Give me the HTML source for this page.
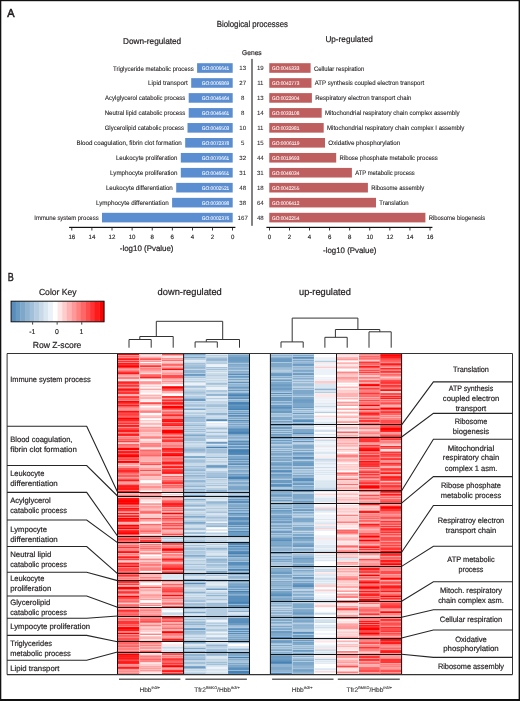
<!DOCTYPE html>
<html><head><meta charset="utf-8"><title>Figure</title>
<style>html,body{margin:0;padding:0;background:#fff;width:520px;height:701px;overflow:hidden}svg{display:block;text-rendering:geometricPrecision}#w{width:520px;height:701px;will-change:transform}</style>
</head><body>
<div id="w"><svg width="520" height="701" viewBox="0 0 520 701" font-family='"Liberation Sans", sans-serif'><rect x="0" y="0" width="520" height="701" fill="#fff"/>
<text x="7.2" y="16.8" font-size="11.6" fill="#231f20" stroke="#231f20" stroke-width="0.6" textLength="7.3" lengthAdjust="spacingAndGlyphs">A</text>
<text x="216.7" y="27.3" font-size="8.77" fill="#231f20" stroke="#231f20" stroke-width="0.21" textLength="71.2" lengthAdjust="spacingAndGlyphs">Biological processes</text>
<text x="123" y="43.5" font-size="8.47" fill="#231f20" stroke="#231f20" stroke-width="0.21" textLength="58.2" lengthAdjust="spacingAndGlyphs">Down-regulated</text>
<text x="325.4" y="42.3" font-size="8.47" fill="#231f20" stroke="#231f20" stroke-width="0.21" textLength="47.4" lengthAdjust="spacingAndGlyphs">Up-regulated</text>
<text x="242" y="54.8" font-size="6.94" fill="#231f20" stroke="#231f20" stroke-width="0.17" textLength="19.7" lengthAdjust="spacingAndGlyphs">Genes</text>
<rect x="251.3" y="58.9" width="1.4" height="166.9" fill="#4d4d4f"/>
<rect x="197.1" y="63.2" width="35.6" height="9.6" fill="#5b8dd1"/>
<text x="193.7" y="70.5" font-size="6.52" text-anchor="end" fill="#231f20" stroke="#231f20" stroke-width="0.1" textLength="80.7" lengthAdjust="spacingAndGlyphs">Triglyceride metabolic process</text>
<text x="229.3" y="70" font-size="5.18" text-anchor="end" fill="#fff" stroke="#fff" stroke-width="0.05" textLength="27.5" lengthAdjust="spacingAndGlyphs">GO:0006641</text>
<text x="242.7" y="70.2" font-size="6.1" text-anchor="middle" fill="#231f20" stroke="#231f20" stroke-width="0.05" textLength="6.79" lengthAdjust="spacingAndGlyphs">13</text>
<rect x="191.2" y="78.16" width="41.5" height="9.6" fill="#5b8dd1"/>
<text x="187.8" y="85.46" font-size="6.52" text-anchor="end" fill="#231f20" stroke="#231f20" stroke-width="0.1" textLength="39.8" lengthAdjust="spacingAndGlyphs">Lipid transport</text>
<text x="229.3" y="84.96" font-size="5.18" text-anchor="end" fill="#fff" stroke="#fff" stroke-width="0.05" textLength="27.5" lengthAdjust="spacingAndGlyphs">GO:0006869</text>
<text x="242.7" y="85.16" font-size="6.1" text-anchor="middle" fill="#231f20" stroke="#231f20" stroke-width="0.05" textLength="6.79" lengthAdjust="spacingAndGlyphs">27</text>
<rect x="188.7" y="93.12" width="44" height="9.6" fill="#5b8dd1"/>
<text x="185.3" y="100.42" font-size="6.52" text-anchor="end" fill="#231f20" stroke="#231f20" stroke-width="0.1" textLength="80.2" lengthAdjust="spacingAndGlyphs">Acylglycerol catabolic process</text>
<text x="229.3" y="99.92" font-size="5.18" text-anchor="end" fill="#fff" stroke="#fff" stroke-width="0.05" textLength="27.5" lengthAdjust="spacingAndGlyphs">GO:0046464</text>
<text x="242.7" y="100.12" font-size="6.1" text-anchor="middle" fill="#231f20" stroke="#231f20" stroke-width="0.05" textLength="3.39" lengthAdjust="spacingAndGlyphs">8</text>
<rect x="188.7" y="108.08" width="44" height="9.6" fill="#5b8dd1"/>
<text x="185.3" y="115.38" font-size="6.52" text-anchor="end" fill="#231f20" stroke="#231f20" stroke-width="0.1" textLength="80.6" lengthAdjust="spacingAndGlyphs">Neutral lipid catabolic process</text>
<text x="229.3" y="114.88" font-size="5.18" text-anchor="end" fill="#fff" stroke="#fff" stroke-width="0.05" textLength="27.5" lengthAdjust="spacingAndGlyphs">GO:0046461</text>
<text x="242.7" y="115.08" font-size="6.1" text-anchor="middle" fill="#231f20" stroke="#231f20" stroke-width="0.05" textLength="3.39" lengthAdjust="spacingAndGlyphs">8</text>
<rect x="187.5" y="123.04" width="45.2" height="9.6" fill="#5b8dd1"/>
<text x="184.1" y="130.34" font-size="6.52" text-anchor="end" fill="#231f20" stroke="#231f20" stroke-width="0.1" textLength="79.4" lengthAdjust="spacingAndGlyphs">Glycerolipid catabolic process</text>
<text x="229.3" y="129.84" font-size="5.18" text-anchor="end" fill="#fff" stroke="#fff" stroke-width="0.05" textLength="27.5" lengthAdjust="spacingAndGlyphs">GO:0046503</text>
<text x="242.7" y="130.04" font-size="6.1" text-anchor="middle" fill="#231f20" stroke="#231f20" stroke-width="0.05" textLength="6.79" lengthAdjust="spacingAndGlyphs">10</text>
<rect x="185.2" y="138" width="47.5" height="9.6" fill="#5b8dd1"/>
<text x="181.8" y="145.3" font-size="6.52" text-anchor="end" fill="#231f20" stroke="#231f20" stroke-width="0.1" textLength="105.3" lengthAdjust="spacingAndGlyphs">Blood coagulation, fibrin clot formation</text>
<text x="229.3" y="144.8" font-size="5.18" text-anchor="end" fill="#fff" stroke="#fff" stroke-width="0.05" textLength="27.5" lengthAdjust="spacingAndGlyphs">GO:0072378</text>
<text x="242.7" y="145" font-size="6.1" text-anchor="middle" fill="#231f20" stroke="#231f20" stroke-width="0.05" textLength="3.39" lengthAdjust="spacingAndGlyphs">5</text>
<rect x="180.8" y="152.96" width="51.9" height="9.6" fill="#5b8dd1"/>
<text x="177.4" y="160.26" font-size="6.52" text-anchor="end" fill="#231f20" stroke="#231f20" stroke-width="0.1" textLength="61.5" lengthAdjust="spacingAndGlyphs">Leukocyte proliferation</text>
<text x="229.3" y="159.76" font-size="5.18" text-anchor="end" fill="#fff" stroke="#fff" stroke-width="0.05" textLength="27.5" lengthAdjust="spacingAndGlyphs">GO:0070661</text>
<text x="242.7" y="159.96" font-size="6.1" text-anchor="middle" fill="#231f20" stroke="#231f20" stroke-width="0.05" textLength="6.79" lengthAdjust="spacingAndGlyphs">32</text>
<rect x="180.8" y="167.92" width="51.9" height="9.6" fill="#5b8dd1"/>
<text x="177.4" y="175.22" font-size="6.52" text-anchor="end" fill="#231f20" stroke="#231f20" stroke-width="0.1" textLength="67.3" lengthAdjust="spacingAndGlyphs">Lymphocyte proliferation</text>
<text x="229.3" y="174.72" font-size="5.18" text-anchor="end" fill="#fff" stroke="#fff" stroke-width="0.05" textLength="27.5" lengthAdjust="spacingAndGlyphs">GO:0046651</text>
<text x="242.7" y="174.92" font-size="6.1" text-anchor="middle" fill="#231f20" stroke="#231f20" stroke-width="0.05" textLength="6.79" lengthAdjust="spacingAndGlyphs">31</text>
<rect x="176.2" y="182.88" width="56.5" height="9.6" fill="#5b8dd1"/>
<text x="172.8" y="190.18" font-size="6.52" text-anchor="end" fill="#231f20" stroke="#231f20" stroke-width="0.1" textLength="66.9" lengthAdjust="spacingAndGlyphs">Leukocyte differentiation</text>
<text x="229.3" y="189.68" font-size="5.18" text-anchor="end" fill="#fff" stroke="#fff" stroke-width="0.05" textLength="27.5" lengthAdjust="spacingAndGlyphs">GO:0002521</text>
<text x="242.7" y="189.88" font-size="6.1" text-anchor="middle" fill="#231f20" stroke="#231f20" stroke-width="0.05" textLength="6.79" lengthAdjust="spacingAndGlyphs">48</text>
<rect x="172.1" y="197.84" width="60.6" height="9.6" fill="#5b8dd1"/>
<text x="168.7" y="205.14" font-size="6.52" text-anchor="end" fill="#231f20" stroke="#231f20" stroke-width="0.1" textLength="72.8" lengthAdjust="spacingAndGlyphs">Lymphocyte differentiation</text>
<text x="229.3" y="204.64" font-size="5.18" text-anchor="end" fill="#fff" stroke="#fff" stroke-width="0.05" textLength="27.5" lengthAdjust="spacingAndGlyphs">GO:0030098</text>
<text x="242.7" y="204.84" font-size="6.1" text-anchor="middle" fill="#231f20" stroke="#231f20" stroke-width="0.05" textLength="6.79" lengthAdjust="spacingAndGlyphs">38</text>
<rect x="102" y="212.8" width="130.7" height="9.6" fill="#5b8dd1"/>
<text x="98.6" y="220.1" font-size="6.52" text-anchor="end" fill="#231f20" stroke="#231f20" stroke-width="0.1" textLength="64.3" lengthAdjust="spacingAndGlyphs">Immune system process</text>
<text x="229.3" y="219.6" font-size="5.18" text-anchor="end" fill="#fff" stroke="#fff" stroke-width="0.05" textLength="27.5" lengthAdjust="spacingAndGlyphs">GO:0002376</text>
<text x="242.7" y="219.8" font-size="6.1" text-anchor="middle" fill="#231f20" stroke="#231f20" stroke-width="0.05" textLength="10.18" lengthAdjust="spacingAndGlyphs">167</text>
<rect x="269.3" y="63.2" width="41.3" height="9.6" fill="#bf5e5e"/>
<text x="313.9" y="70.5" font-size="6.47" fill="#231f20" stroke="#231f20" stroke-width="0.1" textLength="50.4" lengthAdjust="spacingAndGlyphs">Cellular respiration</text>
<text x="271.9" y="70" font-size="5.18" fill="#fff" stroke="#fff" stroke-width="0.05" textLength="27.5" lengthAdjust="spacingAndGlyphs">GO:0045333</text>
<text x="260.3" y="70.2" font-size="6.1" text-anchor="middle" fill="#231f20" stroke="#231f20" stroke-width="0.05" textLength="6.79" lengthAdjust="spacingAndGlyphs">19</text>
<rect x="269.3" y="78.16" width="42.2" height="9.6" fill="#bf5e5e"/>
<text x="314.8" y="85.46" font-size="6.47" fill="#231f20" stroke="#231f20" stroke-width="0.1" textLength="109.3" lengthAdjust="spacingAndGlyphs">ATP synthesis coupled electron transport</text>
<text x="271.9" y="84.96" font-size="5.18" fill="#fff" stroke="#fff" stroke-width="0.05" textLength="27.5" lengthAdjust="spacingAndGlyphs">GO:0042773</text>
<text x="260.3" y="85.16" font-size="6.1" text-anchor="middle" fill="#231f20" stroke="#231f20" stroke-width="0.05" textLength="6.33" lengthAdjust="spacingAndGlyphs">11</text>
<rect x="269.3" y="93.12" width="42.6" height="9.6" fill="#bf5e5e"/>
<text x="315.2" y="100.42" font-size="6.47" fill="#231f20" stroke="#231f20" stroke-width="0.1" textLength="96.3" lengthAdjust="spacingAndGlyphs">Respiratory electron transport chain</text>
<text x="271.9" y="99.92" font-size="5.18" fill="#fff" stroke="#fff" stroke-width="0.05" textLength="27.5" lengthAdjust="spacingAndGlyphs">GO:0022904</text>
<text x="260.3" y="100.12" font-size="6.1" text-anchor="middle" fill="#231f20" stroke="#231f20" stroke-width="0.05" textLength="6.79" lengthAdjust="spacingAndGlyphs">13</text>
<rect x="269.3" y="108.08" width="52.4" height="9.6" fill="#bf5e5e"/>
<text x="325" y="115.38" font-size="6.47" fill="#231f20" stroke="#231f20" stroke-width="0.1" textLength="134.6" lengthAdjust="spacingAndGlyphs">Mitochondrial respiratory chain complex assembly</text>
<text x="271.9" y="114.88" font-size="5.18" fill="#fff" stroke="#fff" stroke-width="0.05" textLength="27.5" lengthAdjust="spacingAndGlyphs">GO:0033108</text>
<text x="260.3" y="115.08" font-size="6.1" text-anchor="middle" fill="#231f20" stroke="#231f20" stroke-width="0.05" textLength="6.79" lengthAdjust="spacingAndGlyphs">14</text>
<rect x="269.3" y="123.04" width="54.4" height="9.6" fill="#bf5e5e"/>
<text x="327" y="130.34" font-size="6.47" fill="#231f20" stroke="#231f20" stroke-width="0.1" textLength="137.2" lengthAdjust="spacingAndGlyphs">Mitochondrial respiratory chain complex I assembly</text>
<text x="271.9" y="129.84" font-size="5.18" fill="#fff" stroke="#fff" stroke-width="0.05" textLength="27.5" lengthAdjust="spacingAndGlyphs">GO:0032981</text>
<text x="260.3" y="130.04" font-size="6.1" text-anchor="middle" fill="#231f20" stroke="#231f20" stroke-width="0.05" textLength="6.33" lengthAdjust="spacingAndGlyphs">11</text>
<rect x="269.3" y="138" width="55.7" height="9.6" fill="#bf5e5e"/>
<text x="328.3" y="145.3" font-size="6.47" fill="#231f20" stroke="#231f20" stroke-width="0.1" textLength="72" lengthAdjust="spacingAndGlyphs">Oxidative phosphorylation</text>
<text x="271.9" y="144.8" font-size="5.18" fill="#fff" stroke="#fff" stroke-width="0.05" textLength="27.5" lengthAdjust="spacingAndGlyphs">GO:0006119</text>
<text x="260.3" y="145" font-size="6.1" text-anchor="middle" fill="#231f20" stroke="#231f20" stroke-width="0.05" textLength="6.79" lengthAdjust="spacingAndGlyphs">15</text>
<rect x="269.3" y="152.96" width="66.9" height="9.6" fill="#bf5e5e"/>
<text x="339.5" y="160.26" font-size="6.47" fill="#231f20" stroke="#231f20" stroke-width="0.1" textLength="98.2" lengthAdjust="spacingAndGlyphs">Ribose phosphate metabolic process</text>
<text x="271.9" y="159.76" font-size="5.18" fill="#fff" stroke="#fff" stroke-width="0.05" textLength="27.5" lengthAdjust="spacingAndGlyphs">GO:0019693</text>
<text x="260.3" y="159.96" font-size="6.1" text-anchor="middle" fill="#231f20" stroke="#231f20" stroke-width="0.05" textLength="6.79" lengthAdjust="spacingAndGlyphs">44</text>
<rect x="269.3" y="167.92" width="82.6" height="9.6" fill="#bf5e5e"/>
<text x="355.2" y="175.22" font-size="6.47" fill="#231f20" stroke="#231f20" stroke-width="0.1" textLength="59.6" lengthAdjust="spacingAndGlyphs">ATP metabolic process</text>
<text x="271.9" y="174.72" font-size="5.18" fill="#fff" stroke="#fff" stroke-width="0.05" textLength="27.5" lengthAdjust="spacingAndGlyphs">GO:0046034</text>
<text x="260.3" y="174.92" font-size="6.1" text-anchor="middle" fill="#231f20" stroke="#231f20" stroke-width="0.05" textLength="6.79" lengthAdjust="spacingAndGlyphs">31</text>
<rect x="269.3" y="182.88" width="98.6" height="9.6" fill="#bf5e5e"/>
<text x="371.2" y="190.18" font-size="6.47" fill="#231f20" stroke="#231f20" stroke-width="0.1" textLength="52.9" lengthAdjust="spacingAndGlyphs">Ribosome assembly</text>
<text x="271.9" y="189.68" font-size="5.18" fill="#fff" stroke="#fff" stroke-width="0.05" textLength="27.5" lengthAdjust="spacingAndGlyphs">GO:0042255</text>
<text x="260.3" y="189.88" font-size="6.1" text-anchor="middle" fill="#231f20" stroke="#231f20" stroke-width="0.05" textLength="6.79" lengthAdjust="spacingAndGlyphs">18</text>
<rect x="269.3" y="197.84" width="106.7" height="9.6" fill="#bf5e5e"/>
<text x="379.3" y="205.14" font-size="6.47" fill="#231f20" stroke="#231f20" stroke-width="0.1" textLength="29.3" lengthAdjust="spacingAndGlyphs">Translation</text>
<text x="271.9" y="204.64" font-size="5.18" fill="#fff" stroke="#fff" stroke-width="0.05" textLength="27.5" lengthAdjust="spacingAndGlyphs">GO:0006412</text>
<text x="260.3" y="204.84" font-size="6.1" text-anchor="middle" fill="#231f20" stroke="#231f20" stroke-width="0.05" textLength="6.79" lengthAdjust="spacingAndGlyphs">64</text>
<rect x="269.3" y="212.8" width="156.1" height="9.6" fill="#bf5e5e"/>
<text x="428.7" y="220.1" font-size="6.47" fill="#231f20" stroke="#231f20" stroke-width="0.1" textLength="56.5" lengthAdjust="spacingAndGlyphs">Ribosome biogenesis</text>
<text x="271.9" y="219.6" font-size="5.18" fill="#fff" stroke="#fff" stroke-width="0.05" textLength="27.5" lengthAdjust="spacingAndGlyphs">GO:0042254</text>
<text x="260.3" y="219.8" font-size="6.1" text-anchor="middle" fill="#231f20" stroke="#231f20" stroke-width="0.05" textLength="6.79" lengthAdjust="spacingAndGlyphs">48</text>
<rect x="69.1" y="226.8" width="166.3" height="1.2" fill="#111"/>
<rect x="266.4" y="226.8" width="166" height="1.2" fill="#111"/>
<rect x="232.2" y="228" width="0.8" height="2.5" fill="#111"/>
<text x="232.6" y="238.9" font-size="6.22" text-anchor="middle" fill="#231f20" stroke="#231f20" stroke-width="0.15" textLength="3.39" lengthAdjust="spacingAndGlyphs">0</text>
<rect x="269" y="228" width="0.8" height="2.5" fill="#111"/>
<text x="269.4" y="238.9" font-size="6.22" text-anchor="middle" fill="#231f20" stroke="#231f20" stroke-width="0.15" textLength="3.39" lengthAdjust="spacingAndGlyphs">0</text>
<rect x="212.1" y="228" width="0.8" height="2.5" fill="#111"/>
<text x="212.5" y="238.9" font-size="6.22" text-anchor="middle" fill="#231f20" stroke="#231f20" stroke-width="0.15" textLength="3.39" lengthAdjust="spacingAndGlyphs">2</text>
<rect x="289.08" y="228" width="0.8" height="2.5" fill="#111"/>
<text x="289.48" y="238.9" font-size="6.22" text-anchor="middle" fill="#231f20" stroke="#231f20" stroke-width="0.15" textLength="3.39" lengthAdjust="spacingAndGlyphs">2</text>
<rect x="192" y="228" width="0.8" height="2.5" fill="#111"/>
<text x="192.4" y="238.9" font-size="6.22" text-anchor="middle" fill="#231f20" stroke="#231f20" stroke-width="0.15" textLength="3.39" lengthAdjust="spacingAndGlyphs">4</text>
<rect x="309.16" y="228" width="0.8" height="2.5" fill="#111"/>
<text x="309.56" y="238.9" font-size="6.22" text-anchor="middle" fill="#231f20" stroke="#231f20" stroke-width="0.15" textLength="3.39" lengthAdjust="spacingAndGlyphs">4</text>
<rect x="171.9" y="228" width="0.8" height="2.5" fill="#111"/>
<text x="172.3" y="238.9" font-size="6.22" text-anchor="middle" fill="#231f20" stroke="#231f20" stroke-width="0.15" textLength="3.39" lengthAdjust="spacingAndGlyphs">6</text>
<rect x="329.24" y="228" width="0.8" height="2.5" fill="#111"/>
<text x="329.64" y="238.9" font-size="6.22" text-anchor="middle" fill="#231f20" stroke="#231f20" stroke-width="0.15" textLength="3.39" lengthAdjust="spacingAndGlyphs">6</text>
<rect x="151.8" y="228" width="0.8" height="2.5" fill="#111"/>
<text x="152.2" y="238.9" font-size="6.22" text-anchor="middle" fill="#231f20" stroke="#231f20" stroke-width="0.15" textLength="3.39" lengthAdjust="spacingAndGlyphs">8</text>
<rect x="349.32" y="228" width="0.8" height="2.5" fill="#111"/>
<text x="349.72" y="238.9" font-size="6.22" text-anchor="middle" fill="#231f20" stroke="#231f20" stroke-width="0.15" textLength="3.39" lengthAdjust="spacingAndGlyphs">8</text>
<rect x="131.7" y="228" width="0.8" height="2.5" fill="#111"/>
<text x="132.1" y="238.9" font-size="6.22" text-anchor="middle" fill="#231f20" stroke="#231f20" stroke-width="0.15" textLength="6.79" lengthAdjust="spacingAndGlyphs">10</text>
<rect x="369.4" y="228" width="0.8" height="2.5" fill="#111"/>
<text x="369.8" y="238.9" font-size="6.22" text-anchor="middle" fill="#231f20" stroke="#231f20" stroke-width="0.15" textLength="6.79" lengthAdjust="spacingAndGlyphs">10</text>
<rect x="111.6" y="228" width="0.8" height="2.5" fill="#111"/>
<text x="112" y="238.9" font-size="6.22" text-anchor="middle" fill="#231f20" stroke="#231f20" stroke-width="0.15" textLength="6.79" lengthAdjust="spacingAndGlyphs">12</text>
<rect x="389.48" y="228" width="0.8" height="2.5" fill="#111"/>
<text x="389.88" y="238.9" font-size="6.22" text-anchor="middle" fill="#231f20" stroke="#231f20" stroke-width="0.15" textLength="6.79" lengthAdjust="spacingAndGlyphs">12</text>
<rect x="91.5" y="228" width="0.8" height="2.5" fill="#111"/>
<text x="91.9" y="238.9" font-size="6.22" text-anchor="middle" fill="#231f20" stroke="#231f20" stroke-width="0.15" textLength="6.79" lengthAdjust="spacingAndGlyphs">14</text>
<rect x="409.56" y="228" width="0.8" height="2.5" fill="#111"/>
<text x="409.96" y="238.9" font-size="6.22" text-anchor="middle" fill="#231f20" stroke="#231f20" stroke-width="0.15" textLength="6.79" lengthAdjust="spacingAndGlyphs">14</text>
<rect x="71.4" y="228" width="0.8" height="2.5" fill="#111"/>
<text x="71.8" y="238.9" font-size="6.22" text-anchor="middle" fill="#231f20" stroke="#231f20" stroke-width="0.15" textLength="6.79" lengthAdjust="spacingAndGlyphs">16</text>
<rect x="429.64" y="228" width="0.8" height="2.5" fill="#111"/>
<text x="430.04" y="238.9" font-size="6.22" text-anchor="middle" fill="#231f20" stroke="#231f20" stroke-width="0.15" textLength="6.79" lengthAdjust="spacingAndGlyphs">16</text>
<text x="119.8" y="251" font-size="8.06" fill="#231f20" stroke="#231f20" stroke-width="0.2" textLength="53.7" lengthAdjust="spacingAndGlyphs">-log10 (Pvalue)</text>
<text x="323.1" y="252.9" font-size="8.06" fill="#231f20" stroke="#231f20" stroke-width="0.2" textLength="53.4" lengthAdjust="spacingAndGlyphs">-log10 (Pvalue)</text>
<text x="7.8" y="280.9" font-size="11.6" fill="#231f20" stroke="#231f20" stroke-width="0.45" textLength="6" lengthAdjust="spacingAndGlyphs">B</text>
<text x="38.9" y="294.9" font-size="8.77" fill="#231f20" stroke="#231f20" stroke-width="0.21" textLength="37.8" lengthAdjust="spacingAndGlyphs">Color Key</text>
<rect x="11.1" y="301.2" width="4.95" height="20.6" fill="#588ebc"/>
<rect x="15.75" y="301.2" width="4.95" height="20.6" fill="#6b9bc3"/>
<rect x="20.39" y="301.2" width="4.95" height="20.6" fill="#7ea8ca"/>
<rect x="25.04" y="301.2" width="4.95" height="20.6" fill="#90b4d2"/>
<rect x="29.68" y="301.2" width="4.95" height="20.6" fill="#a2c0da"/>
<rect x="34.33" y="301.2" width="4.95" height="20.6" fill="#b5cde1"/>
<rect x="38.97" y="301.2" width="4.95" height="20.6" fill="#c8dae8"/>
<rect x="43.62" y="301.2" width="4.95" height="20.6" fill="#dae6f0"/>
<rect x="48.26" y="301.2" width="4.95" height="20.6" fill="#ecf2f8"/>
<rect x="52.91" y="301.2" width="4.95" height="20.6" fill="#ffffff"/>
<rect x="57.55" y="301.2" width="4.95" height="20.6" fill="#ffe6e6"/>
<rect x="62.2" y="301.2" width="4.95" height="20.6" fill="#ffcccc"/>
<rect x="66.84" y="301.2" width="4.95" height="20.6" fill="#ffb2b2"/>
<rect x="71.48" y="301.2" width="4.95" height="20.6" fill="#ff9999"/>
<rect x="76.13" y="301.2" width="4.95" height="20.6" fill="#ff8080"/>
<rect x="80.78" y="301.2" width="4.95" height="20.6" fill="#ff6666"/>
<rect x="85.42" y="301.2" width="4.95" height="20.6" fill="#ff4c4c"/>
<rect x="90.06" y="301.2" width="4.95" height="20.6" fill="#ff3333"/>
<rect x="94.71" y="301.2" width="4.95" height="20.6" fill="#ff1a1a"/>
<rect x="99.36" y="301.2" width="4.95" height="20.6" fill="#ff0000"/>
<rect x="11.1" y="301.2" width="92.9" height="20.6" fill="none" stroke="#111" stroke-width="1"/>
<rect x="32.3" y="322.2" width="0.8" height="2.4" fill="#111"/>
<text x="32.4" y="333.9" font-size="7.04" text-anchor="middle" fill="#231f20" stroke="#231f20" stroke-width="0.17" textLength="6.14" lengthAdjust="spacingAndGlyphs">-1</text>
<rect x="56.7" y="322.2" width="0.8" height="2.4" fill="#111"/>
<text x="56.8" y="333.9" font-size="7.04" text-anchor="middle" fill="#231f20" stroke="#231f20" stroke-width="0.17" textLength="3.84" lengthAdjust="spacingAndGlyphs">0</text>
<rect x="81.4" y="322.2" width="0.8" height="2.4" fill="#111"/>
<text x="81.5" y="333.9" font-size="7.04" text-anchor="middle" fill="#231f20" stroke="#231f20" stroke-width="0.17" textLength="3.84" lengthAdjust="spacingAndGlyphs">1</text>
<text x="32.7" y="347.7" font-size="8.77" fill="#231f20" stroke="#231f20" stroke-width="0.21" textLength="48.7" lengthAdjust="spacingAndGlyphs">Row Z-score</text>
<text x="157.6" y="295" font-size="9.49" fill="#231f20" stroke="#231f20" stroke-width="0.23" textLength="64.2" lengthAdjust="spacingAndGlyphs">down-regulated</text>
<text x="299" y="295" font-size="9.49" fill="#231f20" stroke="#231f20" stroke-width="0.23" textLength="51.9" lengthAdjust="spacingAndGlyphs">up-regulated</text>
<polyline points="156.3,336.5 156.3,321.3 222.7,321.3 222.7,339.5" fill="none" stroke="#333" stroke-width="1" stroke-linejoin="miter"/>
<polyline points="139.8,339.5 139.8,336.5 173.2,336.5 173.2,347.7" fill="none" stroke="#333" stroke-width="1" stroke-linejoin="miter"/>
<polyline points="129,347.7 129,339.5 151.2,339.5 151.2,347.7" fill="none" stroke="#333" stroke-width="1" stroke-linejoin="miter"/>
<polyline points="206.3,341.9 206.3,339.5 239.5,339.5 239.5,347.7" fill="none" stroke="#333" stroke-width="1" stroke-linejoin="miter"/>
<polyline points="195.1,347.7 195.1,341.9 217.3,341.9 217.3,347.7" fill="none" stroke="#333" stroke-width="1" stroke-linejoin="miter"/>
<polyline points="292.2,341.9 292.2,318.1 357.9,318.1 357.9,329.5" fill="none" stroke="#333" stroke-width="1" stroke-linejoin="miter"/>
<polyline points="281,347.7 281,341.9 303.2,341.9 303.2,347.7" fill="none" stroke="#333" stroke-width="1" stroke-linejoin="miter"/>
<polyline points="335.4,337.3 335.4,329.5 379.8,329.5 379.8,331.8" fill="none" stroke="#333" stroke-width="1" stroke-linejoin="miter"/>
<polyline points="324.9,347.7 324.9,337.3 347.2,337.3 347.2,347.7" fill="none" stroke="#333" stroke-width="1" stroke-linejoin="miter"/>
<polyline points="369,347.7 369,331.8 391.2,331.8 391.2,347.7" fill="none" stroke="#333" stroke-width="1" stroke-linejoin="miter"/>
<g>
<g transform="translate(117.7,0)">
<rect y="353.5" width="21.5" height="138.5" fill="#ff4c4c"/>
<rect y="353.5" width="21.5" height="1.85" fill="#ff0000"/>
<rect y="355.3" width="21.5" height="2.65" fill="#ff6666"/>
<rect y="357.9" width="21.5" height="2.65" fill="#ff1a1a"/>
<rect y="360.5" width="21.5" height="2.25" fill="#ff3333"/>
<rect y="362.7" width="21.5" height="1.55" fill="#ff1a1a"/>
<rect y="364.2" width="21.5" height="1.25" fill="#ff3333"/>
<rect y="365.4" width="21.5" height="2.65" fill="#ff0000"/>
<rect y="368" width="21.5" height="1.55" fill="#ff6666"/>
<rect y="369.5" width="21.5" height="1.55" fill="#ff6666"/>
<rect y="371" width="21.5" height="1.85" fill="#ff3333"/>
<rect y="372.8" width="21.5" height="1.55" fill="#ff1a1a"/>
<rect y="374.3" width="21.5" height="1.25" fill="#ff3333"/>
<rect y="375.5" width="21.5" height="1.25" fill="#ff9999"/>
<rect y="376.7" width="21.5" height="2.65" fill="#ff8080"/>
<rect y="379.3" width="21.5" height="1.85" fill="#ffe6e6"/>
<rect y="381.1" width="21.5" height="1.55" fill="#ff1a1a"/>
<rect y="382.6" width="21.5" height="1.55" fill="#ff1a1a"/>
<rect y="384.1" width="21.5" height="1.85" fill="#ff3333"/>
<rect y="385.9" width="21.5" height="1.85" fill="#ff4c4c"/>
<rect y="387.7" width="21.5" height="1.55" fill="#ff4c4c"/>
<rect y="389.2" width="21.5" height="1.55" fill="#ff0000"/>
<rect y="390.7" width="21.5" height="1.25" fill="#ff6666"/>
<rect y="391.9" width="21.5" height="2.65" fill="#ff3333"/>
<rect y="394.5" width="21.5" height="1.85" fill="#ffb2b2"/>
<rect y="396.3" width="21.5" height="2.65" fill="#ff3333"/>
<rect y="398.9" width="21.5" height="1.85" fill="#ff4c4c"/>
<rect y="400.7" width="21.5" height="1.25" fill="#ff0000"/>
<rect y="401.9" width="21.5" height="2.25" fill="#ff1a1a"/>
<rect y="404.1" width="21.5" height="2.25" fill="#ff1a1a"/>
<rect y="406.3" width="21.5" height="1.85" fill="#ff6666"/>
<rect y="408.1" width="21.5" height="1.25" fill="#ff6666"/>
<rect y="409.3" width="21.5" height="1.55" fill="#ff4c4c"/>
<rect y="410.8" width="21.5" height="2.25" fill="#ff0000"/>
<rect y="413" width="21.5" height="1.55" fill="#ff1a1a"/>
<rect y="414.5" width="21.5" height="2.65" fill="#ff4c4c"/>
<rect y="417.1" width="21.5" height="2.25" fill="#ff0000"/>
<rect y="419.3" width="21.5" height="1.55" fill="#ff1a1a"/>
<rect y="420.8" width="21.5" height="1.25" fill="#ff3333"/>
<rect y="422" width="21.5" height="2.65" fill="#ff3333"/>
<rect y="424.6" width="21.5" height="2.65" fill="#ff1a1a"/>
<rect y="427.2" width="21.5" height="2.65" fill="#ff4c4c"/>
<rect y="429.8" width="21.5" height="2.65" fill="#ff1a1a"/>
<rect y="432.4" width="21.5" height="1.25" fill="#ffb2b2"/>
<rect y="433.6" width="21.5" height="2.65" fill="#ff1a1a"/>
<rect y="436.2" width="21.5" height="2.25" fill="#ff8080"/>
<rect y="438.4" width="21.5" height="1.55" fill="#ff1a1a"/>
<rect y="439.9" width="21.5" height="1.55" fill="#ff6666"/>
<rect y="441.4" width="21.5" height="1.25" fill="#ff3333"/>
<rect y="442.6" width="21.5" height="1.55" fill="#ffcccc"/>
<rect y="444.1" width="21.5" height="1.25" fill="#ff6666"/>
<rect y="445.3" width="21.5" height="2.65" fill="#ff8080"/>
<rect y="447.9" width="21.5" height="2.65" fill="#ff0000"/>
<rect y="450.5" width="21.5" height="1.25" fill="#ff1a1a"/>
<rect y="451.7" width="21.5" height="2.25" fill="#ff1a1a"/>
<rect y="453.9" width="21.5" height="1.25" fill="#ff0000"/>
<rect y="455.1" width="21.5" height="2.25" fill="#ff0000"/>
<rect y="457.3" width="21.5" height="1.55" fill="#ff6666"/>
<rect y="458.8" width="21.5" height="1.85" fill="#ff4c4c"/>
<rect y="460.6" width="21.5" height="2.65" fill="#ff0000"/>
<rect y="463.2" width="21.5" height="1.25" fill="#ff8080"/>
<rect y="464.4" width="21.5" height="1.85" fill="#ffcccc"/>
<rect y="466.2" width="21.5" height="1.55" fill="#ff4c4c"/>
<rect y="467.7" width="21.5" height="2.65" fill="#ff4c4c"/>
<rect y="470.3" width="21.5" height="1.55" fill="#ff1a1a"/>
<rect y="471.8" width="21.5" height="2.25" fill="#ff4c4c"/>
<rect y="474" width="21.5" height="1.85" fill="#ff6666"/>
<rect y="475.8" width="21.5" height="1.25" fill="#ff3333"/>
<rect y="477" width="21.5" height="2.65" fill="#ff8080"/>
<rect y="479.6" width="21.5" height="2.25" fill="#ff1a1a"/>
<rect y="481.8" width="21.5" height="1.85" fill="#ff9999"/>
<rect y="483.6" width="21.5" height="1.25" fill="#ff3333"/>
<rect y="484.8" width="21.5" height="2.65" fill="#ff1a1a"/>
<rect y="487.4" width="21.5" height="2.65" fill="#ff1a1a"/>
<rect y="490" width="21.5" height="1.25" fill="#ff8080"/>
<rect y="491.2" width="21.5" height="0.85" fill="#ff0000"/>
<rect y="355.03" width="21.5" height="0.55" fill="#fff" opacity="0.75"/>
<rect y="357.63" width="21.5" height="0.55" fill="#fff" opacity="0.75"/>
<rect y="360.23" width="21.5" height="0.55" fill="#fff" opacity="0.75"/>
<rect y="362.43" width="21.5" height="0.55" fill="#fff" opacity="0.75"/>
<rect y="367.73" width="21.5" height="0.55" fill="#fff" opacity="0.75"/>
<rect y="369.23" width="21.5" height="0.55" fill="#fff" opacity="0.75"/>
<rect y="370.73" width="21.5" height="0.55" fill="#fff" opacity="0.75"/>
<rect y="374.03" width="21.5" height="0.55" fill="#fff" opacity="0.75"/>
<rect y="375.23" width="21.5" height="0.55" fill="#fff" opacity="0.75"/>
<rect y="376.43" width="21.5" height="0.55" fill="#fff" opacity="0.75"/>
<rect y="379.03" width="21.5" height="0.55" fill="#fff" opacity="0.75"/>
<rect y="380.83" width="21.5" height="0.55" fill="#fff" opacity="0.75"/>
<rect y="383.83" width="21.5" height="0.55" fill="#fff" opacity="0.75"/>
<rect y="387.43" width="21.5" height="0.55" fill="#fff" opacity="0.75"/>
<rect y="394.23" width="21.5" height="0.55" fill="#fff" opacity="0.75"/>
<rect y="398.63" width="21.5" height="0.55" fill="#fff" opacity="0.75"/>
<rect y="400.43" width="21.5" height="0.55" fill="#fff" opacity="0.75"/>
<rect y="403.83" width="21.5" height="0.55" fill="#fff" opacity="0.75"/>
<rect y="407.83" width="21.5" height="0.55" fill="#fff" opacity="0.75"/>
<rect y="409.03" width="21.5" height="0.55" fill="#fff" opacity="0.75"/>
<rect y="410.53" width="21.5" height="0.55" fill="#fff" opacity="0.75"/>
<rect y="412.73" width="21.5" height="0.55" fill="#fff" opacity="0.75"/>
<rect y="416.83" width="21.5" height="0.55" fill="#fff" opacity="0.75"/>
<rect y="421.73" width="21.5" height="0.55" fill="#fff" opacity="0.75"/>
<rect y="424.33" width="21.5" height="0.55" fill="#fff" opacity="0.75"/>
<rect y="426.93" width="21.5" height="0.55" fill="#fff" opacity="0.75"/>
<rect y="435.93" width="21.5" height="0.55" fill="#fff" opacity="0.75"/>
<rect y="438.13" width="21.5" height="0.55" fill="#fff" opacity="0.75"/>
<rect y="439.63" width="21.5" height="0.55" fill="#fff" opacity="0.75"/>
<rect y="442.33" width="21.5" height="0.55" fill="#fff" opacity="0.75"/>
<rect y="450.23" width="21.5" height="0.55" fill="#fff" opacity="0.75"/>
<rect y="453.63" width="21.5" height="0.55" fill="#fff" opacity="0.75"/>
<rect y="460.33" width="21.5" height="0.55" fill="#fff" opacity="0.75"/>
<rect y="462.93" width="21.5" height="0.55" fill="#fff" opacity="0.75"/>
<rect y="465.93" width="21.5" height="0.55" fill="#fff" opacity="0.75"/>
<rect y="467.43" width="21.5" height="0.55" fill="#fff" opacity="0.75"/>
<rect y="473.73" width="21.5" height="0.55" fill="#fff" opacity="0.75"/>
<rect y="476.73" width="21.5" height="0.55" fill="#fff" opacity="0.75"/>
<rect y="481.53" width="21.5" height="0.55" fill="#fff" opacity="0.75"/>
<rect y="483.33" width="21.5" height="0.55" fill="#fff" opacity="0.75"/>
<rect y="484.53" width="21.5" height="0.55" fill="#fff" opacity="0.75"/>
<rect y="492" width="21.5" height="4" fill="#ff6666"/>
<rect y="492" width="21.5" height="1.55" fill="#ff8080"/>
<rect y="493.5" width="21.5" height="1.55" fill="#ff9999"/>
<rect y="495" width="21.5" height="1.05" fill="#ff4c4c"/>
<rect y="493.23" width="21.5" height="0.55" fill="#fff" opacity="0.75"/>
<rect y="494.73" width="21.5" height="0.55" fill="#fff" opacity="0.75"/>
<rect y="496" width="21.5" height="40" fill="#ff4c4c"/>
<rect y="496" width="21.5" height="2.25" fill="#ffb2b2"/>
<rect y="498.2" width="21.5" height="1.55" fill="#ff0000"/>
<rect y="499.7" width="21.5" height="1.25" fill="#ff0000"/>
<rect y="500.9" width="21.5" height="1.55" fill="#ff0000"/>
<rect y="502.4" width="21.5" height="2.65" fill="#ff0000"/>
<rect y="505" width="21.5" height="2.65" fill="#ff4c4c"/>
<rect y="507.6" width="21.5" height="1.25" fill="#ff0000"/>
<rect y="508.8" width="21.5" height="2.65" fill="#ff3333"/>
<rect y="511.4" width="21.5" height="1.55" fill="#ffb2b2"/>
<rect y="512.9" width="21.5" height="1.55" fill="#ff1a1a"/>
<rect y="514.4" width="21.5" height="1.55" fill="#ff4c4c"/>
<rect y="515.9" width="21.5" height="1.85" fill="#ff1a1a"/>
<rect y="517.7" width="21.5" height="1.55" fill="#ff0000"/>
<rect y="519.2" width="21.5" height="2.65" fill="#ff1a1a"/>
<rect y="521.8" width="21.5" height="2.65" fill="#ffb2b2"/>
<rect y="524.4" width="21.5" height="2.65" fill="#ff0000"/>
<rect y="527" width="21.5" height="2.65" fill="#ff0000"/>
<rect y="529.6" width="21.5" height="1.25" fill="#ff3333"/>
<rect y="530.8" width="21.5" height="1.55" fill="#ff1a1a"/>
<rect y="532.3" width="21.5" height="2.65" fill="#ff0000"/>
<rect y="534.9" width="21.5" height="1.15" fill="#ff8080"/>
<rect y="504.73" width="21.5" height="0.55" fill="#fff" opacity="0.75"/>
<rect y="507.33" width="21.5" height="0.55" fill="#fff" opacity="0.75"/>
<rect y="514.13" width="21.5" height="0.55" fill="#fff" opacity="0.75"/>
<rect y="517.43" width="21.5" height="0.55" fill="#fff" opacity="0.75"/>
<rect y="524.13" width="21.5" height="0.55" fill="#fff" opacity="0.75"/>
<rect y="526.73" width="21.5" height="0.55" fill="#fff" opacity="0.75"/>
<rect y="529.33" width="21.5" height="0.55" fill="#fff" opacity="0.75"/>
<rect y="534.63" width="21.5" height="0.55" fill="#fff" opacity="0.75"/>
<rect y="536" width="21.5" height="6.6" fill="#ff6666"/>
<rect y="536" width="21.5" height="1.25" fill="#ff6666"/>
<rect y="537.2" width="21.5" height="1.25" fill="#ff6666"/>
<rect y="538.4" width="21.5" height="2.65" fill="#ff3333"/>
<rect y="541" width="21.5" height="1.25" fill="#ff4c4c"/>
<rect y="542.2" width="21.5" height="0.45" fill="#ffcccc"/>
<rect y="540.73" width="21.5" height="0.55" fill="#fff" opacity="0.75"/>
<rect y="542.6" width="21.5" height="31" fill="#ff4c4c"/>
<rect y="542.6" width="21.5" height="1.85" fill="#ff8080"/>
<rect y="544.4" width="21.5" height="1.85" fill="#ff6666"/>
<rect y="546.2" width="21.5" height="2.65" fill="#ff3333"/>
<rect y="548.8" width="21.5" height="2.65" fill="#ff8080"/>
<rect y="551.4" width="21.5" height="1.85" fill="#ff0000"/>
<rect y="553.2" width="21.5" height="2.25" fill="#ff8080"/>
<rect y="555.4" width="21.5" height="1.25" fill="#ff6666"/>
<rect y="556.6" width="21.5" height="2.25" fill="#ff1a1a"/>
<rect y="558.8" width="21.5" height="1.85" fill="#ff3333"/>
<rect y="560.6" width="21.5" height="1.85" fill="#ffcccc"/>
<rect y="562.4" width="21.5" height="1.55" fill="#ff1a1a"/>
<rect y="563.9" width="21.5" height="2.25" fill="#ff4c4c"/>
<rect y="566.1" width="21.5" height="1.55" fill="#ff0000"/>
<rect y="567.6" width="21.5" height="2.25" fill="#ff4c4c"/>
<rect y="569.8" width="21.5" height="2.25" fill="#ff4c4c"/>
<rect y="572" width="21.5" height="1.65" fill="#ff1a1a"/>
<rect y="544.12" width="21.5" height="0.55" fill="#fff" opacity="0.75"/>
<rect y="545.92" width="21.5" height="0.55" fill="#fff" opacity="0.75"/>
<rect y="548.52" width="21.5" height="0.55" fill="#fff" opacity="0.75"/>
<rect y="552.92" width="21.5" height="0.55" fill="#fff" opacity="0.75"/>
<rect y="555.12" width="21.5" height="0.55" fill="#fff" opacity="0.75"/>
<rect y="558.53" width="21.5" height="0.55" fill="#fff" opacity="0.75"/>
<rect y="560.33" width="21.5" height="0.55" fill="#fff" opacity="0.75"/>
<rect y="562.12" width="21.5" height="0.55" fill="#fff" opacity="0.75"/>
<rect y="567.33" width="21.5" height="0.55" fill="#fff" opacity="0.75"/>
<rect y="571.73" width="21.5" height="0.55" fill="#fff" opacity="0.75"/>
<rect y="573.6" width="21.5" height="7" fill="#ff6666"/>
<rect y="573.6" width="21.5" height="1.25" fill="#ff8080"/>
<rect y="574.8" width="21.5" height="2.25" fill="#ff3333"/>
<rect y="577" width="21.5" height="2.65" fill="#ff8080"/>
<rect y="579.6" width="21.5" height="1.05" fill="#ff0000"/>
<rect y="576.73" width="21.5" height="0.55" fill="#fff" opacity="0.75"/>
<rect y="579.33" width="21.5" height="0.55" fill="#fff" opacity="0.75"/>
<rect y="580.6" width="21.5" height="26.7" fill="#ff4c4c"/>
<rect y="580.6" width="21.5" height="1.25" fill="#ff1a1a"/>
<rect y="581.8" width="21.5" height="1.55" fill="#ff3333"/>
<rect y="583.3" width="21.5" height="1.55" fill="#ff1a1a"/>
<rect y="584.8" width="21.5" height="1.85" fill="#ffb2b2"/>
<rect y="586.6" width="21.5" height="2.65" fill="#ff0000"/>
<rect y="589.2" width="21.5" height="1.25" fill="#ff6666"/>
<rect y="590.4" width="21.5" height="1.55" fill="#ff4c4c"/>
<rect y="591.9" width="21.5" height="1.25" fill="#ff3333"/>
<rect y="593.1" width="21.5" height="1.25" fill="#ff6666"/>
<rect y="594.3" width="21.5" height="1.25" fill="#ff6666"/>
<rect y="595.5" width="21.5" height="1.85" fill="#ff0000"/>
<rect y="597.3" width="21.5" height="2.65" fill="#ff4c4c"/>
<rect y="599.9" width="21.5" height="2.65" fill="#ff6666"/>
<rect y="602.5" width="21.5" height="1.85" fill="#ffcccc"/>
<rect y="604.3" width="21.5" height="1.55" fill="#ff0000"/>
<rect y="605.8" width="21.5" height="1.55" fill="#ff6666"/>
<rect y="583.03" width="21.5" height="0.55" fill="#fff" opacity="0.75"/>
<rect y="586.33" width="21.5" height="0.55" fill="#fff" opacity="0.75"/>
<rect y="590.13" width="21.5" height="0.55" fill="#fff" opacity="0.75"/>
<rect y="594.03" width="21.5" height="0.55" fill="#fff" opacity="0.75"/>
<rect y="595.23" width="21.5" height="0.55" fill="#fff" opacity="0.75"/>
<rect y="599.63" width="21.5" height="0.55" fill="#fff" opacity="0.75"/>
<rect y="604.03" width="21.5" height="0.55" fill="#fff" opacity="0.75"/>
<rect y="605.53" width="21.5" height="0.55" fill="#fff" opacity="0.75"/>
<rect y="607.3" width="21.5" height="8.7" fill="#ff6666"/>
<rect y="607.3" width="21.5" height="1.85" fill="#ff9999"/>
<rect y="609.1" width="21.5" height="1.25" fill="#ff4c4c"/>
<rect y="610.3" width="21.5" height="1.25" fill="#ff1a1a"/>
<rect y="611.5" width="21.5" height="1.55" fill="#ff4c4c"/>
<rect y="613" width="21.5" height="1.55" fill="#ff4c4c"/>
<rect y="614.5" width="21.5" height="1.55" fill="#ff6666"/>
<rect y="608.82" width="21.5" height="0.55" fill="#fff" opacity="0.75"/>
<rect y="612.73" width="21.5" height="0.55" fill="#fff" opacity="0.75"/>
<rect y="616" width="21.5" height="25.7" fill="#ff4c4c"/>
<rect y="616" width="21.5" height="2.25" fill="#ffb2b2"/>
<rect y="618.2" width="21.5" height="1.85" fill="#ff6666"/>
<rect y="620" width="21.5" height="1.55" fill="#ff8080"/>
<rect y="621.5" width="21.5" height="1.55" fill="#ff0000"/>
<rect y="623" width="21.5" height="1.85" fill="#ff0000"/>
<rect y="624.8" width="21.5" height="1.85" fill="#ff4c4c"/>
<rect y="626.6" width="21.5" height="1.25" fill="#ff0000"/>
<rect y="627.8" width="21.5" height="1.85" fill="#ff0000"/>
<rect y="629.6" width="21.5" height="1.85" fill="#ff1a1a"/>
<rect y="631.4" width="21.5" height="1.25" fill="#ff3333"/>
<rect y="632.6" width="21.5" height="1.85" fill="#ff0000"/>
<rect y="634.4" width="21.5" height="1.85" fill="#ff4c4c"/>
<rect y="636.2" width="21.5" height="1.55" fill="#ff0000"/>
<rect y="637.7" width="21.5" height="2.65" fill="#ff4c4c"/>
<rect y="640.3" width="21.5" height="1.45" fill="#ff4c4c"/>
<rect y="622.73" width="21.5" height="0.55" fill="#fff" opacity="0.75"/>
<rect y="624.52" width="21.5" height="0.55" fill="#fff" opacity="0.75"/>
<rect y="626.32" width="21.5" height="0.55" fill="#fff" opacity="0.75"/>
<rect y="631.12" width="21.5" height="0.55" fill="#fff" opacity="0.75"/>
<rect y="632.32" width="21.5" height="0.55" fill="#fff" opacity="0.75"/>
<rect y="634.12" width="21.5" height="0.55" fill="#fff" opacity="0.75"/>
<rect y="635.92" width="21.5" height="0.55" fill="#fff" opacity="0.75"/>
<rect y="637.42" width="21.5" height="0.55" fill="#fff" opacity="0.75"/>
<rect y="641.7" width="21.5" height="10.3" fill="#ff6666"/>
<rect y="641.7" width="21.5" height="1.85" fill="#ff6666"/>
<rect y="643.5" width="21.5" height="1.55" fill="#ff6666"/>
<rect y="645" width="21.5" height="1.85" fill="#ff4c4c"/>
<rect y="646.8" width="21.5" height="1.25" fill="#ff9999"/>
<rect y="648" width="21.5" height="2.65" fill="#ff8080"/>
<rect y="650.6" width="21.5" height="1.45" fill="#ff6666"/>
<rect y="644.73" width="21.5" height="0.55" fill="#fff" opacity="0.75"/>
<rect y="650.33" width="21.5" height="0.55" fill="#fff" opacity="0.75"/>
<rect y="652" width="21.5" height="22.6" fill="#ff4c4c"/>
<rect y="652" width="21.5" height="1.85" fill="#ff8080"/>
<rect y="653.8" width="21.5" height="1.55" fill="#ff0000"/>
<rect y="655.3" width="21.5" height="2.25" fill="#ff1a1a"/>
<rect y="657.5" width="21.5" height="2.65" fill="#ff1a1a"/>
<rect y="660.1" width="21.5" height="1.25" fill="#ff0000"/>
<rect y="661.3" width="21.5" height="2.65" fill="#ff1a1a"/>
<rect y="663.9" width="21.5" height="1.55" fill="#ff9999"/>
<rect y="665.4" width="21.5" height="1.25" fill="#ff1a1a"/>
<rect y="666.6" width="21.5" height="2.25" fill="#ff1a1a"/>
<rect y="668.8" width="21.5" height="1.25" fill="#ff8080"/>
<rect y="670" width="21.5" height="1.25" fill="#ff8080"/>
<rect y="671.2" width="21.5" height="1.25" fill="#ff4c4c"/>
<rect y="672.4" width="21.5" height="2.25" fill="#ff8080"/>
<rect y="659.83" width="21.5" height="0.55" fill="#fff" opacity="0.75"/>
<rect y="665.13" width="21.5" height="0.55" fill="#fff" opacity="0.75"/>
<rect y="666.33" width="21.5" height="0.55" fill="#fff" opacity="0.75"/>
<rect y="669.73" width="21.5" height="0.55" fill="#fff" opacity="0.75"/>
<rect y="670.93" width="21.5" height="0.55" fill="#fff" opacity="0.75"/>
<rect y="672.13" width="21.5" height="0.55" fill="#fff" opacity="0.75"/>
</g>
<g transform="translate(140.1,0)">
<rect y="353.5" width="21.2" height="138.5" fill="#ffb2b2"/>
<rect y="353.5" width="21.2" height="1.25" fill="#ffb2b2"/>
<rect y="354.7" width="21.2" height="1.85" fill="#ffe6e6"/>
<rect y="356.5" width="21.2" height="1.55" fill="#ff9999"/>
<rect y="358" width="21.2" height="2.25" fill="#ff4c4c"/>
<rect y="360.2" width="21.2" height="1.85" fill="#ff9999"/>
<rect y="362" width="21.2" height="1.25" fill="#ffffff"/>
<rect y="363.2" width="21.2" height="1.85" fill="#ff9999"/>
<rect y="365" width="21.2" height="2.65" fill="#ff3333"/>
<rect y="367.6" width="21.2" height="2.25" fill="#ff8080"/>
<rect y="369.8" width="21.2" height="1.55" fill="#ff9999"/>
<rect y="371.3" width="21.2" height="1.85" fill="#ffb2b2"/>
<rect y="373.1" width="21.2" height="1.25" fill="#ffcccc"/>
<rect y="374.3" width="21.2" height="2.65" fill="#ff6666"/>
<rect y="376.9" width="21.2" height="1.25" fill="#ff0000"/>
<rect y="378.1" width="21.2" height="1.25" fill="#ff6666"/>
<rect y="379.3" width="21.2" height="1.85" fill="#ffffff"/>
<rect y="381.1" width="21.2" height="1.55" fill="#ff8080"/>
<rect y="382.6" width="21.2" height="1.85" fill="#ff9999"/>
<rect y="384.4" width="21.2" height="1.55" fill="#ffe6e6"/>
<rect y="385.9" width="21.2" height="1.25" fill="#ffcccc"/>
<rect y="387.1" width="21.2" height="1.55" fill="#ffffff"/>
<rect y="388.6" width="21.2" height="1.55" fill="#ff9999"/>
<rect y="390.1" width="21.2" height="2.25" fill="#ffe6e6"/>
<rect y="392.3" width="21.2" height="2.25" fill="#ffffff"/>
<rect y="394.5" width="21.2" height="1.85" fill="#ffb2b2"/>
<rect y="396.3" width="21.2" height="1.85" fill="#ffb2b2"/>
<rect y="398.1" width="21.2" height="1.25" fill="#ffb2b2"/>
<rect y="399.3" width="21.2" height="1.85" fill="#ffe6e6"/>
<rect y="401.1" width="21.2" height="1.25" fill="#ffffff"/>
<rect y="402.3" width="21.2" height="1.85" fill="#ff4c4c"/>
<rect y="404.1" width="21.2" height="1.85" fill="#ffb2b2"/>
<rect y="405.9" width="21.2" height="1.85" fill="#ffffff"/>
<rect y="407.7" width="21.2" height="1.55" fill="#ffcccc"/>
<rect y="409.2" width="21.2" height="1.55" fill="#ffb2b2"/>
<rect y="410.7" width="21.2" height="2.25" fill="#ff8080"/>
<rect y="412.9" width="21.2" height="2.65" fill="#ffffff"/>
<rect y="415.5" width="21.2" height="1.25" fill="#ff8080"/>
<rect y="416.7" width="21.2" height="1.55" fill="#ffb2b2"/>
<rect y="418.2" width="21.2" height="1.85" fill="#ffffff"/>
<rect y="420" width="21.2" height="1.55" fill="#ffcccc"/>
<rect y="421.5" width="21.2" height="1.85" fill="#ffe6e6"/>
<rect y="423.3" width="21.2" height="1.85" fill="#ffb2b2"/>
<rect y="425.1" width="21.2" height="1.55" fill="#ffe6e6"/>
<rect y="426.6" width="21.2" height="1.55" fill="#ff9999"/>
<rect y="428.1" width="21.2" height="1.25" fill="#ffb2b2"/>
<rect y="429.3" width="21.2" height="1.55" fill="#ff4c4c"/>
<rect y="430.8" width="21.2" height="1.85" fill="#ff9999"/>
<rect y="432.6" width="21.2" height="1.55" fill="#ffb2b2"/>
<rect y="434.1" width="21.2" height="1.55" fill="#ffb2b2"/>
<rect y="435.6" width="21.2" height="1.85" fill="#ff9999"/>
<rect y="437.4" width="21.2" height="1.55" fill="#ff6666"/>
<rect y="438.9" width="21.2" height="2.25" fill="#ffe6e6"/>
<rect y="441.1" width="21.2" height="1.55" fill="#ffcccc"/>
<rect y="442.6" width="21.2" height="1.85" fill="#ff8080"/>
<rect y="444.4" width="21.2" height="1.85" fill="#ff8080"/>
<rect y="446.2" width="21.2" height="1.55" fill="#ff8080"/>
<rect y="447.7" width="21.2" height="1.55" fill="#ffe6e6"/>
<rect y="449.2" width="21.2" height="1.85" fill="#ff6666"/>
<rect y="451" width="21.2" height="1.25" fill="#ff8080"/>
<rect y="452.2" width="21.2" height="2.25" fill="#ff8080"/>
<rect y="454.4" width="21.2" height="2.25" fill="#ff6666"/>
<rect y="456.6" width="21.2" height="2.65" fill="#ffb2b2"/>
<rect y="459.2" width="21.2" height="2.25" fill="#ffb2b2"/>
<rect y="461.4" width="21.2" height="2.65" fill="#ff8080"/>
<rect y="464" width="21.2" height="1.25" fill="#ff4c4c"/>
<rect y="465.2" width="21.2" height="2.25" fill="#ffcccc"/>
<rect y="467.4" width="21.2" height="1.25" fill="#ff8080"/>
<rect y="468.6" width="21.2" height="1.25" fill="#ffb2b2"/>
<rect y="469.8" width="21.2" height="1.85" fill="#ff4c4c"/>
<rect y="471.6" width="21.2" height="2.25" fill="#ffb2b2"/>
<rect y="473.8" width="21.2" height="1.25" fill="#ff8080"/>
<rect y="475" width="21.2" height="1.55" fill="#ff8080"/>
<rect y="476.5" width="21.2" height="1.55" fill="#ffb2b2"/>
<rect y="478" width="21.2" height="2.25" fill="#ffb2b2"/>
<rect y="480.2" width="21.2" height="1.85" fill="#ffffff"/>
<rect y="482" width="21.2" height="1.55" fill="#ffffff"/>
<rect y="483.5" width="21.2" height="1.25" fill="#ff4c4c"/>
<rect y="484.7" width="21.2" height="1.25" fill="#ffb2b2"/>
<rect y="485.9" width="21.2" height="2.25" fill="#ff8080"/>
<rect y="488.1" width="21.2" height="1.85" fill="#ff9999"/>
<rect y="489.9" width="21.2" height="1.25" fill="#ffcccc"/>
<rect y="491.1" width="21.2" height="0.95" fill="#ffffff"/>
<rect y="356.23" width="21.2" height="0.55" fill="#fff" opacity="0.75"/>
<rect y="357.73" width="21.2" height="0.55" fill="#fff" opacity="0.75"/>
<rect y="359.93" width="21.2" height="0.55" fill="#fff" opacity="0.75"/>
<rect y="364.73" width="21.2" height="0.55" fill="#fff" opacity="0.75"/>
<rect y="367.33" width="21.2" height="0.55" fill="#fff" opacity="0.75"/>
<rect y="372.83" width="21.2" height="0.55" fill="#fff" opacity="0.75"/>
<rect y="377.83" width="21.2" height="0.55" fill="#fff" opacity="0.75"/>
<rect y="379.03" width="21.2" height="0.55" fill="#fff" opacity="0.75"/>
<rect y="380.83" width="21.2" height="0.55" fill="#fff" opacity="0.75"/>
<rect y="385.63" width="21.2" height="0.55" fill="#fff" opacity="0.75"/>
<rect y="388.33" width="21.2" height="0.55" fill="#fff" opacity="0.75"/>
<rect y="389.83" width="21.2" height="0.55" fill="#fff" opacity="0.75"/>
<rect y="394.23" width="21.2" height="0.55" fill="#fff" opacity="0.75"/>
<rect y="396.03" width="21.2" height="0.55" fill="#fff" opacity="0.75"/>
<rect y="399.03" width="21.2" height="0.55" fill="#fff" opacity="0.75"/>
<rect y="400.83" width="21.2" height="0.55" fill="#fff" opacity="0.75"/>
<rect y="405.63" width="21.2" height="0.55" fill="#fff" opacity="0.75"/>
<rect y="408.93" width="21.2" height="0.55" fill="#fff" opacity="0.75"/>
<rect y="415.23" width="21.2" height="0.55" fill="#fff" opacity="0.75"/>
<rect y="416.43" width="21.2" height="0.55" fill="#fff" opacity="0.75"/>
<rect y="421.23" width="21.2" height="0.55" fill="#fff" opacity="0.75"/>
<rect y="424.83" width="21.2" height="0.55" fill="#fff" opacity="0.75"/>
<rect y="426.33" width="21.2" height="0.55" fill="#fff" opacity="0.75"/>
<rect y="429.03" width="21.2" height="0.55" fill="#fff" opacity="0.75"/>
<rect y="430.53" width="21.2" height="0.55" fill="#fff" opacity="0.75"/>
<rect y="432.33" width="21.2" height="0.55" fill="#fff" opacity="0.75"/>
<rect y="433.83" width="21.2" height="0.55" fill="#fff" opacity="0.75"/>
<rect y="435.33" width="21.2" height="0.55" fill="#fff" opacity="0.75"/>
<rect y="438.63" width="21.2" height="0.55" fill="#fff" opacity="0.75"/>
<rect y="442.33" width="21.2" height="0.55" fill="#fff" opacity="0.75"/>
<rect y="447.43" width="21.2" height="0.55" fill="#fff" opacity="0.75"/>
<rect y="448.93" width="21.2" height="0.55" fill="#fff" opacity="0.75"/>
<rect y="461.13" width="21.2" height="0.55" fill="#fff" opacity="0.75"/>
<rect y="467.13" width="21.2" height="0.55" fill="#fff" opacity="0.75"/>
<rect y="471.33" width="21.2" height="0.55" fill="#fff" opacity="0.75"/>
<rect y="476.23" width="21.2" height="0.55" fill="#fff" opacity="0.75"/>
<rect y="477.73" width="21.2" height="0.55" fill="#fff" opacity="0.75"/>
<rect y="479.93" width="21.2" height="0.55" fill="#fff" opacity="0.75"/>
<rect y="481.73" width="21.2" height="0.55" fill="#fff" opacity="0.75"/>
<rect y="483.23" width="21.2" height="0.55" fill="#fff" opacity="0.75"/>
<rect y="484.43" width="21.2" height="0.55" fill="#fff" opacity="0.75"/>
<rect y="485.63" width="21.2" height="0.55" fill="#fff" opacity="0.75"/>
<rect y="487.83" width="21.2" height="0.55" fill="#fff" opacity="0.75"/>
<rect y="489.63" width="21.2" height="0.55" fill="#fff" opacity="0.75"/>
<rect y="490.83" width="21.2" height="0.55" fill="#fff" opacity="0.75"/>
<rect y="492" width="21.2" height="4" fill="#ff8080"/>
<rect y="492" width="21.2" height="1.55" fill="#ff4c4c"/>
<rect y="493.5" width="21.2" height="1.25" fill="#ff8080"/>
<rect y="494.7" width="21.2" height="1.35" fill="#ff9999"/>
<rect y="494.43" width="21.2" height="0.55" fill="#fff" opacity="0.75"/>
<rect y="496" width="21.2" height="40" fill="#ffb2b2"/>
<rect y="496" width="21.2" height="1.55" fill="#ff4c4c"/>
<rect y="497.5" width="21.2" height="1.85" fill="#ffb2b2"/>
<rect y="499.3" width="21.2" height="2.25" fill="#ffe6e6"/>
<rect y="501.5" width="21.2" height="1.55" fill="#ffffff"/>
<rect y="503" width="21.2" height="2.65" fill="#ff9999"/>
<rect y="505.6" width="21.2" height="2.25" fill="#ff9999"/>
<rect y="507.8" width="21.2" height="2.25" fill="#ffb2b2"/>
<rect y="510" width="21.2" height="1.25" fill="#ff9999"/>
<rect y="511.2" width="21.2" height="1.85" fill="#ff6666"/>
<rect y="513" width="21.2" height="1.25" fill="#ff8080"/>
<rect y="514.2" width="21.2" height="2.65" fill="#ffcccc"/>
<rect y="516.8" width="21.2" height="1.25" fill="#ffcccc"/>
<rect y="518" width="21.2" height="1.85" fill="#ff4c4c"/>
<rect y="519.8" width="21.2" height="1.25" fill="#ff8080"/>
<rect y="521" width="21.2" height="1.25" fill="#ffb2b2"/>
<rect y="522.2" width="21.2" height="1.55" fill="#ffffff"/>
<rect y="523.7" width="21.2" height="2.25" fill="#ff6666"/>
<rect y="525.9" width="21.2" height="2.25" fill="#ff9999"/>
<rect y="528.1" width="21.2" height="1.85" fill="#ff6666"/>
<rect y="529.9" width="21.2" height="2.25" fill="#ff6666"/>
<rect y="532.1" width="21.2" height="2.25" fill="#ff9999"/>
<rect y="534.3" width="21.2" height="1.25" fill="#ffffff"/>
<rect y="535.5" width="21.2" height="0.55" fill="#ff9999"/>
<rect y="497.23" width="21.2" height="0.55" fill="#fff" opacity="0.75"/>
<rect y="502.73" width="21.2" height="0.55" fill="#fff" opacity="0.75"/>
<rect y="505.33" width="21.2" height="0.55" fill="#fff" opacity="0.75"/>
<rect y="509.73" width="21.2" height="0.55" fill="#fff" opacity="0.75"/>
<rect y="513.93" width="21.2" height="0.55" fill="#fff" opacity="0.75"/>
<rect y="519.53" width="21.2" height="0.55" fill="#fff" opacity="0.75"/>
<rect y="520.73" width="21.2" height="0.55" fill="#fff" opacity="0.75"/>
<rect y="523.43" width="21.2" height="0.55" fill="#fff" opacity="0.75"/>
<rect y="525.63" width="21.2" height="0.55" fill="#fff" opacity="0.75"/>
<rect y="527.83" width="21.2" height="0.55" fill="#fff" opacity="0.75"/>
<rect y="529.63" width="21.2" height="0.55" fill="#fff" opacity="0.75"/>
<rect y="534.03" width="21.2" height="0.55" fill="#fff" opacity="0.75"/>
<rect y="536" width="21.2" height="6.6" fill="#ff8080"/>
<rect y="536" width="21.2" height="1.85" fill="#ff8080"/>
<rect y="537.8" width="21.2" height="1.85" fill="#ff6666"/>
<rect y="539.6" width="21.2" height="2.65" fill="#ff3333"/>
<rect y="542.2" width="21.2" height="0.45" fill="#ff6666"/>
<rect y="539.32" width="21.2" height="0.55" fill="#fff" opacity="0.75"/>
<rect y="542.6" width="21.2" height="31" fill="#ffb2b2"/>
<rect y="542.6" width="21.2" height="1.85" fill="#ffcccc"/>
<rect y="544.4" width="21.2" height="1.25" fill="#ff4c4c"/>
<rect y="545.6" width="21.2" height="1.55" fill="#ff6666"/>
<rect y="547.1" width="21.2" height="2.25" fill="#ff6666"/>
<rect y="549.3" width="21.2" height="2.25" fill="#ff9999"/>
<rect y="551.5" width="21.2" height="1.25" fill="#ffcccc"/>
<rect y="552.7" width="21.2" height="1.85" fill="#ff8080"/>
<rect y="554.5" width="21.2" height="1.85" fill="#ffffff"/>
<rect y="556.3" width="21.2" height="2.25" fill="#ffe6e6"/>
<rect y="558.5" width="21.2" height="1.55" fill="#ff6666"/>
<rect y="560" width="21.2" height="1.55" fill="#ffb2b2"/>
<rect y="561.5" width="21.2" height="2.65" fill="#ff9999"/>
<rect y="564.1" width="21.2" height="1.55" fill="#ff3333"/>
<rect y="565.6" width="21.2" height="1.85" fill="#ffb2b2"/>
<rect y="567.4" width="21.2" height="1.55" fill="#ff8080"/>
<rect y="568.9" width="21.2" height="2.25" fill="#ff8080"/>
<rect y="571.1" width="21.2" height="1.55" fill="#ffffff"/>
<rect y="572.6" width="21.2" height="1.05" fill="#ff8080"/>
<rect y="545.33" width="21.2" height="0.55" fill="#fff" opacity="0.75"/>
<rect y="546.83" width="21.2" height="0.55" fill="#fff" opacity="0.75"/>
<rect y="551.23" width="21.2" height="0.55" fill="#fff" opacity="0.75"/>
<rect y="558.23" width="21.2" height="0.55" fill="#fff" opacity="0.75"/>
<rect y="559.73" width="21.2" height="0.55" fill="#fff" opacity="0.75"/>
<rect y="561.23" width="21.2" height="0.55" fill="#fff" opacity="0.75"/>
<rect y="563.83" width="21.2" height="0.55" fill="#fff" opacity="0.75"/>
<rect y="570.83" width="21.2" height="0.55" fill="#fff" opacity="0.75"/>
<rect y="573.6" width="21.2" height="7" fill="#ff8080"/>
<rect y="573.6" width="21.2" height="1.25" fill="#ff8080"/>
<rect y="574.8" width="21.2" height="1.85" fill="#ffb2b2"/>
<rect y="576.6" width="21.2" height="1.85" fill="#ff8080"/>
<rect y="578.4" width="21.2" height="1.55" fill="#ff6666"/>
<rect y="579.9" width="21.2" height="0.75" fill="#ff8080"/>
<rect y="574.53" width="21.2" height="0.55" fill="#fff" opacity="0.75"/>
<rect y="576.33" width="21.2" height="0.55" fill="#fff" opacity="0.75"/>
<rect y="578.12" width="21.2" height="0.55" fill="#fff" opacity="0.75"/>
<rect y="579.62" width="21.2" height="0.55" fill="#fff" opacity="0.75"/>
<rect y="580.6" width="21.2" height="26.7" fill="#ffb2b2"/>
<rect y="580.6" width="21.2" height="1.85" fill="#ff9999"/>
<rect y="582.4" width="21.2" height="2.65" fill="#ffffff"/>
<rect y="585" width="21.2" height="2.25" fill="#ffb2b2"/>
<rect y="587.2" width="21.2" height="1.25" fill="#ff3333"/>
<rect y="588.4" width="21.2" height="2.25" fill="#ffb2b2"/>
<rect y="590.6" width="21.2" height="1.25" fill="#ff9999"/>
<rect y="591.8" width="21.2" height="2.65" fill="#ffcccc"/>
<rect y="594.4" width="21.2" height="2.65" fill="#ff9999"/>
<rect y="597" width="21.2" height="1.55" fill="#ff9999"/>
<rect y="598.5" width="21.2" height="1.85" fill="#ff9999"/>
<rect y="600.3" width="21.2" height="2.65" fill="#ffffff"/>
<rect y="602.9" width="21.2" height="1.85" fill="#ff9999"/>
<rect y="604.7" width="21.2" height="1.55" fill="#ff8080"/>
<rect y="606.2" width="21.2" height="1.15" fill="#ffffff"/>
<rect y="584.73" width="21.2" height="0.55" fill="#fff" opacity="0.75"/>
<rect y="588.13" width="21.2" height="0.55" fill="#fff" opacity="0.75"/>
<rect y="591.53" width="21.2" height="0.55" fill="#fff" opacity="0.75"/>
<rect y="596.73" width="21.2" height="0.55" fill="#fff" opacity="0.75"/>
<rect y="598.23" width="21.2" height="0.55" fill="#fff" opacity="0.75"/>
<rect y="600.03" width="21.2" height="0.55" fill="#fff" opacity="0.75"/>
<rect y="604.43" width="21.2" height="0.55" fill="#fff" opacity="0.75"/>
<rect y="607.3" width="21.2" height="8.7" fill="#ff8080"/>
<rect y="607.3" width="21.2" height="1.55" fill="#ffb2b2"/>
<rect y="608.8" width="21.2" height="1.85" fill="#ff9999"/>
<rect y="610.6" width="21.2" height="1.25" fill="#ff6666"/>
<rect y="611.8" width="21.2" height="2.25" fill="#ff9999"/>
<rect y="614" width="21.2" height="2.05" fill="#ff8080"/>
<rect y="611.52" width="21.2" height="0.55" fill="#fff" opacity="0.75"/>
<rect y="613.73" width="21.2" height="0.55" fill="#fff" opacity="0.75"/>
<rect y="616" width="21.2" height="25.7" fill="#ffb2b2"/>
<rect y="616" width="21.2" height="2.65" fill="#ff8080"/>
<rect y="618.6" width="21.2" height="2.25" fill="#ff6666"/>
<rect y="620.8" width="21.2" height="2.25" fill="#ff4c4c"/>
<rect y="623" width="21.2" height="1.25" fill="#ffb2b2"/>
<rect y="624.2" width="21.2" height="2.65" fill="#ff8080"/>
<rect y="626.8" width="21.2" height="1.85" fill="#ffcccc"/>
<rect y="628.6" width="21.2" height="2.25" fill="#ffb2b2"/>
<rect y="630.8" width="21.2" height="1.55" fill="#ffcccc"/>
<rect y="632.3" width="21.2" height="1.25" fill="#ffffff"/>
<rect y="633.5" width="21.2" height="1.55" fill="#ff6666"/>
<rect y="635" width="21.2" height="1.25" fill="#ffffff"/>
<rect y="636.2" width="21.2" height="1.25" fill="#ffcccc"/>
<rect y="637.4" width="21.2" height="1.85" fill="#ffb2b2"/>
<rect y="639.2" width="21.2" height="1.55" fill="#ffcccc"/>
<rect y="640.7" width="21.2" height="1.05" fill="#ff8080"/>
<rect y="622.73" width="21.2" height="0.55" fill="#fff" opacity="0.75"/>
<rect y="623.93" width="21.2" height="0.55" fill="#fff" opacity="0.75"/>
<rect y="626.53" width="21.2" height="0.55" fill="#fff" opacity="0.75"/>
<rect y="630.53" width="21.2" height="0.55" fill="#fff" opacity="0.75"/>
<rect y="632.03" width="21.2" height="0.55" fill="#fff" opacity="0.75"/>
<rect y="633.23" width="21.2" height="0.55" fill="#fff" opacity="0.75"/>
<rect y="634.73" width="21.2" height="0.55" fill="#fff" opacity="0.75"/>
<rect y="638.93" width="21.2" height="0.55" fill="#fff" opacity="0.75"/>
<rect y="640.43" width="21.2" height="0.55" fill="#fff" opacity="0.75"/>
<rect y="641.7" width="21.2" height="10.3" fill="#ff8080"/>
<rect y="641.7" width="21.2" height="1.55" fill="#ff6666"/>
<rect y="643.2" width="21.2" height="1.25" fill="#ff4c4c"/>
<rect y="644.4" width="21.2" height="2.25" fill="#ff8080"/>
<rect y="646.6" width="21.2" height="2.65" fill="#ff9999"/>
<rect y="649.2" width="21.2" height="1.55" fill="#ffe6e6"/>
<rect y="650.7" width="21.2" height="1.35" fill="#ff4c4c"/>
<rect y="642.93" width="21.2" height="0.55" fill="#fff" opacity="0.75"/>
<rect y="644.13" width="21.2" height="0.55" fill="#fff" opacity="0.75"/>
<rect y="646.33" width="21.2" height="0.55" fill="#fff" opacity="0.75"/>
<rect y="652" width="21.2" height="22.6" fill="#ffb2b2"/>
<rect y="652" width="21.2" height="1.55" fill="#ffffff"/>
<rect y="653.5" width="21.2" height="1.25" fill="#ffe6e6"/>
<rect y="654.7" width="21.2" height="1.25" fill="#ff8080"/>
<rect y="655.9" width="21.2" height="1.55" fill="#ff6666"/>
<rect y="657.4" width="21.2" height="1.25" fill="#ff9999"/>
<rect y="658.6" width="21.2" height="1.85" fill="#ff6666"/>
<rect y="660.4" width="21.2" height="1.85" fill="#ff8080"/>
<rect y="662.2" width="21.2" height="1.85" fill="#ffe6e6"/>
<rect y="664" width="21.2" height="2.25" fill="#ffcccc"/>
<rect y="666.2" width="21.2" height="1.55" fill="#ff6666"/>
<rect y="667.7" width="21.2" height="1.55" fill="#ff9999"/>
<rect y="669.2" width="21.2" height="2.65" fill="#ff9999"/>
<rect y="671.8" width="21.2" height="2.25" fill="#ffe6e6"/>
<rect y="674" width="21.2" height="0.65" fill="#ff9999"/>
<rect y="654.43" width="21.2" height="0.55" fill="#fff" opacity="0.75"/>
<rect y="655.63" width="21.2" height="0.55" fill="#fff" opacity="0.75"/>
<rect y="665.93" width="21.2" height="0.55" fill="#fff" opacity="0.75"/>
<rect y="667.43" width="21.2" height="0.55" fill="#fff" opacity="0.75"/>
<rect y="668.93" width="21.2" height="0.55" fill="#fff" opacity="0.75"/>
<rect y="671.53" width="21.2" height="0.55" fill="#fff" opacity="0.75"/>
</g>
<g transform="translate(162.1,0)">
<rect y="353.5" width="21.2" height="138.5" fill="#ff4c4c"/>
<rect y="353.5" width="21.2" height="2.25" fill="#ff4c4c"/>
<rect y="355.7" width="21.2" height="2.25" fill="#ffe6e6"/>
<rect y="357.9" width="21.2" height="1.55" fill="#ff8080"/>
<rect y="359.4" width="21.2" height="1.85" fill="#ff6666"/>
<rect y="361.2" width="21.2" height="2.65" fill="#ffcccc"/>
<rect y="363.8" width="21.2" height="1.55" fill="#ff6666"/>
<rect y="365.3" width="21.2" height="1.25" fill="#ff8080"/>
<rect y="366.5" width="21.2" height="2.25" fill="#ff9999"/>
<rect y="368.7" width="21.2" height="1.55" fill="#ff0000"/>
<rect y="370.2" width="21.2" height="1.85" fill="#ffb2b2"/>
<rect y="372" width="21.2" height="2.65" fill="#ff9999"/>
<rect y="374.6" width="21.2" height="2.25" fill="#ff4c4c"/>
<rect y="376.8" width="21.2" height="1.55" fill="#ff4c4c"/>
<rect y="378.3" width="21.2" height="2.65" fill="#ffb2b2"/>
<rect y="380.9" width="21.2" height="1.55" fill="#ff8080"/>
<rect y="382.4" width="21.2" height="1.85" fill="#ffb2b2"/>
<rect y="384.2" width="21.2" height="1.85" fill="#ffffff"/>
<rect y="386" width="21.2" height="2.65" fill="#ff0000"/>
<rect y="388.6" width="21.2" height="2.25" fill="#ff4c4c"/>
<rect y="390.8" width="21.2" height="2.65" fill="#ffb2b2"/>
<rect y="393.4" width="21.2" height="2.65" fill="#ffffff"/>
<rect y="396" width="21.2" height="2.25" fill="#ff3333"/>
<rect y="398.2" width="21.2" height="1.85" fill="#ff6666"/>
<rect y="400" width="21.2" height="1.85" fill="#ff3333"/>
<rect y="401.8" width="21.2" height="2.65" fill="#ff1a1a"/>
<rect y="404.4" width="21.2" height="1.25" fill="#ff4c4c"/>
<rect y="405.6" width="21.2" height="2.65" fill="#ff0000"/>
<rect y="408.2" width="21.2" height="1.85" fill="#ff3333"/>
<rect y="410" width="21.2" height="1.85" fill="#ff9999"/>
<rect y="411.8" width="21.2" height="2.25" fill="#ff6666"/>
<rect y="414" width="21.2" height="2.25" fill="#ff1a1a"/>
<rect y="416.2" width="21.2" height="1.25" fill="#ff3333"/>
<rect y="417.4" width="21.2" height="1.25" fill="#ff3333"/>
<rect y="418.6" width="21.2" height="2.65" fill="#ff1a1a"/>
<rect y="421.2" width="21.2" height="1.55" fill="#ff0000"/>
<rect y="422.7" width="21.2" height="2.25" fill="#ff3333"/>
<rect y="424.9" width="21.2" height="1.55" fill="#ff1a1a"/>
<rect y="426.4" width="21.2" height="1.25" fill="#ff8080"/>
<rect y="427.6" width="21.2" height="2.25" fill="#ff9999"/>
<rect y="429.8" width="21.2" height="1.25" fill="#ff0000"/>
<rect y="431" width="21.2" height="2.65" fill="#ff0000"/>
<rect y="433.6" width="21.2" height="2.25" fill="#ff6666"/>
<rect y="435.8" width="21.2" height="1.55" fill="#ff6666"/>
<rect y="437.3" width="21.2" height="1.25" fill="#ff1a1a"/>
<rect y="438.5" width="21.2" height="1.55" fill="#ff3333"/>
<rect y="440" width="21.2" height="1.25" fill="#ff0000"/>
<rect y="441.2" width="21.2" height="1.55" fill="#ff3333"/>
<rect y="442.7" width="21.2" height="2.65" fill="#ff9999"/>
<rect y="445.3" width="21.2" height="2.65" fill="#ff8080"/>
<rect y="447.9" width="21.2" height="1.85" fill="#ff0000"/>
<rect y="449.7" width="21.2" height="2.25" fill="#ff3333"/>
<rect y="451.9" width="21.2" height="1.25" fill="#ff8080"/>
<rect y="453.1" width="21.2" height="1.25" fill="#ff1a1a"/>
<rect y="454.3" width="21.2" height="2.25" fill="#ff0000"/>
<rect y="456.5" width="21.2" height="1.25" fill="#ff0000"/>
<rect y="457.7" width="21.2" height="1.85" fill="#ff6666"/>
<rect y="459.5" width="21.2" height="2.25" fill="#ff8080"/>
<rect y="461.7" width="21.2" height="2.65" fill="#ff1a1a"/>
<rect y="464.3" width="21.2" height="1.55" fill="#ff6666"/>
<rect y="465.8" width="21.2" height="2.65" fill="#ff1a1a"/>
<rect y="468.4" width="21.2" height="1.55" fill="#ff4c4c"/>
<rect y="469.9" width="21.2" height="1.85" fill="#ff3333"/>
<rect y="471.7" width="21.2" height="2.25" fill="#ff1a1a"/>
<rect y="473.9" width="21.2" height="2.65" fill="#ffcccc"/>
<rect y="476.5" width="21.2" height="1.25" fill="#ff3333"/>
<rect y="477.7" width="21.2" height="1.55" fill="#ff8080"/>
<rect y="479.2" width="21.2" height="2.65" fill="#ff6666"/>
<rect y="481.8" width="21.2" height="2.65" fill="#ff3333"/>
<rect y="484.4" width="21.2" height="1.25" fill="#ff6666"/>
<rect y="485.6" width="21.2" height="1.55" fill="#ff6666"/>
<rect y="487.1" width="21.2" height="1.25" fill="#ff3333"/>
<rect y="488.3" width="21.2" height="1.25" fill="#ff8080"/>
<rect y="489.5" width="21.2" height="2.55" fill="#ffb2b2"/>
<rect y="355.43" width="21.2" height="0.55" fill="#fff" opacity="0.75"/>
<rect y="357.62" width="21.2" height="0.55" fill="#fff" opacity="0.75"/>
<rect y="359.12" width="21.2" height="0.55" fill="#fff" opacity="0.75"/>
<rect y="360.93" width="21.2" height="0.55" fill="#fff" opacity="0.75"/>
<rect y="366.23" width="21.2" height="0.55" fill="#fff" opacity="0.75"/>
<rect y="369.93" width="21.2" height="0.55" fill="#fff" opacity="0.75"/>
<rect y="371.73" width="21.2" height="0.55" fill="#fff" opacity="0.75"/>
<rect y="374.33" width="21.2" height="0.55" fill="#fff" opacity="0.75"/>
<rect y="380.63" width="21.2" height="0.55" fill="#fff" opacity="0.75"/>
<rect y="382.13" width="21.2" height="0.55" fill="#fff" opacity="0.75"/>
<rect y="383.93" width="21.2" height="0.55" fill="#fff" opacity="0.75"/>
<rect y="385.73" width="21.2" height="0.55" fill="#fff" opacity="0.75"/>
<rect y="393.13" width="21.2" height="0.55" fill="#fff" opacity="0.75"/>
<rect y="397.93" width="21.2" height="0.55" fill="#fff" opacity="0.75"/>
<rect y="401.53" width="21.2" height="0.55" fill="#fff" opacity="0.75"/>
<rect y="405.33" width="21.2" height="0.55" fill="#fff" opacity="0.75"/>
<rect y="409.73" width="21.2" height="0.55" fill="#fff" opacity="0.75"/>
<rect y="413.73" width="21.2" height="0.55" fill="#fff" opacity="0.75"/>
<rect y="415.93" width="21.2" height="0.55" fill="#fff" opacity="0.75"/>
<rect y="417.13" width="21.2" height="0.55" fill="#fff" opacity="0.75"/>
<rect y="418.33" width="21.2" height="0.55" fill="#fff" opacity="0.75"/>
<rect y="422.43" width="21.2" height="0.55" fill="#fff" opacity="0.75"/>
<rect y="426.13" width="21.2" height="0.55" fill="#fff" opacity="0.75"/>
<rect y="435.53" width="21.2" height="0.55" fill="#fff" opacity="0.75"/>
<rect y="438.23" width="21.2" height="0.55" fill="#fff" opacity="0.75"/>
<rect y="439.73" width="21.2" height="0.55" fill="#fff" opacity="0.75"/>
<rect y="442.43" width="21.2" height="0.55" fill="#fff" opacity="0.75"/>
<rect y="447.63" width="21.2" height="0.55" fill="#fff" opacity="0.75"/>
<rect y="456.23" width="21.2" height="0.55" fill="#fff" opacity="0.75"/>
<rect y="457.43" width="21.2" height="0.55" fill="#fff" opacity="0.75"/>
<rect y="465.53" width="21.2" height="0.55" fill="#fff" opacity="0.75"/>
<rect y="468.13" width="21.2" height="0.55" fill="#fff" opacity="0.75"/>
<rect y="477.43" width="21.2" height="0.55" fill="#fff" opacity="0.75"/>
<rect y="478.93" width="21.2" height="0.55" fill="#fff" opacity="0.75"/>
<rect y="484.13" width="21.2" height="0.55" fill="#fff" opacity="0.75"/>
<rect y="486.83" width="21.2" height="0.55" fill="#fff" opacity="0.75"/>
<rect y="488.03" width="21.2" height="0.55" fill="#fff" opacity="0.75"/>
<rect y="489.23" width="21.2" height="0.55" fill="#fff" opacity="0.75"/>
<rect y="492" width="21.2" height="4" fill="#dae6f0"/>
<rect y="492" width="21.2" height="1.85" fill="#ffffff"/>
<rect y="493.8" width="21.2" height="1.25" fill="#ffcccc"/>
<rect y="495" width="21.2" height="1.05" fill="#ecf2f8"/>
<rect y="493.53" width="21.2" height="0.55" fill="#fff" opacity="0.75"/>
<rect y="496" width="21.2" height="40" fill="#ff4c4c"/>
<rect y="496" width="21.2" height="1.25" fill="#ff3333"/>
<rect y="497.2" width="21.2" height="1.25" fill="#ff3333"/>
<rect y="498.4" width="21.2" height="1.25" fill="#ffb2b2"/>
<rect y="499.6" width="21.2" height="1.55" fill="#ff6666"/>
<rect y="501.1" width="21.2" height="1.85" fill="#ff1a1a"/>
<rect y="502.9" width="21.2" height="1.85" fill="#ff0000"/>
<rect y="504.7" width="21.2" height="2.65" fill="#ff3333"/>
<rect y="507.3" width="21.2" height="1.85" fill="#ff6666"/>
<rect y="509.1" width="21.2" height="2.25" fill="#ff6666"/>
<rect y="511.3" width="21.2" height="1.25" fill="#ff9999"/>
<rect y="512.5" width="21.2" height="1.55" fill="#ff0000"/>
<rect y="514" width="21.2" height="1.25" fill="#ff8080"/>
<rect y="515.2" width="21.2" height="2.65" fill="#ff6666"/>
<rect y="517.8" width="21.2" height="1.25" fill="#ff0000"/>
<rect y="519" width="21.2" height="1.55" fill="#ff4c4c"/>
<rect y="520.5" width="21.2" height="2.65" fill="#ff9999"/>
<rect y="523.1" width="21.2" height="1.55" fill="#ff0000"/>
<rect y="524.6" width="21.2" height="1.55" fill="#ff3333"/>
<rect y="526.1" width="21.2" height="1.25" fill="#ff6666"/>
<rect y="527.3" width="21.2" height="2.65" fill="#ff4c4c"/>
<rect y="529.9" width="21.2" height="2.25" fill="#ffb2b2"/>
<rect y="532.1" width="21.2" height="1.25" fill="#ffb2b2"/>
<rect y="533.3" width="21.2" height="1.85" fill="#ff3333"/>
<rect y="535.1" width="21.2" height="0.95" fill="#ff9999"/>
<rect y="496.93" width="21.2" height="0.55" fill="#fff" opacity="0.75"/>
<rect y="498.12" width="21.2" height="0.55" fill="#fff" opacity="0.75"/>
<rect y="499.32" width="21.2" height="0.55" fill="#fff" opacity="0.75"/>
<rect y="500.82" width="21.2" height="0.55" fill="#fff" opacity="0.75"/>
<rect y="502.62" width="21.2" height="0.55" fill="#fff" opacity="0.75"/>
<rect y="507.03" width="21.2" height="0.55" fill="#fff" opacity="0.75"/>
<rect y="508.83" width="21.2" height="0.55" fill="#fff" opacity="0.75"/>
<rect y="511.03" width="21.2" height="0.55" fill="#fff" opacity="0.75"/>
<rect y="512.23" width="21.2" height="0.55" fill="#fff" opacity="0.75"/>
<rect y="514.93" width="21.2" height="0.55" fill="#fff" opacity="0.75"/>
<rect y="517.53" width="21.2" height="0.55" fill="#fff" opacity="0.75"/>
<rect y="518.73" width="21.2" height="0.55" fill="#fff" opacity="0.75"/>
<rect y="522.83" width="21.2" height="0.55" fill="#fff" opacity="0.75"/>
<rect y="524.33" width="21.2" height="0.55" fill="#fff" opacity="0.75"/>
<rect y="525.83" width="21.2" height="0.55" fill="#fff" opacity="0.75"/>
<rect y="527.03" width="21.2" height="0.55" fill="#fff" opacity="0.75"/>
<rect y="529.63" width="21.2" height="0.55" fill="#fff" opacity="0.75"/>
<rect y="533.03" width="21.2" height="0.55" fill="#fff" opacity="0.75"/>
<rect y="534.83" width="21.2" height="0.55" fill="#fff" opacity="0.75"/>
<rect y="536" width="21.2" height="6.6" fill="#dae6f0"/>
<rect y="536" width="21.2" height="1.55" fill="#dae6f0"/>
<rect y="537.5" width="21.2" height="1.55" fill="#b5cde1"/>
<rect y="539" width="21.2" height="1.25" fill="#dae6f0"/>
<rect y="540.2" width="21.2" height="1.85" fill="#a2c0da"/>
<rect y="542" width="21.2" height="0.65" fill="#dae6f0"/>
<rect y="539.93" width="21.2" height="0.55" fill="#fff" opacity="0.75"/>
<rect y="542.6" width="21.2" height="31" fill="#ff4c4c"/>
<rect y="542.6" width="21.2" height="2.65" fill="#ff4c4c"/>
<rect y="545.2" width="21.2" height="1.85" fill="#ff8080"/>
<rect y="547" width="21.2" height="1.55" fill="#ff8080"/>
<rect y="548.5" width="21.2" height="2.65" fill="#ff0000"/>
<rect y="551.1" width="21.2" height="1.85" fill="#ff4c4c"/>
<rect y="552.9" width="21.2" height="1.55" fill="#ffcccc"/>
<rect y="554.4" width="21.2" height="1.85" fill="#ff8080"/>
<rect y="556.2" width="21.2" height="1.55" fill="#ff8080"/>
<rect y="557.7" width="21.2" height="1.25" fill="#ff1a1a"/>
<rect y="558.9" width="21.2" height="1.55" fill="#ff0000"/>
<rect y="560.4" width="21.2" height="1.85" fill="#ff6666"/>
<rect y="562.2" width="21.2" height="1.25" fill="#ff9999"/>
<rect y="563.4" width="21.2" height="2.25" fill="#ff6666"/>
<rect y="565.6" width="21.2" height="2.25" fill="#ff4c4c"/>
<rect y="567.8" width="21.2" height="2.65" fill="#ff1a1a"/>
<rect y="570.4" width="21.2" height="1.85" fill="#ff6666"/>
<rect y="572.2" width="21.2" height="1.45" fill="#ff1a1a"/>
<rect y="544.93" width="21.2" height="0.55" fill="#fff" opacity="0.75"/>
<rect y="550.83" width="21.2" height="0.55" fill="#fff" opacity="0.75"/>
<rect y="555.92" width="21.2" height="0.55" fill="#fff" opacity="0.75"/>
<rect y="557.42" width="21.2" height="0.55" fill="#fff" opacity="0.75"/>
<rect y="558.62" width="21.2" height="0.55" fill="#fff" opacity="0.75"/>
<rect y="561.92" width="21.2" height="0.55" fill="#fff" opacity="0.75"/>
<rect y="563.12" width="21.2" height="0.55" fill="#fff" opacity="0.75"/>
<rect y="570.13" width="21.2" height="0.55" fill="#fff" opacity="0.75"/>
<rect y="573.6" width="21.2" height="7" fill="#dae6f0"/>
<rect y="573.6" width="21.2" height="2.25" fill="#dae6f0"/>
<rect y="575.8" width="21.2" height="2.65" fill="#dae6f0"/>
<rect y="578.4" width="21.2" height="2.25" fill="#c8dae8"/>
<rect y="578.13" width="21.2" height="0.55" fill="#fff" opacity="0.75"/>
<rect y="580.6" width="21.2" height="26.7" fill="#ff4c4c"/>
<rect y="580.6" width="21.2" height="1.55" fill="#ff8080"/>
<rect y="582.1" width="21.2" height="1.85" fill="#ffb2b2"/>
<rect y="583.9" width="21.2" height="1.25" fill="#ff3333"/>
<rect y="585.1" width="21.2" height="1.55" fill="#ff8080"/>
<rect y="586.6" width="21.2" height="2.25" fill="#ff6666"/>
<rect y="588.8" width="21.2" height="2.65" fill="#ff4c4c"/>
<rect y="591.4" width="21.2" height="1.55" fill="#ff3333"/>
<rect y="592.9" width="21.2" height="2.25" fill="#ff8080"/>
<rect y="595.1" width="21.2" height="1.25" fill="#ff0000"/>
<rect y="596.3" width="21.2" height="1.55" fill="#ff4c4c"/>
<rect y="597.8" width="21.2" height="1.25" fill="#ff3333"/>
<rect y="599" width="21.2" height="2.25" fill="#ff9999"/>
<rect y="601.2" width="21.2" height="1.85" fill="#ff9999"/>
<rect y="603" width="21.2" height="1.55" fill="#ff6666"/>
<rect y="604.5" width="21.2" height="1.55" fill="#ffb2b2"/>
<rect y="606" width="21.2" height="1.35" fill="#ff1a1a"/>
<rect y="581.83" width="21.2" height="0.55" fill="#fff" opacity="0.75"/>
<rect y="583.62" width="21.2" height="0.55" fill="#fff" opacity="0.75"/>
<rect y="584.83" width="21.2" height="0.55" fill="#fff" opacity="0.75"/>
<rect y="586.33" width="21.2" height="0.55" fill="#fff" opacity="0.75"/>
<rect y="592.63" width="21.2" height="0.55" fill="#fff" opacity="0.75"/>
<rect y="596.03" width="21.2" height="0.55" fill="#fff" opacity="0.75"/>
<rect y="597.53" width="21.2" height="0.55" fill="#fff" opacity="0.75"/>
<rect y="598.73" width="21.2" height="0.55" fill="#fff" opacity="0.75"/>
<rect y="600.93" width="21.2" height="0.55" fill="#fff" opacity="0.75"/>
<rect y="605.73" width="21.2" height="0.55" fill="#fff" opacity="0.75"/>
<rect y="607.3" width="21.2" height="8.7" fill="#dae6f0"/>
<rect y="607.3" width="21.2" height="1.85" fill="#dae6f0"/>
<rect y="609.1" width="21.2" height="1.25" fill="#dae6f0"/>
<rect y="610.3" width="21.2" height="2.25" fill="#ffffff"/>
<rect y="612.5" width="21.2" height="2.65" fill="#c8dae8"/>
<rect y="615.1" width="21.2" height="0.95" fill="#dae6f0"/>
<rect y="608.82" width="21.2" height="0.55" fill="#fff" opacity="0.75"/>
<rect y="610.02" width="21.2" height="0.55" fill="#fff" opacity="0.75"/>
<rect y="614.83" width="21.2" height="0.55" fill="#fff" opacity="0.75"/>
<rect y="616" width="21.2" height="25.7" fill="#ff4c4c"/>
<rect y="616" width="21.2" height="2.65" fill="#ff1a1a"/>
<rect y="618.6" width="21.2" height="2.25" fill="#ff8080"/>
<rect y="620.8" width="21.2" height="1.25" fill="#ff4c4c"/>
<rect y="622" width="21.2" height="1.55" fill="#ffb2b2"/>
<rect y="623.5" width="21.2" height="1.55" fill="#ff4c4c"/>
<rect y="625" width="21.2" height="2.25" fill="#ff9999"/>
<rect y="627.2" width="21.2" height="1.55" fill="#ff4c4c"/>
<rect y="628.7" width="21.2" height="2.25" fill="#ffb2b2"/>
<rect y="630.9" width="21.2" height="2.25" fill="#ff0000"/>
<rect y="633.1" width="21.2" height="2.25" fill="#ff8080"/>
<rect y="635.3" width="21.2" height="1.85" fill="#ff9999"/>
<rect y="637.1" width="21.2" height="1.85" fill="#ff8080"/>
<rect y="638.9" width="21.2" height="1.25" fill="#ff1a1a"/>
<rect y="640.1" width="21.2" height="1.65" fill="#ff3333"/>
<rect y="623.23" width="21.2" height="0.55" fill="#fff" opacity="0.75"/>
<rect y="624.73" width="21.2" height="0.55" fill="#fff" opacity="0.75"/>
<rect y="626.93" width="21.2" height="0.55" fill="#fff" opacity="0.75"/>
<rect y="630.63" width="21.2" height="0.55" fill="#fff" opacity="0.75"/>
<rect y="636.83" width="21.2" height="0.55" fill="#fff" opacity="0.75"/>
<rect y="641.7" width="21.2" height="10.3" fill="#dae6f0"/>
<rect y="641.7" width="21.2" height="2.25" fill="#ffffff"/>
<rect y="643.9" width="21.2" height="2.65" fill="#ffe6e6"/>
<rect y="646.5" width="21.2" height="1.85" fill="#c8dae8"/>
<rect y="648.3" width="21.2" height="1.25" fill="#dae6f0"/>
<rect y="649.5" width="21.2" height="1.85" fill="#dae6f0"/>
<rect y="651.3" width="21.2" height="0.75" fill="#b5cde1"/>
<rect y="643.63" width="21.2" height="0.55" fill="#fff" opacity="0.75"/>
<rect y="646.23" width="21.2" height="0.55" fill="#fff" opacity="0.75"/>
<rect y="649.23" width="21.2" height="0.55" fill="#fff" opacity="0.75"/>
<rect y="651.03" width="21.2" height="0.55" fill="#fff" opacity="0.75"/>
<rect y="652" width="21.2" height="22.6" fill="#ff4c4c"/>
<rect y="652" width="21.2" height="1.55" fill="#ff9999"/>
<rect y="653.5" width="21.2" height="1.85" fill="#ff4c4c"/>
<rect y="655.3" width="21.2" height="2.65" fill="#ff8080"/>
<rect y="657.9" width="21.2" height="2.65" fill="#ff3333"/>
<rect y="660.5" width="21.2" height="2.65" fill="#ff6666"/>
<rect y="663.1" width="21.2" height="1.85" fill="#ff3333"/>
<rect y="664.9" width="21.2" height="2.25" fill="#ff0000"/>
<rect y="667.1" width="21.2" height="1.25" fill="#ff8080"/>
<rect y="668.3" width="21.2" height="1.55" fill="#ff6666"/>
<rect y="669.8" width="21.2" height="2.65" fill="#ff1a1a"/>
<rect y="672.4" width="21.2" height="2.25" fill="#ff3333"/>
<rect y="655.02" width="21.2" height="0.55" fill="#fff" opacity="0.75"/>
<rect y="657.62" width="21.2" height="0.55" fill="#fff" opacity="0.75"/>
<rect y="664.62" width="21.2" height="0.55" fill="#fff" opacity="0.75"/>
<rect y="668.03" width="21.2" height="0.55" fill="#fff" opacity="0.75"/>
<rect y="669.53" width="21.2" height="0.55" fill="#fff" opacity="0.75"/>
<rect y="672.13" width="21.2" height="0.55" fill="#fff" opacity="0.75"/>
</g>
<g transform="translate(184,0)">
<rect y="353.5" width="21.5" height="138.5" fill="#a2c0da"/>
<rect y="353.5" width="21.5" height="1.55" fill="#7ea8ca"/>
<rect y="355" width="21.5" height="1.25" fill="#a2c0da"/>
<rect y="356.2" width="21.5" height="1.85" fill="#7ea8ca"/>
<rect y="358" width="21.5" height="2.25" fill="#b5cde1"/>
<rect y="360.2" width="21.5" height="2.25" fill="#dae6f0"/>
<rect y="362.4" width="21.5" height="1.85" fill="#a2c0da"/>
<rect y="364.2" width="21.5" height="1.25" fill="#b5cde1"/>
<rect y="365.4" width="21.5" height="1.85" fill="#a2c0da"/>
<rect y="367.2" width="21.5" height="1.25" fill="#90b4d2"/>
<rect y="368.4" width="21.5" height="1.25" fill="#a2c0da"/>
<rect y="369.6" width="21.5" height="2.25" fill="#90b4d2"/>
<rect y="371.8" width="21.5" height="1.85" fill="#90b4d2"/>
<rect y="373.6" width="21.5" height="2.65" fill="#6b9bc3"/>
<rect y="376.2" width="21.5" height="1.85" fill="#90b4d2"/>
<rect y="378" width="21.5" height="2.65" fill="#c8dae8"/>
<rect y="380.6" width="21.5" height="2.25" fill="#b5cde1"/>
<rect y="382.8" width="21.5" height="2.65" fill="#ecf2f8"/>
<rect y="385.4" width="21.5" height="1.55" fill="#a2c0da"/>
<rect y="386.9" width="21.5" height="1.25" fill="#a2c0da"/>
<rect y="388.1" width="21.5" height="2.65" fill="#c8dae8"/>
<rect y="390.7" width="21.5" height="1.25" fill="#b5cde1"/>
<rect y="391.9" width="21.5" height="2.25" fill="#a2c0da"/>
<rect y="394.1" width="21.5" height="1.25" fill="#a2c0da"/>
<rect y="395.3" width="21.5" height="2.25" fill="#b5cde1"/>
<rect y="397.5" width="21.5" height="1.25" fill="#b5cde1"/>
<rect y="398.7" width="21.5" height="2.65" fill="#6b9bc3"/>
<rect y="401.3" width="21.5" height="2.65" fill="#b5cde1"/>
<rect y="403.9" width="21.5" height="2.25" fill="#a2c0da"/>
<rect y="406.1" width="21.5" height="1.55" fill="#b5cde1"/>
<rect y="407.6" width="21.5" height="1.25" fill="#b5cde1"/>
<rect y="408.8" width="21.5" height="1.25" fill="#7ea8ca"/>
<rect y="410" width="21.5" height="2.65" fill="#dae6f0"/>
<rect y="412.6" width="21.5" height="1.85" fill="#b5cde1"/>
<rect y="414.4" width="21.5" height="2.65" fill="#b5cde1"/>
<rect y="417" width="21.5" height="1.25" fill="#90b4d2"/>
<rect y="418.2" width="21.5" height="2.25" fill="#a2c0da"/>
<rect y="420.4" width="21.5" height="2.25" fill="#a2c0da"/>
<rect y="422.6" width="21.5" height="2.65" fill="#b5cde1"/>
<rect y="425.2" width="21.5" height="1.55" fill="#90b4d2"/>
<rect y="426.7" width="21.5" height="2.25" fill="#b5cde1"/>
<rect y="428.9" width="21.5" height="1.55" fill="#90b4d2"/>
<rect y="430.4" width="21.5" height="1.25" fill="#90b4d2"/>
<rect y="431.6" width="21.5" height="1.25" fill="#b5cde1"/>
<rect y="432.8" width="21.5" height="1.85" fill="#b5cde1"/>
<rect y="434.6" width="21.5" height="1.55" fill="#7ea8ca"/>
<rect y="436.1" width="21.5" height="1.85" fill="#b5cde1"/>
<rect y="437.9" width="21.5" height="1.55" fill="#a2c0da"/>
<rect y="439.4" width="21.5" height="2.25" fill="#a2c0da"/>
<rect y="441.6" width="21.5" height="1.85" fill="#b5cde1"/>
<rect y="443.4" width="21.5" height="1.25" fill="#a2c0da"/>
<rect y="444.6" width="21.5" height="2.65" fill="#c8dae8"/>
<rect y="447.2" width="21.5" height="1.55" fill="#b5cde1"/>
<rect y="448.7" width="21.5" height="2.25" fill="#90b4d2"/>
<rect y="450.9" width="21.5" height="2.25" fill="#a2c0da"/>
<rect y="453.1" width="21.5" height="1.55" fill="#c8dae8"/>
<rect y="454.6" width="21.5" height="1.55" fill="#dae6f0"/>
<rect y="456.1" width="21.5" height="2.25" fill="#7ea8ca"/>
<rect y="458.3" width="21.5" height="1.85" fill="#b5cde1"/>
<rect y="460.1" width="21.5" height="2.65" fill="#a2c0da"/>
<rect y="462.7" width="21.5" height="2.65" fill="#c8dae8"/>
<rect y="465.3" width="21.5" height="2.65" fill="#a2c0da"/>
<rect y="467.9" width="21.5" height="1.85" fill="#a2c0da"/>
<rect y="469.7" width="21.5" height="1.55" fill="#90b4d2"/>
<rect y="471.2" width="21.5" height="1.55" fill="#c8dae8"/>
<rect y="472.7" width="21.5" height="1.85" fill="#a2c0da"/>
<rect y="474.5" width="21.5" height="1.55" fill="#90b4d2"/>
<rect y="476" width="21.5" height="1.25" fill="#a2c0da"/>
<rect y="477.2" width="21.5" height="2.65" fill="#b5cde1"/>
<rect y="479.8" width="21.5" height="2.65" fill="#90b4d2"/>
<rect y="482.4" width="21.5" height="1.25" fill="#6b9bc3"/>
<rect y="483.6" width="21.5" height="2.25" fill="#b5cde1"/>
<rect y="485.8" width="21.5" height="1.55" fill="#90b4d2"/>
<rect y="487.3" width="21.5" height="1.25" fill="#a2c0da"/>
<rect y="488.5" width="21.5" height="1.85" fill="#90b4d2"/>
<rect y="490.3" width="21.5" height="1.25" fill="#b5cde1"/>
<rect y="491.5" width="21.5" height="0.55" fill="#90b4d2"/>
<rect y="355.93" width="21.5" height="0.55" fill="#fff" opacity="0.75"/>
<rect y="359.93" width="21.5" height="0.55" fill="#fff" opacity="0.75"/>
<rect y="362.12" width="21.5" height="0.55" fill="#fff" opacity="0.75"/>
<rect y="369.32" width="21.5" height="0.55" fill="#fff" opacity="0.75"/>
<rect y="373.32" width="21.5" height="0.55" fill="#fff" opacity="0.75"/>
<rect y="375.93" width="21.5" height="0.55" fill="#fff" opacity="0.75"/>
<rect y="377.73" width="21.5" height="0.55" fill="#fff" opacity="0.75"/>
<rect y="380.33" width="21.5" height="0.55" fill="#fff" opacity="0.75"/>
<rect y="382.53" width="21.5" height="0.55" fill="#fff" opacity="0.75"/>
<rect y="385.13" width="21.5" height="0.55" fill="#fff" opacity="0.75"/>
<rect y="387.83" width="21.5" height="0.55" fill="#fff" opacity="0.75"/>
<rect y="393.83" width="21.5" height="0.55" fill="#fff" opacity="0.75"/>
<rect y="395.03" width="21.5" height="0.55" fill="#fff" opacity="0.75"/>
<rect y="401.03" width="21.5" height="0.55" fill="#fff" opacity="0.75"/>
<rect y="403.63" width="21.5" height="0.55" fill="#fff" opacity="0.75"/>
<rect y="407.33" width="21.5" height="0.55" fill="#fff" opacity="0.75"/>
<rect y="414.13" width="21.5" height="0.55" fill="#fff" opacity="0.75"/>
<rect y="422.33" width="21.5" height="0.55" fill="#fff" opacity="0.75"/>
<rect y="426.43" width="21.5" height="0.55" fill="#fff" opacity="0.75"/>
<rect y="428.63" width="21.5" height="0.55" fill="#fff" opacity="0.75"/>
<rect y="430.13" width="21.5" height="0.55" fill="#fff" opacity="0.75"/>
<rect y="432.53" width="21.5" height="0.55" fill="#fff" opacity="0.75"/>
<rect y="441.33" width="21.5" height="0.55" fill="#fff" opacity="0.75"/>
<rect y="443.13" width="21.5" height="0.55" fill="#fff" opacity="0.75"/>
<rect y="444.33" width="21.5" height="0.55" fill="#fff" opacity="0.75"/>
<rect y="452.83" width="21.5" height="0.55" fill="#fff" opacity="0.75"/>
<rect y="454.33" width="21.5" height="0.55" fill="#fff" opacity="0.75"/>
<rect y="458.03" width="21.5" height="0.55" fill="#fff" opacity="0.75"/>
<rect y="465.03" width="21.5" height="0.55" fill="#fff" opacity="0.75"/>
<rect y="467.63" width="21.5" height="0.55" fill="#fff" opacity="0.75"/>
<rect y="474.23" width="21.5" height="0.55" fill="#fff" opacity="0.75"/>
<rect y="479.53" width="21.5" height="0.55" fill="#fff" opacity="0.75"/>
<rect y="482.13" width="21.5" height="0.55" fill="#fff" opacity="0.75"/>
<rect y="483.33" width="21.5" height="0.55" fill="#fff" opacity="0.75"/>
<rect y="487.03" width="21.5" height="0.55" fill="#fff" opacity="0.75"/>
<rect y="488.23" width="21.5" height="0.55" fill="#fff" opacity="0.75"/>
<rect y="492" width="21.5" height="4" fill="#a2c0da"/>
<rect y="492" width="21.5" height="2.65" fill="#b5cde1"/>
<rect y="494.6" width="21.5" height="1.45" fill="#6b9bc3"/>
<rect y="494.33" width="21.5" height="0.55" fill="#fff" opacity="0.75"/>
<rect y="496" width="21.5" height="40" fill="#a2c0da"/>
<rect y="496" width="21.5" height="2.65" fill="#dae6f0"/>
<rect y="498.6" width="21.5" height="2.25" fill="#7ea8ca"/>
<rect y="500.8" width="21.5" height="1.55" fill="#b5cde1"/>
<rect y="502.3" width="21.5" height="1.85" fill="#b5cde1"/>
<rect y="504.1" width="21.5" height="2.65" fill="#90b4d2"/>
<rect y="506.7" width="21.5" height="1.55" fill="#dae6f0"/>
<rect y="508.2" width="21.5" height="2.25" fill="#a2c0da"/>
<rect y="510.4" width="21.5" height="1.25" fill="#b5cde1"/>
<rect y="511.6" width="21.5" height="2.65" fill="#c8dae8"/>
<rect y="514.2" width="21.5" height="1.25" fill="#b5cde1"/>
<rect y="515.4" width="21.5" height="2.65" fill="#7ea8ca"/>
<rect y="518" width="21.5" height="1.85" fill="#b5cde1"/>
<rect y="519.8" width="21.5" height="2.25" fill="#b5cde1"/>
<rect y="522" width="21.5" height="1.85" fill="#7ea8ca"/>
<rect y="523.8" width="21.5" height="1.85" fill="#b5cde1"/>
<rect y="525.6" width="21.5" height="1.25" fill="#b5cde1"/>
<rect y="526.8" width="21.5" height="1.85" fill="#c8dae8"/>
<rect y="528.6" width="21.5" height="1.25" fill="#90b4d2"/>
<rect y="529.8" width="21.5" height="2.25" fill="#dae6f0"/>
<rect y="532" width="21.5" height="1.85" fill="#90b4d2"/>
<rect y="533.8" width="21.5" height="1.25" fill="#dae6f0"/>
<rect y="535" width="21.5" height="1.05" fill="#a2c0da"/>
<rect y="498.33" width="21.5" height="0.55" fill="#fff" opacity="0.75"/>
<rect y="500.53" width="21.5" height="0.55" fill="#fff" opacity="0.75"/>
<rect y="502.03" width="21.5" height="0.55" fill="#fff" opacity="0.75"/>
<rect y="503.83" width="21.5" height="0.55" fill="#fff" opacity="0.75"/>
<rect y="507.93" width="21.5" height="0.55" fill="#fff" opacity="0.75"/>
<rect y="511.33" width="21.5" height="0.55" fill="#fff" opacity="0.75"/>
<rect y="515.13" width="21.5" height="0.55" fill="#fff" opacity="0.75"/>
<rect y="517.73" width="21.5" height="0.55" fill="#fff" opacity="0.75"/>
<rect y="519.53" width="21.5" height="0.55" fill="#fff" opacity="0.75"/>
<rect y="525.33" width="21.5" height="0.55" fill="#fff" opacity="0.75"/>
<rect y="526.53" width="21.5" height="0.55" fill="#fff" opacity="0.75"/>
<rect y="531.73" width="21.5" height="0.55" fill="#fff" opacity="0.75"/>
<rect y="534.73" width="21.5" height="0.55" fill="#fff" opacity="0.75"/>
<rect y="536" width="21.5" height="6.6" fill="#a2c0da"/>
<rect y="536" width="21.5" height="1.55" fill="#90b4d2"/>
<rect y="537.5" width="21.5" height="1.55" fill="#b5cde1"/>
<rect y="539" width="21.5" height="1.85" fill="#b5cde1"/>
<rect y="540.8" width="21.5" height="1.25" fill="#a2c0da"/>
<rect y="542" width="21.5" height="0.65" fill="#a2c0da"/>
<rect y="538.73" width="21.5" height="0.55" fill="#fff" opacity="0.75"/>
<rect y="542.6" width="21.5" height="31" fill="#a2c0da"/>
<rect y="542.6" width="21.5" height="2.25" fill="#c8dae8"/>
<rect y="544.8" width="21.5" height="1.55" fill="#a2c0da"/>
<rect y="546.3" width="21.5" height="1.85" fill="#b5cde1"/>
<rect y="548.1" width="21.5" height="2.25" fill="#a2c0da"/>
<rect y="550.3" width="21.5" height="1.85" fill="#a2c0da"/>
<rect y="552.1" width="21.5" height="1.85" fill="#90b4d2"/>
<rect y="553.9" width="21.5" height="1.55" fill="#b5cde1"/>
<rect y="555.4" width="21.5" height="1.25" fill="#6b9bc3"/>
<rect y="556.6" width="21.5" height="1.55" fill="#b5cde1"/>
<rect y="558.1" width="21.5" height="1.55" fill="#c8dae8"/>
<rect y="559.6" width="21.5" height="1.55" fill="#b5cde1"/>
<rect y="561.1" width="21.5" height="1.25" fill="#c8dae8"/>
<rect y="562.3" width="21.5" height="1.25" fill="#a2c0da"/>
<rect y="563.5" width="21.5" height="1.85" fill="#a2c0da"/>
<rect y="565.3" width="21.5" height="1.85" fill="#b5cde1"/>
<rect y="567.1" width="21.5" height="1.55" fill="#a2c0da"/>
<rect y="568.6" width="21.5" height="1.55" fill="#90b4d2"/>
<rect y="570.1" width="21.5" height="1.55" fill="#a2c0da"/>
<rect y="571.6" width="21.5" height="1.85" fill="#c8dae8"/>
<rect y="573.4" width="21.5" height="0.25" fill="#b5cde1"/>
<rect y="544.53" width="21.5" height="0.55" fill="#fff" opacity="0.75"/>
<rect y="546.03" width="21.5" height="0.55" fill="#fff" opacity="0.75"/>
<rect y="550.03" width="21.5" height="0.55" fill="#fff" opacity="0.75"/>
<rect y="551.83" width="21.5" height="0.55" fill="#fff" opacity="0.75"/>
<rect y="553.62" width="21.5" height="0.55" fill="#fff" opacity="0.75"/>
<rect y="559.33" width="21.5" height="0.55" fill="#fff" opacity="0.75"/>
<rect y="562.03" width="21.5" height="0.55" fill="#fff" opacity="0.75"/>
<rect y="563.23" width="21.5" height="0.55" fill="#fff" opacity="0.75"/>
<rect y="565.03" width="21.5" height="0.55" fill="#fff" opacity="0.75"/>
<rect y="566.83" width="21.5" height="0.55" fill="#fff" opacity="0.75"/>
<rect y="568.33" width="21.5" height="0.55" fill="#fff" opacity="0.75"/>
<rect y="569.83" width="21.5" height="0.55" fill="#fff" opacity="0.75"/>
<rect y="571.33" width="21.5" height="0.55" fill="#fff" opacity="0.75"/>
<rect y="573.6" width="21.5" height="7" fill="#a2c0da"/>
<rect y="573.6" width="21.5" height="1.55" fill="#90b4d2"/>
<rect y="575.1" width="21.5" height="1.25" fill="#90b4d2"/>
<rect y="576.3" width="21.5" height="2.65" fill="#dae6f0"/>
<rect y="578.9" width="21.5" height="1.55" fill="#6b9bc3"/>
<rect y="580.4" width="21.5" height="0.25" fill="#90b4d2"/>
<rect y="574.83" width="21.5" height="0.55" fill="#fff" opacity="0.75"/>
<rect y="576.03" width="21.5" height="0.55" fill="#fff" opacity="0.75"/>
<rect y="578.63" width="21.5" height="0.55" fill="#fff" opacity="0.75"/>
<rect y="580.6" width="21.5" height="26.7" fill="#a2c0da"/>
<rect y="580.6" width="21.5" height="1.85" fill="#b5cde1"/>
<rect y="582.4" width="21.5" height="1.85" fill="#588ebc"/>
<rect y="584.2" width="21.5" height="1.55" fill="#b5cde1"/>
<rect y="585.7" width="21.5" height="1.25" fill="#b5cde1"/>
<rect y="586.9" width="21.5" height="1.85" fill="#c8dae8"/>
<rect y="588.7" width="21.5" height="2.65" fill="#c8dae8"/>
<rect y="591.3" width="21.5" height="1.55" fill="#7ea8ca"/>
<rect y="592.8" width="21.5" height="1.85" fill="#b5cde1"/>
<rect y="594.6" width="21.5" height="2.25" fill="#c8dae8"/>
<rect y="596.8" width="21.5" height="1.55" fill="#b5cde1"/>
<rect y="598.3" width="21.5" height="1.55" fill="#90b4d2"/>
<rect y="599.8" width="21.5" height="2.65" fill="#a2c0da"/>
<rect y="602.4" width="21.5" height="1.25" fill="#c8dae8"/>
<rect y="603.6" width="21.5" height="1.55" fill="#90b4d2"/>
<rect y="605.1" width="21.5" height="2.25" fill="#90b4d2"/>
<rect y="582.12" width="21.5" height="0.55" fill="#fff" opacity="0.75"/>
<rect y="588.42" width="21.5" height="0.55" fill="#fff" opacity="0.75"/>
<rect y="591.02" width="21.5" height="0.55" fill="#fff" opacity="0.75"/>
<rect y="594.32" width="21.5" height="0.55" fill="#fff" opacity="0.75"/>
<rect y="596.52" width="21.5" height="0.55" fill="#fff" opacity="0.75"/>
<rect y="598.02" width="21.5" height="0.55" fill="#fff" opacity="0.75"/>
<rect y="599.52" width="21.5" height="0.55" fill="#fff" opacity="0.75"/>
<rect y="602.12" width="21.5" height="0.55" fill="#fff" opacity="0.75"/>
<rect y="604.83" width="21.5" height="0.55" fill="#fff" opacity="0.75"/>
<rect y="607.3" width="21.5" height="8.7" fill="#a2c0da"/>
<rect y="607.3" width="21.5" height="1.55" fill="#7ea8ca"/>
<rect y="608.8" width="21.5" height="1.55" fill="#c8dae8"/>
<rect y="610.3" width="21.5" height="1.25" fill="#a2c0da"/>
<rect y="611.5" width="21.5" height="1.85" fill="#7ea8ca"/>
<rect y="613.3" width="21.5" height="2.25" fill="#dae6f0"/>
<rect y="615.5" width="21.5" height="0.55" fill="#dae6f0"/>
<rect y="610.02" width="21.5" height="0.55" fill="#fff" opacity="0.75"/>
<rect y="611.23" width="21.5" height="0.55" fill="#fff" opacity="0.75"/>
<rect y="616" width="21.5" height="25.7" fill="#a2c0da"/>
<rect y="616" width="21.5" height="2.25" fill="#b5cde1"/>
<rect y="618.2" width="21.5" height="1.85" fill="#a2c0da"/>
<rect y="620" width="21.5" height="1.25" fill="#c8dae8"/>
<rect y="621.2" width="21.5" height="1.85" fill="#7ea8ca"/>
<rect y="623" width="21.5" height="2.25" fill="#90b4d2"/>
<rect y="625.2" width="21.5" height="1.25" fill="#c8dae8"/>
<rect y="626.4" width="21.5" height="1.85" fill="#c8dae8"/>
<rect y="628.2" width="21.5" height="2.25" fill="#6b9bc3"/>
<rect y="630.4" width="21.5" height="1.25" fill="#90b4d2"/>
<rect y="631.6" width="21.5" height="2.25" fill="#a2c0da"/>
<rect y="633.8" width="21.5" height="1.55" fill="#b5cde1"/>
<rect y="635.3" width="21.5" height="1.25" fill="#b5cde1"/>
<rect y="636.5" width="21.5" height="1.85" fill="#b5cde1"/>
<rect y="638.3" width="21.5" height="1.25" fill="#ecf2f8"/>
<rect y="639.5" width="21.5" height="1.85" fill="#b5cde1"/>
<rect y="641.3" width="21.5" height="0.45" fill="#c8dae8"/>
<rect y="617.93" width="21.5" height="0.55" fill="#fff" opacity="0.75"/>
<rect y="620.93" width="21.5" height="0.55" fill="#fff" opacity="0.75"/>
<rect y="622.73" width="21.5" height="0.55" fill="#fff" opacity="0.75"/>
<rect y="630.13" width="21.5" height="0.55" fill="#fff" opacity="0.75"/>
<rect y="635.03" width="21.5" height="0.55" fill="#fff" opacity="0.75"/>
<rect y="636.23" width="21.5" height="0.55" fill="#fff" opacity="0.75"/>
<rect y="641.7" width="21.5" height="10.3" fill="#a2c0da"/>
<rect y="641.7" width="21.5" height="2.25" fill="#7ea8ca"/>
<rect y="643.9" width="21.5" height="2.25" fill="#dae6f0"/>
<rect y="646.1" width="21.5" height="1.25" fill="#c8dae8"/>
<rect y="647.3" width="21.5" height="2.25" fill="#7ea8ca"/>
<rect y="649.5" width="21.5" height="1.25" fill="#a2c0da"/>
<rect y="650.7" width="21.5" height="1.35" fill="#90b4d2"/>
<rect y="643.63" width="21.5" height="0.55" fill="#fff" opacity="0.75"/>
<rect y="647.03" width="21.5" height="0.55" fill="#fff" opacity="0.75"/>
<rect y="649.23" width="21.5" height="0.55" fill="#fff" opacity="0.75"/>
<rect y="650.43" width="21.5" height="0.55" fill="#fff" opacity="0.75"/>
<rect y="652" width="21.5" height="22.6" fill="#a2c0da"/>
<rect y="652" width="21.5" height="1.55" fill="#a2c0da"/>
<rect y="653.5" width="21.5" height="2.65" fill="#90b4d2"/>
<rect y="656.1" width="21.5" height="1.25" fill="#b5cde1"/>
<rect y="657.3" width="21.5" height="2.25" fill="#a2c0da"/>
<rect y="659.5" width="21.5" height="1.25" fill="#7ea8ca"/>
<rect y="660.7" width="21.5" height="1.25" fill="#b5cde1"/>
<rect y="661.9" width="21.5" height="1.85" fill="#90b4d2"/>
<rect y="663.7" width="21.5" height="2.65" fill="#c8dae8"/>
<rect y="666.3" width="21.5" height="2.65" fill="#6b9bc3"/>
<rect y="668.9" width="21.5" height="2.65" fill="#c8dae8"/>
<rect y="671.5" width="21.5" height="2.25" fill="#c8dae8"/>
<rect y="673.7" width="21.5" height="0.95" fill="#90b4d2"/>
<rect y="653.23" width="21.5" height="0.55" fill="#fff" opacity="0.75"/>
<rect y="660.43" width="21.5" height="0.55" fill="#fff" opacity="0.75"/>
<rect y="661.63" width="21.5" height="0.55" fill="#fff" opacity="0.75"/>
<rect y="668.63" width="21.5" height="0.55" fill="#fff" opacity="0.75"/>
<rect y="671.23" width="21.5" height="0.55" fill="#fff" opacity="0.75"/>
</g>
<g transform="translate(206.3,0)">
<rect y="353.5" width="21.1" height="138.5" fill="#b5cde1"/>
<rect y="353.5" width="21.1" height="1.25" fill="#dae6f0"/>
<rect y="354.7" width="21.1" height="1.55" fill="#b5cde1"/>
<rect y="356.2" width="21.1" height="2.25" fill="#b5cde1"/>
<rect y="358.4" width="21.1" height="2.25" fill="#90b4d2"/>
<rect y="360.6" width="21.1" height="1.25" fill="#90b4d2"/>
<rect y="361.8" width="21.1" height="2.65" fill="#b5cde1"/>
<rect y="364.4" width="21.1" height="2.65" fill="#ecf2f8"/>
<rect y="367" width="21.1" height="1.25" fill="#a2c0da"/>
<rect y="368.2" width="21.1" height="2.25" fill="#a2c0da"/>
<rect y="370.4" width="21.1" height="1.25" fill="#b5cde1"/>
<rect y="371.6" width="21.1" height="1.25" fill="#dae6f0"/>
<rect y="372.8" width="21.1" height="2.65" fill="#c8dae8"/>
<rect y="375.4" width="21.1" height="1.55" fill="#b5cde1"/>
<rect y="376.9" width="21.1" height="2.65" fill="#c8dae8"/>
<rect y="379.5" width="21.1" height="1.85" fill="#c8dae8"/>
<rect y="381.3" width="21.1" height="1.25" fill="#b5cde1"/>
<rect y="382.5" width="21.1" height="2.65" fill="#a2c0da"/>
<rect y="385.1" width="21.1" height="2.25" fill="#c8dae8"/>
<rect y="387.3" width="21.1" height="2.65" fill="#ecf2f8"/>
<rect y="389.9" width="21.1" height="2.25" fill="#a2c0da"/>
<rect y="392.1" width="21.1" height="1.55" fill="#b5cde1"/>
<rect y="393.6" width="21.1" height="2.65" fill="#90b4d2"/>
<rect y="396.2" width="21.1" height="1.85" fill="#dae6f0"/>
<rect y="398" width="21.1" height="1.55" fill="#a2c0da"/>
<rect y="399.5" width="21.1" height="1.55" fill="#dae6f0"/>
<rect y="401" width="21.1" height="1.25" fill="#b5cde1"/>
<rect y="402.2" width="21.1" height="2.25" fill="#c8dae8"/>
<rect y="404.4" width="21.1" height="2.65" fill="#a2c0da"/>
<rect y="407" width="21.1" height="1.25" fill="#c8dae8"/>
<rect y="408.2" width="21.1" height="1.55" fill="#90b4d2"/>
<rect y="409.7" width="21.1" height="1.55" fill="#c8dae8"/>
<rect y="411.2" width="21.1" height="1.85" fill="#c8dae8"/>
<rect y="413" width="21.1" height="2.25" fill="#90b4d2"/>
<rect y="415.2" width="21.1" height="1.55" fill="#a2c0da"/>
<rect y="416.7" width="21.1" height="2.65" fill="#c8dae8"/>
<rect y="419.3" width="21.1" height="2.25" fill="#588ebc"/>
<rect y="421.5" width="21.1" height="1.85" fill="#ffffff"/>
<rect y="423.3" width="21.1" height="2.65" fill="#ecf2f8"/>
<rect y="425.9" width="21.1" height="1.85" fill="#dae6f0"/>
<rect y="427.7" width="21.1" height="1.85" fill="#a2c0da"/>
<rect y="429.5" width="21.1" height="1.85" fill="#dae6f0"/>
<rect y="431.3" width="21.1" height="2.25" fill="#a2c0da"/>
<rect y="433.5" width="21.1" height="1.55" fill="#c8dae8"/>
<rect y="435" width="21.1" height="2.25" fill="#a2c0da"/>
<rect y="437.2" width="21.1" height="1.85" fill="#b5cde1"/>
<rect y="439" width="21.1" height="2.65" fill="#ecf2f8"/>
<rect y="441.6" width="21.1" height="2.25" fill="#6b9bc3"/>
<rect y="443.8" width="21.1" height="1.25" fill="#dae6f0"/>
<rect y="445" width="21.1" height="1.85" fill="#b5cde1"/>
<rect y="446.8" width="21.1" height="1.85" fill="#4682b4"/>
<rect y="448.6" width="21.1" height="2.65" fill="#a2c0da"/>
<rect y="451.2" width="21.1" height="2.25" fill="#a2c0da"/>
<rect y="453.4" width="21.1" height="1.85" fill="#c8dae8"/>
<rect y="455.2" width="21.1" height="1.25" fill="#a2c0da"/>
<rect y="456.4" width="21.1" height="1.85" fill="#90b4d2"/>
<rect y="458.2" width="21.1" height="2.65" fill="#c8dae8"/>
<rect y="460.8" width="21.1" height="2.25" fill="#b5cde1"/>
<rect y="463" width="21.1" height="2.25" fill="#c8dae8"/>
<rect y="465.2" width="21.1" height="2.65" fill="#6b9bc3"/>
<rect y="467.8" width="21.1" height="1.25" fill="#c8dae8"/>
<rect y="469" width="21.1" height="1.85" fill="#dae6f0"/>
<rect y="470.8" width="21.1" height="1.25" fill="#a2c0da"/>
<rect y="472" width="21.1" height="2.65" fill="#a2c0da"/>
<rect y="474.6" width="21.1" height="2.25" fill="#a2c0da"/>
<rect y="476.8" width="21.1" height="1.55" fill="#90b4d2"/>
<rect y="478.3" width="21.1" height="1.55" fill="#b5cde1"/>
<rect y="479.8" width="21.1" height="1.25" fill="#b5cde1"/>
<rect y="481" width="21.1" height="1.25" fill="#b5cde1"/>
<rect y="482.2" width="21.1" height="2.65" fill="#b5cde1"/>
<rect y="484.8" width="21.1" height="1.85" fill="#a2c0da"/>
<rect y="486.6" width="21.1" height="1.25" fill="#c8dae8"/>
<rect y="487.8" width="21.1" height="2.25" fill="#b5cde1"/>
<rect y="490" width="21.1" height="2.05" fill="#90b4d2"/>
<rect y="354.43" width="21.1" height="0.55" fill="#fff" opacity="0.75"/>
<rect y="355.93" width="21.1" height="0.55" fill="#fff" opacity="0.75"/>
<rect y="361.52" width="21.1" height="0.55" fill="#fff" opacity="0.75"/>
<rect y="364.12" width="21.1" height="0.55" fill="#fff" opacity="0.75"/>
<rect y="367.93" width="21.1" height="0.55" fill="#fff" opacity="0.75"/>
<rect y="370.12" width="21.1" height="0.55" fill="#fff" opacity="0.75"/>
<rect y="372.52" width="21.1" height="0.55" fill="#fff" opacity="0.75"/>
<rect y="376.62" width="21.1" height="0.55" fill="#fff" opacity="0.75"/>
<rect y="379.23" width="21.1" height="0.55" fill="#fff" opacity="0.75"/>
<rect y="381.03" width="21.1" height="0.55" fill="#fff" opacity="0.75"/>
<rect y="382.23" width="21.1" height="0.55" fill="#fff" opacity="0.75"/>
<rect y="384.83" width="21.1" height="0.55" fill="#fff" opacity="0.75"/>
<rect y="387.03" width="21.1" height="0.55" fill="#fff" opacity="0.75"/>
<rect y="389.63" width="21.1" height="0.55" fill="#fff" opacity="0.75"/>
<rect y="391.83" width="21.1" height="0.55" fill="#fff" opacity="0.75"/>
<rect y="393.33" width="21.1" height="0.55" fill="#fff" opacity="0.75"/>
<rect y="395.93" width="21.1" height="0.55" fill="#fff" opacity="0.75"/>
<rect y="397.73" width="21.1" height="0.55" fill="#fff" opacity="0.75"/>
<rect y="399.23" width="21.1" height="0.55" fill="#fff" opacity="0.75"/>
<rect y="400.73" width="21.1" height="0.55" fill="#fff" opacity="0.75"/>
<rect y="407.93" width="21.1" height="0.55" fill="#fff" opacity="0.75"/>
<rect y="409.43" width="21.1" height="0.55" fill="#fff" opacity="0.75"/>
<rect y="414.93" width="21.1" height="0.55" fill="#fff" opacity="0.75"/>
<rect y="416.43" width="21.1" height="0.55" fill="#fff" opacity="0.75"/>
<rect y="421.23" width="21.1" height="0.55" fill="#fff" opacity="0.75"/>
<rect y="431.03" width="21.1" height="0.55" fill="#fff" opacity="0.75"/>
<rect y="433.23" width="21.1" height="0.55" fill="#fff" opacity="0.75"/>
<rect y="434.73" width="21.1" height="0.55" fill="#fff" opacity="0.75"/>
<rect y="441.33" width="21.1" height="0.55" fill="#fff" opacity="0.75"/>
<rect y="448.33" width="21.1" height="0.55" fill="#fff" opacity="0.75"/>
<rect y="454.93" width="21.1" height="0.55" fill="#fff" opacity="0.75"/>
<rect y="456.13" width="21.1" height="0.55" fill="#fff" opacity="0.75"/>
<rect y="457.93" width="21.1" height="0.55" fill="#fff" opacity="0.75"/>
<rect y="460.53" width="21.1" height="0.55" fill="#fff" opacity="0.75"/>
<rect y="462.73" width="21.1" height="0.55" fill="#fff" opacity="0.75"/>
<rect y="470.53" width="21.1" height="0.55" fill="#fff" opacity="0.75"/>
<rect y="471.73" width="21.1" height="0.55" fill="#fff" opacity="0.75"/>
<rect y="478.03" width="21.1" height="0.55" fill="#fff" opacity="0.75"/>
<rect y="480.73" width="21.1" height="0.55" fill="#fff" opacity="0.75"/>
<rect y="481.93" width="21.1" height="0.55" fill="#fff" opacity="0.75"/>
<rect y="484.53" width="21.1" height="0.55" fill="#fff" opacity="0.75"/>
<rect y="486.33" width="21.1" height="0.55" fill="#fff" opacity="0.75"/>
<rect y="487.53" width="21.1" height="0.55" fill="#fff" opacity="0.75"/>
<rect y="492" width="21.1" height="4" fill="#b5cde1"/>
<rect y="492" width="21.1" height="2.65" fill="#dae6f0"/>
<rect y="494.6" width="21.1" height="1.25" fill="#b5cde1"/>
<rect y="495.8" width="21.1" height="0.25" fill="#dae6f0"/>
<rect y="494.33" width="21.1" height="0.55" fill="#fff" opacity="0.75"/>
<rect y="496" width="21.1" height="40" fill="#b5cde1"/>
<rect y="496" width="21.1" height="1.25" fill="#ecf2f8"/>
<rect y="497.2" width="21.1" height="1.25" fill="#c8dae8"/>
<rect y="498.4" width="21.1" height="2.65" fill="#dae6f0"/>
<rect y="501" width="21.1" height="1.25" fill="#90b4d2"/>
<rect y="502.2" width="21.1" height="1.55" fill="#90b4d2"/>
<rect y="503.7" width="21.1" height="1.85" fill="#b5cde1"/>
<rect y="505.5" width="21.1" height="2.65" fill="#c8dae8"/>
<rect y="508.1" width="21.1" height="1.55" fill="#90b4d2"/>
<rect y="509.6" width="21.1" height="2.25" fill="#c8dae8"/>
<rect y="511.8" width="21.1" height="1.25" fill="#90b4d2"/>
<rect y="513" width="21.1" height="1.25" fill="#c8dae8"/>
<rect y="514.2" width="21.1" height="2.65" fill="#c8dae8"/>
<rect y="516.8" width="21.1" height="2.25" fill="#a2c0da"/>
<rect y="519" width="21.1" height="2.65" fill="#b5cde1"/>
<rect y="521.6" width="21.1" height="1.25" fill="#ffffff"/>
<rect y="522.8" width="21.1" height="2.25" fill="#a2c0da"/>
<rect y="525" width="21.1" height="2.25" fill="#90b4d2"/>
<rect y="527.2" width="21.1" height="2.25" fill="#ffffff"/>
<rect y="529.4" width="21.1" height="1.55" fill="#c8dae8"/>
<rect y="530.9" width="21.1" height="1.55" fill="#ffffff"/>
<rect y="532.4" width="21.1" height="1.85" fill="#b5cde1"/>
<rect y="534.2" width="21.1" height="1.85" fill="#c8dae8"/>
<rect y="496.93" width="21.1" height="0.55" fill="#fff" opacity="0.75"/>
<rect y="500.73" width="21.1" height="0.55" fill="#fff" opacity="0.75"/>
<rect y="507.83" width="21.1" height="0.55" fill="#fff" opacity="0.75"/>
<rect y="509.33" width="21.1" height="0.55" fill="#fff" opacity="0.75"/>
<rect y="512.73" width="21.1" height="0.55" fill="#fff" opacity="0.75"/>
<rect y="513.93" width="21.1" height="0.55" fill="#fff" opacity="0.75"/>
<rect y="518.73" width="21.1" height="0.55" fill="#fff" opacity="0.75"/>
<rect y="522.53" width="21.1" height="0.55" fill="#fff" opacity="0.75"/>
<rect y="524.73" width="21.1" height="0.55" fill="#fff" opacity="0.75"/>
<rect y="529.13" width="21.1" height="0.55" fill="#fff" opacity="0.75"/>
<rect y="530.63" width="21.1" height="0.55" fill="#fff" opacity="0.75"/>
<rect y="532.13" width="21.1" height="0.55" fill="#fff" opacity="0.75"/>
<rect y="533.93" width="21.1" height="0.55" fill="#fff" opacity="0.75"/>
<rect y="536" width="21.1" height="6.6" fill="#b5cde1"/>
<rect y="536" width="21.1" height="1.25" fill="#a2c0da"/>
<rect y="537.2" width="21.1" height="2.25" fill="#c8dae8"/>
<rect y="539.4" width="21.1" height="1.55" fill="#a2c0da"/>
<rect y="540.9" width="21.1" height="1.75" fill="#b5cde1"/>
<rect y="539.13" width="21.1" height="0.55" fill="#fff" opacity="0.75"/>
<rect y="540.63" width="21.1" height="0.55" fill="#fff" opacity="0.75"/>
<rect y="542.6" width="21.1" height="31" fill="#b5cde1"/>
<rect y="542.6" width="21.1" height="1.25" fill="#c8dae8"/>
<rect y="543.8" width="21.1" height="1.55" fill="#b5cde1"/>
<rect y="545.3" width="21.1" height="2.65" fill="#c8dae8"/>
<rect y="547.9" width="21.1" height="1.55" fill="#90b4d2"/>
<rect y="549.4" width="21.1" height="1.55" fill="#a2c0da"/>
<rect y="550.9" width="21.1" height="1.85" fill="#c8dae8"/>
<rect y="552.7" width="21.1" height="2.65" fill="#dae6f0"/>
<rect y="555.3" width="21.1" height="2.25" fill="#a2c0da"/>
<rect y="557.5" width="21.1" height="1.55" fill="#b5cde1"/>
<rect y="559" width="21.1" height="1.85" fill="#90b4d2"/>
<rect y="560.8" width="21.1" height="2.65" fill="#a2c0da"/>
<rect y="563.4" width="21.1" height="2.65" fill="#a2c0da"/>
<rect y="566" width="21.1" height="2.65" fill="#b5cde1"/>
<rect y="568.6" width="21.1" height="1.85" fill="#b5cde1"/>
<rect y="570.4" width="21.1" height="2.65" fill="#7ea8ca"/>
<rect y="573" width="21.1" height="0.65" fill="#a2c0da"/>
<rect y="543.53" width="21.1" height="0.55" fill="#fff" opacity="0.75"/>
<rect y="545.03" width="21.1" height="0.55" fill="#fff" opacity="0.75"/>
<rect y="550.63" width="21.1" height="0.55" fill="#fff" opacity="0.75"/>
<rect y="555.03" width="21.1" height="0.55" fill="#fff" opacity="0.75"/>
<rect y="557.23" width="21.1" height="0.55" fill="#fff" opacity="0.75"/>
<rect y="563.13" width="21.1" height="0.55" fill="#fff" opacity="0.75"/>
<rect y="568.33" width="21.1" height="0.55" fill="#fff" opacity="0.75"/>
<rect y="570.13" width="21.1" height="0.55" fill="#fff" opacity="0.75"/>
<rect y="573.6" width="21.1" height="7" fill="#b5cde1"/>
<rect y="573.6" width="21.1" height="1.25" fill="#dae6f0"/>
<rect y="574.8" width="21.1" height="1.55" fill="#a2c0da"/>
<rect y="576.3" width="21.1" height="2.65" fill="#dae6f0"/>
<rect y="578.9" width="21.1" height="1.75" fill="#b5cde1"/>
<rect y="576.03" width="21.1" height="0.55" fill="#fff" opacity="0.75"/>
<rect y="580.6" width="21.1" height="26.7" fill="#b5cde1"/>
<rect y="580.6" width="21.1" height="1.85" fill="#a2c0da"/>
<rect y="582.4" width="21.1" height="1.85" fill="#dae6f0"/>
<rect y="584.2" width="21.1" height="2.25" fill="#dae6f0"/>
<rect y="586.4" width="21.1" height="2.25" fill="#c8dae8"/>
<rect y="588.6" width="21.1" height="1.55" fill="#6b9bc3"/>
<rect y="590.1" width="21.1" height="1.55" fill="#ecf2f8"/>
<rect y="591.6" width="21.1" height="1.85" fill="#c8dae8"/>
<rect y="593.4" width="21.1" height="1.25" fill="#a2c0da"/>
<rect y="594.6" width="21.1" height="2.25" fill="#90b4d2"/>
<rect y="596.8" width="21.1" height="1.25" fill="#c8dae8"/>
<rect y="598" width="21.1" height="1.55" fill="#c8dae8"/>
<rect y="599.5" width="21.1" height="1.25" fill="#90b4d2"/>
<rect y="600.7" width="21.1" height="1.85" fill="#dae6f0"/>
<rect y="602.5" width="21.1" height="1.25" fill="#90b4d2"/>
<rect y="603.7" width="21.1" height="2.65" fill="#a2c0da"/>
<rect y="606.3" width="21.1" height="1.05" fill="#90b4d2"/>
<rect y="582.12" width="21.1" height="0.55" fill="#fff" opacity="0.75"/>
<rect y="583.92" width="21.1" height="0.55" fill="#fff" opacity="0.75"/>
<rect y="594.33" width="21.1" height="0.55" fill="#fff" opacity="0.75"/>
<rect y="596.53" width="21.1" height="0.55" fill="#fff" opacity="0.75"/>
<rect y="600.43" width="21.1" height="0.55" fill="#fff" opacity="0.75"/>
<rect y="602.23" width="21.1" height="0.55" fill="#fff" opacity="0.75"/>
<rect y="607.3" width="21.1" height="8.7" fill="#b5cde1"/>
<rect y="607.3" width="21.1" height="2.25" fill="#b5cde1"/>
<rect y="609.5" width="21.1" height="2.65" fill="#b5cde1"/>
<rect y="612.1" width="21.1" height="1.85" fill="#b5cde1"/>
<rect y="613.9" width="21.1" height="2.15" fill="#b5cde1"/>
<rect y="616" width="21.1" height="25.7" fill="#b5cde1"/>
<rect y="616" width="21.1" height="1.55" fill="#b5cde1"/>
<rect y="617.5" width="21.1" height="1.25" fill="#b5cde1"/>
<rect y="618.7" width="21.1" height="1.25" fill="#a2c0da"/>
<rect y="619.9" width="21.1" height="2.25" fill="#ecf2f8"/>
<rect y="622.1" width="21.1" height="2.65" fill="#b5cde1"/>
<rect y="624.7" width="21.1" height="2.25" fill="#a2c0da"/>
<rect y="626.9" width="21.1" height="2.25" fill="#c8dae8"/>
<rect y="629.1" width="21.1" height="1.55" fill="#90b4d2"/>
<rect y="630.6" width="21.1" height="1.55" fill="#c8dae8"/>
<rect y="632.1" width="21.1" height="1.55" fill="#ecf2f8"/>
<rect y="633.6" width="21.1" height="1.85" fill="#c8dae8"/>
<rect y="635.4" width="21.1" height="1.55" fill="#ecf2f8"/>
<rect y="636.9" width="21.1" height="1.55" fill="#b5cde1"/>
<rect y="638.4" width="21.1" height="1.55" fill="#a2c0da"/>
<rect y="639.9" width="21.1" height="1.85" fill="#dae6f0"/>
<rect y="619.63" width="21.1" height="0.55" fill="#fff" opacity="0.75"/>
<rect y="621.83" width="21.1" height="0.55" fill="#fff" opacity="0.75"/>
<rect y="624.43" width="21.1" height="0.55" fill="#fff" opacity="0.75"/>
<rect y="626.63" width="21.1" height="0.55" fill="#fff" opacity="0.75"/>
<rect y="628.83" width="21.1" height="0.55" fill="#fff" opacity="0.75"/>
<rect y="631.83" width="21.1" height="0.55" fill="#fff" opacity="0.75"/>
<rect y="635.13" width="21.1" height="0.55" fill="#fff" opacity="0.75"/>
<rect y="636.63" width="21.1" height="0.55" fill="#fff" opacity="0.75"/>
<rect y="639.63" width="21.1" height="0.55" fill="#fff" opacity="0.75"/>
<rect y="641.7" width="21.1" height="10.3" fill="#b5cde1"/>
<rect y="641.7" width="21.1" height="1.55" fill="#dae6f0"/>
<rect y="643.2" width="21.1" height="1.55" fill="#dae6f0"/>
<rect y="644.7" width="21.1" height="1.25" fill="#90b4d2"/>
<rect y="645.9" width="21.1" height="1.85" fill="#b5cde1"/>
<rect y="647.7" width="21.1" height="1.55" fill="#c8dae8"/>
<rect y="649.2" width="21.1" height="1.85" fill="#a2c0da"/>
<rect y="651" width="21.1" height="1.05" fill="#90b4d2"/>
<rect y="652" width="21.1" height="22.6" fill="#b5cde1"/>
<rect y="652" width="21.1" height="1.55" fill="#a2c0da"/>
<rect y="653.5" width="21.1" height="1.55" fill="#90b4d2"/>
<rect y="655" width="21.1" height="1.55" fill="#a2c0da"/>
<rect y="656.5" width="21.1" height="1.85" fill="#dae6f0"/>
<rect y="658.3" width="21.1" height="1.85" fill="#b5cde1"/>
<rect y="660.1" width="21.1" height="1.25" fill="#b5cde1"/>
<rect y="661.3" width="21.1" height="1.85" fill="#90b4d2"/>
<rect y="663.1" width="21.1" height="2.65" fill="#a2c0da"/>
<rect y="665.7" width="21.1" height="1.25" fill="#c8dae8"/>
<rect y="666.9" width="21.1" height="2.25" fill="#ecf2f8"/>
<rect y="669.1" width="21.1" height="2.65" fill="#dae6f0"/>
<rect y="671.7" width="21.1" height="2.25" fill="#dae6f0"/>
<rect y="673.9" width="21.1" height="0.75" fill="#b5cde1"/>
<rect y="656.23" width="21.1" height="0.55" fill="#fff" opacity="0.75"/>
<rect y="658.02" width="21.1" height="0.55" fill="#fff" opacity="0.75"/>
<rect y="659.82" width="21.1" height="0.55" fill="#fff" opacity="0.75"/>
<rect y="661.02" width="21.1" height="0.55" fill="#fff" opacity="0.75"/>
<rect y="662.82" width="21.1" height="0.55" fill="#fff" opacity="0.75"/>
<rect y="665.42" width="21.1" height="0.55" fill="#fff" opacity="0.75"/>
<rect y="666.62" width="21.1" height="0.55" fill="#fff" opacity="0.75"/>
<rect y="671.43" width="21.1" height="0.55" fill="#fff" opacity="0.75"/>
</g>
<g transform="translate(228.2,0)">
<rect y="353.5" width="21" height="138.5" fill="#6b9bc3"/>
<rect y="353.5" width="21" height="1.25" fill="#588ebc"/>
<rect y="354.7" width="21" height="2.65" fill="#7ea8ca"/>
<rect y="357.3" width="21" height="1.85" fill="#6b9bc3"/>
<rect y="359.1" width="21" height="1.25" fill="#6b9bc3"/>
<rect y="360.3" width="21" height="1.55" fill="#6b9bc3"/>
<rect y="361.8" width="21" height="1.55" fill="#7ea8ca"/>
<rect y="363.3" width="21" height="1.85" fill="#6b9bc3"/>
<rect y="365.1" width="21" height="1.85" fill="#588ebc"/>
<rect y="366.9" width="21" height="1.85" fill="#90b4d2"/>
<rect y="368.7" width="21" height="1.85" fill="#90b4d2"/>
<rect y="370.5" width="21" height="1.25" fill="#90b4d2"/>
<rect y="371.7" width="21" height="2.25" fill="#90b4d2"/>
<rect y="373.9" width="21" height="1.55" fill="#588ebc"/>
<rect y="375.4" width="21" height="1.85" fill="#6b9bc3"/>
<rect y="377.2" width="21" height="1.25" fill="#7ea8ca"/>
<rect y="378.4" width="21" height="2.25" fill="#7ea8ca"/>
<rect y="380.6" width="21" height="1.25" fill="#7ea8ca"/>
<rect y="381.8" width="21" height="1.85" fill="#588ebc"/>
<rect y="383.6" width="21" height="2.65" fill="#90b4d2"/>
<rect y="386.2" width="21" height="1.85" fill="#4682b4"/>
<rect y="388" width="21" height="1.25" fill="#588ebc"/>
<rect y="389.2" width="21" height="2.25" fill="#6b9bc3"/>
<rect y="391.4" width="21" height="1.55" fill="#7ea8ca"/>
<rect y="392.9" width="21" height="2.25" fill="#588ebc"/>
<rect y="395.1" width="21" height="1.85" fill="#4682b4"/>
<rect y="396.9" width="21" height="2.65" fill="#588ebc"/>
<rect y="399.5" width="21" height="2.65" fill="#90b4d2"/>
<rect y="402.1" width="21" height="2.65" fill="#4682b4"/>
<rect y="404.7" width="21" height="1.25" fill="#6b9bc3"/>
<rect y="405.9" width="21" height="2.65" fill="#588ebc"/>
<rect y="408.5" width="21" height="1.85" fill="#4682b4"/>
<rect y="410.3" width="21" height="1.85" fill="#6b9bc3"/>
<rect y="412.1" width="21" height="1.25" fill="#6b9bc3"/>
<rect y="413.3" width="21" height="1.25" fill="#588ebc"/>
<rect y="414.5" width="21" height="2.65" fill="#588ebc"/>
<rect y="417.1" width="21" height="2.65" fill="#7ea8ca"/>
<rect y="419.7" width="21" height="2.25" fill="#588ebc"/>
<rect y="421.9" width="21" height="1.55" fill="#6b9bc3"/>
<rect y="423.4" width="21" height="1.25" fill="#6b9bc3"/>
<rect y="424.6" width="21" height="1.55" fill="#90b4d2"/>
<rect y="426.1" width="21" height="1.85" fill="#588ebc"/>
<rect y="427.9" width="21" height="2.65" fill="#588ebc"/>
<rect y="430.5" width="21" height="1.25" fill="#588ebc"/>
<rect y="431.7" width="21" height="2.25" fill="#4682b4"/>
<rect y="433.9" width="21" height="2.25" fill="#7ea8ca"/>
<rect y="436.1" width="21" height="1.25" fill="#7ea8ca"/>
<rect y="437.3" width="21" height="2.65" fill="#90b4d2"/>
<rect y="439.9" width="21" height="1.55" fill="#7ea8ca"/>
<rect y="441.4" width="21" height="1.55" fill="#4682b4"/>
<rect y="442.9" width="21" height="2.65" fill="#588ebc"/>
<rect y="445.5" width="21" height="1.55" fill="#6b9bc3"/>
<rect y="447" width="21" height="1.55" fill="#6b9bc3"/>
<rect y="448.5" width="21" height="1.25" fill="#588ebc"/>
<rect y="449.7" width="21" height="2.65" fill="#4682b4"/>
<rect y="452.3" width="21" height="1.55" fill="#4682b4"/>
<rect y="453.8" width="21" height="1.55" fill="#588ebc"/>
<rect y="455.3" width="21" height="1.85" fill="#6b9bc3"/>
<rect y="457.1" width="21" height="1.85" fill="#4682b4"/>
<rect y="458.9" width="21" height="1.85" fill="#4682b4"/>
<rect y="460.7" width="21" height="2.25" fill="#6b9bc3"/>
<rect y="462.9" width="21" height="2.65" fill="#588ebc"/>
<rect y="465.5" width="21" height="2.65" fill="#7ea8ca"/>
<rect y="468.1" width="21" height="1.55" fill="#6b9bc3"/>
<rect y="469.6" width="21" height="2.65" fill="#7ea8ca"/>
<rect y="472.2" width="21" height="1.25" fill="#588ebc"/>
<rect y="473.4" width="21" height="1.55" fill="#6b9bc3"/>
<rect y="474.9" width="21" height="1.85" fill="#7ea8ca"/>
<rect y="476.7" width="21" height="2.65" fill="#4682b4"/>
<rect y="479.3" width="21" height="2.65" fill="#90b4d2"/>
<rect y="481.9" width="21" height="2.25" fill="#6b9bc3"/>
<rect y="484.1" width="21" height="1.85" fill="#7ea8ca"/>
<rect y="485.9" width="21" height="1.25" fill="#6b9bc3"/>
<rect y="487.1" width="21" height="1.25" fill="#7ea8ca"/>
<rect y="488.3" width="21" height="2.65" fill="#7ea8ca"/>
<rect y="490.9" width="21" height="1.15" fill="#90b4d2"/>
<rect y="354.43" width="21" height="0.55" fill="#fff" opacity="0.75"/>
<rect y="363.03" width="21" height="0.55" fill="#fff" opacity="0.75"/>
<rect y="364.83" width="21" height="0.55" fill="#fff" opacity="0.75"/>
<rect y="366.63" width="21" height="0.55" fill="#fff" opacity="0.75"/>
<rect y="370.23" width="21" height="0.55" fill="#fff" opacity="0.75"/>
<rect y="375.13" width="21" height="0.55" fill="#fff" opacity="0.75"/>
<rect y="378.13" width="21" height="0.55" fill="#fff" opacity="0.75"/>
<rect y="380.33" width="21" height="0.55" fill="#fff" opacity="0.75"/>
<rect y="381.53" width="21" height="0.55" fill="#fff" opacity="0.75"/>
<rect y="383.33" width="21" height="0.55" fill="#fff" opacity="0.75"/>
<rect y="385.93" width="21" height="0.55" fill="#fff" opacity="0.75"/>
<rect y="387.73" width="21" height="0.55" fill="#fff" opacity="0.75"/>
<rect y="388.93" width="21" height="0.55" fill="#fff" opacity="0.75"/>
<rect y="391.13" width="21" height="0.55" fill="#fff" opacity="0.75"/>
<rect y="392.63" width="21" height="0.55" fill="#fff" opacity="0.75"/>
<rect y="396.63" width="21" height="0.55" fill="#fff" opacity="0.75"/>
<rect y="399.23" width="21" height="0.55" fill="#fff" opacity="0.75"/>
<rect y="410.03" width="21" height="0.55" fill="#fff" opacity="0.75"/>
<rect y="411.83" width="21" height="0.55" fill="#fff" opacity="0.75"/>
<rect y="414.23" width="21" height="0.55" fill="#fff" opacity="0.75"/>
<rect y="416.83" width="21" height="0.55" fill="#fff" opacity="0.75"/>
<rect y="419.43" width="21" height="0.55" fill="#fff" opacity="0.75"/>
<rect y="421.63" width="21" height="0.55" fill="#fff" opacity="0.75"/>
<rect y="423.13" width="21" height="0.55" fill="#fff" opacity="0.75"/>
<rect y="425.83" width="21" height="0.55" fill="#fff" opacity="0.75"/>
<rect y="427.63" width="21" height="0.55" fill="#fff" opacity="0.75"/>
<rect y="435.83" width="21" height="0.55" fill="#fff" opacity="0.75"/>
<rect y="439.63" width="21" height="0.55" fill="#fff" opacity="0.75"/>
<rect y="442.63" width="21" height="0.55" fill="#fff" opacity="0.75"/>
<rect y="445.23" width="21" height="0.55" fill="#fff" opacity="0.75"/>
<rect y="448.23" width="21" height="0.55" fill="#fff" opacity="0.75"/>
<rect y="455.03" width="21" height="0.55" fill="#fff" opacity="0.75"/>
<rect y="456.83" width="21" height="0.55" fill="#fff" opacity="0.75"/>
<rect y="458.63" width="21" height="0.55" fill="#fff" opacity="0.75"/>
<rect y="460.43" width="21" height="0.55" fill="#fff" opacity="0.75"/>
<rect y="462.63" width="21" height="0.55" fill="#fff" opacity="0.75"/>
<rect y="465.23" width="21" height="0.55" fill="#fff" opacity="0.75"/>
<rect y="467.83" width="21" height="0.55" fill="#fff" opacity="0.75"/>
<rect y="469.33" width="21" height="0.55" fill="#fff" opacity="0.75"/>
<rect y="471.93" width="21" height="0.55" fill="#fff" opacity="0.75"/>
<rect y="473.13" width="21" height="0.55" fill="#fff" opacity="0.75"/>
<rect y="481.63" width="21" height="0.55" fill="#fff" opacity="0.75"/>
<rect y="483.83" width="21" height="0.55" fill="#fff" opacity="0.75"/>
<rect y="485.63" width="21" height="0.55" fill="#fff" opacity="0.75"/>
<rect y="490.63" width="21" height="0.55" fill="#fff" opacity="0.75"/>
<rect y="492" width="21" height="4" fill="#b5cde1"/>
<rect y="492" width="21" height="2.25" fill="#a2c0da"/>
<rect y="494.2" width="21" height="1.85" fill="#90b4d2"/>
<rect y="493.93" width="21" height="0.55" fill="#fff" opacity="0.75"/>
<rect y="496" width="21" height="40" fill="#6b9bc3"/>
<rect y="496" width="21" height="2.65" fill="#6b9bc3"/>
<rect y="498.6" width="21" height="1.55" fill="#588ebc"/>
<rect y="500.1" width="21" height="1.85" fill="#588ebc"/>
<rect y="501.9" width="21" height="1.85" fill="#588ebc"/>
<rect y="503.7" width="21" height="1.25" fill="#588ebc"/>
<rect y="504.9" width="21" height="2.25" fill="#6b9bc3"/>
<rect y="507.1" width="21" height="2.65" fill="#6b9bc3"/>
<rect y="509.7" width="21" height="1.55" fill="#6b9bc3"/>
<rect y="511.2" width="21" height="1.25" fill="#588ebc"/>
<rect y="512.4" width="21" height="1.85" fill="#588ebc"/>
<rect y="514.2" width="21" height="1.55" fill="#7ea8ca"/>
<rect y="515.7" width="21" height="1.25" fill="#90b4d2"/>
<rect y="516.9" width="21" height="1.55" fill="#4682b4"/>
<rect y="518.4" width="21" height="2.65" fill="#588ebc"/>
<rect y="521" width="21" height="1.55" fill="#588ebc"/>
<rect y="522.5" width="21" height="1.55" fill="#588ebc"/>
<rect y="524" width="21" height="1.85" fill="#588ebc"/>
<rect y="525.8" width="21" height="1.55" fill="#588ebc"/>
<rect y="527.3" width="21" height="1.25" fill="#7ea8ca"/>
<rect y="528.5" width="21" height="1.85" fill="#7ea8ca"/>
<rect y="530.3" width="21" height="1.55" fill="#4682b4"/>
<rect y="531.8" width="21" height="1.85" fill="#6b9bc3"/>
<rect y="533.6" width="21" height="2.25" fill="#6b9bc3"/>
<rect y="535.8" width="21" height="0.25" fill="#4682b4"/>
<rect y="498.33" width="21" height="0.55" fill="#fff" opacity="0.75"/>
<rect y="499.83" width="21" height="0.55" fill="#fff" opacity="0.75"/>
<rect y="503.43" width="21" height="0.55" fill="#fff" opacity="0.75"/>
<rect y="504.63" width="21" height="0.55" fill="#fff" opacity="0.75"/>
<rect y="506.83" width="21" height="0.55" fill="#fff" opacity="0.75"/>
<rect y="509.43" width="21" height="0.55" fill="#fff" opacity="0.75"/>
<rect y="510.93" width="21" height="0.55" fill="#fff" opacity="0.75"/>
<rect y="512.13" width="21" height="0.55" fill="#fff" opacity="0.75"/>
<rect y="516.63" width="21" height="0.55" fill="#fff" opacity="0.75"/>
<rect y="520.73" width="21" height="0.55" fill="#fff" opacity="0.75"/>
<rect y="525.53" width="21" height="0.55" fill="#fff" opacity="0.75"/>
<rect y="527.03" width="21" height="0.55" fill="#fff" opacity="0.75"/>
<rect y="530.03" width="21" height="0.55" fill="#fff" opacity="0.75"/>
<rect y="536" width="21" height="6.6" fill="#b5cde1"/>
<rect y="536" width="21" height="1.85" fill="#b5cde1"/>
<rect y="537.8" width="21" height="2.65" fill="#c8dae8"/>
<rect y="540.4" width="21" height="2.25" fill="#b5cde1"/>
<rect y="540.12" width="21" height="0.55" fill="#fff" opacity="0.75"/>
<rect y="542.6" width="21" height="31" fill="#6b9bc3"/>
<rect y="542.6" width="21" height="2.65" fill="#4682b4"/>
<rect y="545.2" width="21" height="1.55" fill="#4682b4"/>
<rect y="546.7" width="21" height="1.25" fill="#588ebc"/>
<rect y="547.9" width="21" height="2.25" fill="#588ebc"/>
<rect y="550.1" width="21" height="2.25" fill="#588ebc"/>
<rect y="552.3" width="21" height="1.85" fill="#4682b4"/>
<rect y="554.1" width="21" height="1.85" fill="#7ea8ca"/>
<rect y="555.9" width="21" height="1.85" fill="#588ebc"/>
<rect y="557.7" width="21" height="1.25" fill="#6b9bc3"/>
<rect y="558.9" width="21" height="2.65" fill="#7ea8ca"/>
<rect y="561.5" width="21" height="2.65" fill="#588ebc"/>
<rect y="564.1" width="21" height="1.55" fill="#588ebc"/>
<rect y="565.6" width="21" height="1.25" fill="#90b4d2"/>
<rect y="566.8" width="21" height="1.55" fill="#7ea8ca"/>
<rect y="568.3" width="21" height="1.85" fill="#4682b4"/>
<rect y="570.1" width="21" height="1.25" fill="#588ebc"/>
<rect y="571.3" width="21" height="1.85" fill="#6b9bc3"/>
<rect y="573.1" width="21" height="0.55" fill="#588ebc"/>
<rect y="544.93" width="21" height="0.55" fill="#fff" opacity="0.75"/>
<rect y="547.63" width="21" height="0.55" fill="#fff" opacity="0.75"/>
<rect y="549.83" width="21" height="0.55" fill="#fff" opacity="0.75"/>
<rect y="557.43" width="21" height="0.55" fill="#fff" opacity="0.75"/>
<rect y="558.63" width="21" height="0.55" fill="#fff" opacity="0.75"/>
<rect y="561.23" width="21" height="0.55" fill="#fff" opacity="0.75"/>
<rect y="568.03" width="21" height="0.55" fill="#fff" opacity="0.75"/>
<rect y="571.03" width="21" height="0.55" fill="#fff" opacity="0.75"/>
<rect y="573.6" width="21" height="7" fill="#b5cde1"/>
<rect y="573.6" width="21" height="2.25" fill="#90b4d2"/>
<rect y="575.8" width="21" height="2.25" fill="#90b4d2"/>
<rect y="578" width="21" height="1.25" fill="#a2c0da"/>
<rect y="579.2" width="21" height="1.45" fill="#a2c0da"/>
<rect y="575.53" width="21" height="0.55" fill="#fff" opacity="0.75"/>
<rect y="578.93" width="21" height="0.55" fill="#fff" opacity="0.75"/>
<rect y="580.6" width="21" height="26.7" fill="#6b9bc3"/>
<rect y="580.6" width="21" height="2.25" fill="#6b9bc3"/>
<rect y="582.8" width="21" height="1.85" fill="#7ea8ca"/>
<rect y="584.6" width="21" height="1.85" fill="#7ea8ca"/>
<rect y="586.4" width="21" height="1.85" fill="#6b9bc3"/>
<rect y="588.2" width="21" height="1.25" fill="#6b9bc3"/>
<rect y="589.4" width="21" height="1.25" fill="#6b9bc3"/>
<rect y="590.6" width="21" height="1.85" fill="#4682b4"/>
<rect y="592.4" width="21" height="2.65" fill="#6b9bc3"/>
<rect y="595" width="21" height="2.65" fill="#588ebc"/>
<rect y="597.6" width="21" height="2.25" fill="#588ebc"/>
<rect y="599.8" width="21" height="1.85" fill="#588ebc"/>
<rect y="601.6" width="21" height="2.65" fill="#4682b4"/>
<rect y="604.2" width="21" height="2.65" fill="#588ebc"/>
<rect y="606.8" width="21" height="0.55" fill="#6b9bc3"/>
<rect y="582.53" width="21" height="0.55" fill="#fff" opacity="0.75"/>
<rect y="587.92" width="21" height="0.55" fill="#fff" opacity="0.75"/>
<rect y="590.33" width="21" height="0.55" fill="#fff" opacity="0.75"/>
<rect y="594.73" width="21" height="0.55" fill="#fff" opacity="0.75"/>
<rect y="603.93" width="21" height="0.55" fill="#fff" opacity="0.75"/>
<rect y="607.3" width="21" height="8.7" fill="#b5cde1"/>
<rect y="607.3" width="21" height="1.25" fill="#a2c0da"/>
<rect y="608.5" width="21" height="1.85" fill="#b5cde1"/>
<rect y="610.3" width="21" height="1.55" fill="#6b9bc3"/>
<rect y="611.8" width="21" height="2.65" fill="#dae6f0"/>
<rect y="614.4" width="21" height="1.25" fill="#a2c0da"/>
<rect y="615.6" width="21" height="0.45" fill="#b5cde1"/>
<rect y="610.02" width="21" height="0.55" fill="#fff" opacity="0.75"/>
<rect y="614.12" width="21" height="0.55" fill="#fff" opacity="0.75"/>
<rect y="616" width="21" height="25.7" fill="#6b9bc3"/>
<rect y="616" width="21" height="1.85" fill="#7ea8ca"/>
<rect y="617.8" width="21" height="1.55" fill="#588ebc"/>
<rect y="619.3" width="21" height="1.55" fill="#588ebc"/>
<rect y="620.8" width="21" height="2.25" fill="#588ebc"/>
<rect y="623" width="21" height="2.25" fill="#6b9bc3"/>
<rect y="625.2" width="21" height="2.25" fill="#a2c0da"/>
<rect y="627.4" width="21" height="1.85" fill="#6b9bc3"/>
<rect y="629.2" width="21" height="1.25" fill="#588ebc"/>
<rect y="630.4" width="21" height="2.25" fill="#588ebc"/>
<rect y="632.6" width="21" height="2.25" fill="#588ebc"/>
<rect y="634.8" width="21" height="2.25" fill="#7ea8ca"/>
<rect y="637" width="21" height="1.85" fill="#588ebc"/>
<rect y="638.8" width="21" height="2.25" fill="#6b9bc3"/>
<rect y="641" width="21" height="0.75" fill="#7ea8ca"/>
<rect y="617.52" width="21" height="0.55" fill="#fff" opacity="0.75"/>
<rect y="627.13" width="21" height="0.55" fill="#fff" opacity="0.75"/>
<rect y="630.13" width="21" height="0.55" fill="#fff" opacity="0.75"/>
<rect y="632.33" width="21" height="0.55" fill="#fff" opacity="0.75"/>
<rect y="634.53" width="21" height="0.55" fill="#fff" opacity="0.75"/>
<rect y="636.73" width="21" height="0.55" fill="#fff" opacity="0.75"/>
<rect y="638.53" width="21" height="0.55" fill="#fff" opacity="0.75"/>
<rect y="640.73" width="21" height="0.55" fill="#fff" opacity="0.75"/>
<rect y="641.7" width="21" height="10.3" fill="#b5cde1"/>
<rect y="641.7" width="21" height="1.85" fill="#90b4d2"/>
<rect y="643.5" width="21" height="2.65" fill="#ffffff"/>
<rect y="646.1" width="21" height="2.25" fill="#dae6f0"/>
<rect y="648.3" width="21" height="1.55" fill="#7ea8ca"/>
<rect y="649.8" width="21" height="1.85" fill="#b5cde1"/>
<rect y="651.6" width="21" height="0.45" fill="#b5cde1"/>
<rect y="643.23" width="21" height="0.55" fill="#fff" opacity="0.75"/>
<rect y="648.03" width="21" height="0.55" fill="#fff" opacity="0.75"/>
<rect y="652" width="21" height="22.6" fill="#6b9bc3"/>
<rect y="652" width="21" height="1.55" fill="#588ebc"/>
<rect y="653.5" width="21" height="1.55" fill="#7ea8ca"/>
<rect y="655" width="21" height="1.55" fill="#7ea8ca"/>
<rect y="656.5" width="21" height="2.25" fill="#4682b4"/>
<rect y="658.7" width="21" height="1.55" fill="#7ea8ca"/>
<rect y="660.2" width="21" height="1.25" fill="#6b9bc3"/>
<rect y="661.4" width="21" height="1.25" fill="#6b9bc3"/>
<rect y="662.6" width="21" height="1.85" fill="#7ea8ca"/>
<rect y="664.4" width="21" height="1.55" fill="#4682b4"/>
<rect y="665.9" width="21" height="2.25" fill="#6b9bc3"/>
<rect y="668.1" width="21" height="1.25" fill="#588ebc"/>
<rect y="669.3" width="21" height="1.25" fill="#588ebc"/>
<rect y="670.5" width="21" height="2.65" fill="#4682b4"/>
<rect y="673.1" width="21" height="1.25" fill="#588ebc"/>
<rect y="674.3" width="21" height="0.35" fill="#7ea8ca"/>
<rect y="656.23" width="21" height="0.55" fill="#fff" opacity="0.75"/>
<rect y="658.43" width="21" height="0.55" fill="#fff" opacity="0.75"/>
<rect y="659.93" width="21" height="0.55" fill="#fff" opacity="0.75"/>
<rect y="661.13" width="21" height="0.55" fill="#fff" opacity="0.75"/>
<rect y="662.33" width="21" height="0.55" fill="#fff" opacity="0.75"/>
<rect y="664.13" width="21" height="0.55" fill="#fff" opacity="0.75"/>
<rect y="665.63" width="21" height="0.55" fill="#fff" opacity="0.75"/>
<rect y="670.23" width="21" height="0.55" fill="#fff" opacity="0.75"/>
</g>
<g transform="translate(270.7,0)">
<rect y="353.5" width="21.1" height="71.3" fill="#7ea8ca"/>
<rect y="353.5" width="21.1" height="1.25" fill="#7ea8ca"/>
<rect y="354.7" width="21.1" height="2.25" fill="#90b4d2"/>
<rect y="356.9" width="21.1" height="1.55" fill="#7ea8ca"/>
<rect y="358.4" width="21.1" height="1.55" fill="#6b9bc3"/>
<rect y="359.9" width="21.1" height="2.65" fill="#6b9bc3"/>
<rect y="362.5" width="21.1" height="2.25" fill="#7ea8ca"/>
<rect y="364.7" width="21.1" height="1.55" fill="#7ea8ca"/>
<rect y="366.2" width="21.1" height="1.85" fill="#7ea8ca"/>
<rect y="368" width="21.1" height="1.25" fill="#7ea8ca"/>
<rect y="369.2" width="21.1" height="1.25" fill="#6b9bc3"/>
<rect y="370.4" width="21.1" height="1.25" fill="#90b4d2"/>
<rect y="371.6" width="21.1" height="1.25" fill="#6b9bc3"/>
<rect y="372.8" width="21.1" height="2.25" fill="#6b9bc3"/>
<rect y="375" width="21.1" height="1.85" fill="#6b9bc3"/>
<rect y="376.8" width="21.1" height="1.55" fill="#7ea8ca"/>
<rect y="378.3" width="21.1" height="2.25" fill="#90b4d2"/>
<rect y="380.5" width="21.1" height="1.25" fill="#588ebc"/>
<rect y="381.7" width="21.1" height="2.65" fill="#7ea8ca"/>
<rect y="384.3" width="21.1" height="2.25" fill="#6b9bc3"/>
<rect y="386.5" width="21.1" height="1.55" fill="#7ea8ca"/>
<rect y="388" width="21.1" height="1.25" fill="#6b9bc3"/>
<rect y="389.2" width="21.1" height="1.25" fill="#6b9bc3"/>
<rect y="390.4" width="21.1" height="2.25" fill="#90b4d2"/>
<rect y="392.6" width="21.1" height="1.85" fill="#588ebc"/>
<rect y="394.4" width="21.1" height="2.25" fill="#7ea8ca"/>
<rect y="396.6" width="21.1" height="2.65" fill="#6b9bc3"/>
<rect y="399.2" width="21.1" height="2.25" fill="#6b9bc3"/>
<rect y="401.4" width="21.1" height="1.25" fill="#6b9bc3"/>
<rect y="402.6" width="21.1" height="1.85" fill="#90b4d2"/>
<rect y="404.4" width="21.1" height="2.65" fill="#6b9bc3"/>
<rect y="407" width="21.1" height="1.85" fill="#588ebc"/>
<rect y="408.8" width="21.1" height="2.25" fill="#7ea8ca"/>
<rect y="411" width="21.1" height="2.65" fill="#6b9bc3"/>
<rect y="413.6" width="21.1" height="1.55" fill="#90b4d2"/>
<rect y="415.1" width="21.1" height="1.55" fill="#7ea8ca"/>
<rect y="416.6" width="21.1" height="1.85" fill="#7ea8ca"/>
<rect y="418.4" width="21.1" height="2.25" fill="#7ea8ca"/>
<rect y="420.6" width="21.1" height="1.25" fill="#6b9bc3"/>
<rect y="421.8" width="21.1" height="2.25" fill="#90b4d2"/>
<rect y="424" width="21.1" height="0.85" fill="#6b9bc3"/>
<rect y="354.43" width="21.1" height="0.55" fill="#fff" opacity="0.75"/>
<rect y="356.62" width="21.1" height="0.55" fill="#fff" opacity="0.75"/>
<rect y="362.23" width="21.1" height="0.55" fill="#fff" opacity="0.75"/>
<rect y="367.73" width="21.1" height="0.55" fill="#fff" opacity="0.75"/>
<rect y="368.93" width="21.1" height="0.55" fill="#fff" opacity="0.75"/>
<rect y="370.12" width="21.1" height="0.55" fill="#fff" opacity="0.75"/>
<rect y="371.32" width="21.1" height="0.55" fill="#fff" opacity="0.75"/>
<rect y="372.52" width="21.1" height="0.55" fill="#fff" opacity="0.75"/>
<rect y="376.52" width="21.1" height="0.55" fill="#fff" opacity="0.75"/>
<rect y="378.02" width="21.1" height="0.55" fill="#fff" opacity="0.75"/>
<rect y="381.42" width="21.1" height="0.55" fill="#fff" opacity="0.75"/>
<rect y="392.32" width="21.1" height="0.55" fill="#fff" opacity="0.75"/>
<rect y="394.12" width="21.1" height="0.55" fill="#fff" opacity="0.75"/>
<rect y="396.32" width="21.1" height="0.55" fill="#fff" opacity="0.75"/>
<rect y="401.12" width="21.1" height="0.55" fill="#fff" opacity="0.75"/>
<rect y="404.12" width="21.1" height="0.55" fill="#fff" opacity="0.75"/>
<rect y="413.32" width="21.1" height="0.55" fill="#fff" opacity="0.75"/>
<rect y="414.82" width="21.1" height="0.55" fill="#fff" opacity="0.75"/>
<rect y="416.32" width="21.1" height="0.55" fill="#fff" opacity="0.75"/>
<rect y="420.32" width="21.1" height="0.55" fill="#fff" opacity="0.75"/>
<rect y="423.72" width="21.1" height="0.55" fill="#fff" opacity="0.75"/>
<rect y="424.8" width="21.1" height="12.2" fill="#7ea8ca"/>
<rect y="424.8" width="21.1" height="1.85" fill="#6b9bc3"/>
<rect y="426.6" width="21.1" height="2.65" fill="#6b9bc3"/>
<rect y="429.2" width="21.1" height="2.25" fill="#7ea8ca"/>
<rect y="431.4" width="21.1" height="2.25" fill="#7ea8ca"/>
<rect y="433.6" width="21.1" height="1.55" fill="#6b9bc3"/>
<rect y="435.1" width="21.1" height="1.55" fill="#7ea8ca"/>
<rect y="436.6" width="21.1" height="0.45" fill="#7ea8ca"/>
<rect y="426.33" width="21.1" height="0.55" fill="#fff" opacity="0.75"/>
<rect y="428.93" width="21.1" height="0.55" fill="#fff" opacity="0.75"/>
<rect y="431.13" width="21.1" height="0.55" fill="#fff" opacity="0.75"/>
<rect y="433.33" width="21.1" height="0.55" fill="#fff" opacity="0.75"/>
<rect y="437" width="21.1" height="53.8" fill="#7ea8ca"/>
<rect y="437" width="21.1" height="2.65" fill="#6b9bc3"/>
<rect y="439.6" width="21.1" height="2.25" fill="#6b9bc3"/>
<rect y="441.8" width="21.1" height="2.65" fill="#7ea8ca"/>
<rect y="444.4" width="21.1" height="1.55" fill="#90b4d2"/>
<rect y="445.9" width="21.1" height="2.65" fill="#7ea8ca"/>
<rect y="448.5" width="21.1" height="2.25" fill="#90b4d2"/>
<rect y="450.7" width="21.1" height="2.25" fill="#7ea8ca"/>
<rect y="452.9" width="21.1" height="1.85" fill="#6b9bc3"/>
<rect y="454.7" width="21.1" height="1.85" fill="#90b4d2"/>
<rect y="456.5" width="21.1" height="1.25" fill="#6b9bc3"/>
<rect y="457.7" width="21.1" height="1.85" fill="#90b4d2"/>
<rect y="459.5" width="21.1" height="1.85" fill="#7ea8ca"/>
<rect y="461.3" width="21.1" height="2.25" fill="#7ea8ca"/>
<rect y="463.5" width="21.1" height="2.65" fill="#6b9bc3"/>
<rect y="466.1" width="21.1" height="1.55" fill="#7ea8ca"/>
<rect y="467.6" width="21.1" height="2.25" fill="#7ea8ca"/>
<rect y="469.8" width="21.1" height="2.25" fill="#588ebc"/>
<rect y="472" width="21.1" height="1.25" fill="#7ea8ca"/>
<rect y="473.2" width="21.1" height="2.65" fill="#6b9bc3"/>
<rect y="475.8" width="21.1" height="2.25" fill="#7ea8ca"/>
<rect y="478" width="21.1" height="1.55" fill="#90b4d2"/>
<rect y="479.5" width="21.1" height="2.65" fill="#6b9bc3"/>
<rect y="482.1" width="21.1" height="1.25" fill="#6b9bc3"/>
<rect y="483.3" width="21.1" height="1.25" fill="#588ebc"/>
<rect y="484.5" width="21.1" height="1.85" fill="#588ebc"/>
<rect y="486.3" width="21.1" height="1.25" fill="#6b9bc3"/>
<rect y="487.5" width="21.1" height="1.25" fill="#7ea8ca"/>
<rect y="488.7" width="21.1" height="1.55" fill="#7ea8ca"/>
<rect y="490.2" width="21.1" height="0.65" fill="#588ebc"/>
<rect y="439.33" width="21.1" height="0.55" fill="#fff" opacity="0.75"/>
<rect y="441.53" width="21.1" height="0.55" fill="#fff" opacity="0.75"/>
<rect y="444.13" width="21.1" height="0.55" fill="#fff" opacity="0.75"/>
<rect y="445.63" width="21.1" height="0.55" fill="#fff" opacity="0.75"/>
<rect y="448.23" width="21.1" height="0.55" fill="#fff" opacity="0.75"/>
<rect y="450.43" width="21.1" height="0.55" fill="#fff" opacity="0.75"/>
<rect y="452.63" width="21.1" height="0.55" fill="#fff" opacity="0.75"/>
<rect y="456.23" width="21.1" height="0.55" fill="#fff" opacity="0.75"/>
<rect y="461.03" width="21.1" height="0.55" fill="#fff" opacity="0.75"/>
<rect y="465.83" width="21.1" height="0.55" fill="#fff" opacity="0.75"/>
<rect y="469.53" width="21.1" height="0.55" fill="#fff" opacity="0.75"/>
<rect y="472.93" width="21.1" height="0.55" fill="#fff" opacity="0.75"/>
<rect y="479.23" width="21.1" height="0.55" fill="#fff" opacity="0.75"/>
<rect y="483.03" width="21.1" height="0.55" fill="#fff" opacity="0.75"/>
<rect y="487.23" width="21.1" height="0.55" fill="#fff" opacity="0.75"/>
<rect y="488.43" width="21.1" height="0.55" fill="#fff" opacity="0.75"/>
<rect y="490.8" width="21.1" height="12.4" fill="#7ea8ca"/>
<rect y="490.8" width="21.1" height="1.55" fill="#7ea8ca"/>
<rect y="492.3" width="21.1" height="2.25" fill="#90b4d2"/>
<rect y="494.5" width="21.1" height="2.65" fill="#6b9bc3"/>
<rect y="497.1" width="21.1" height="2.25" fill="#90b4d2"/>
<rect y="499.3" width="21.1" height="1.85" fill="#588ebc"/>
<rect y="501.1" width="21.1" height="1.25" fill="#7ea8ca"/>
<rect y="502.3" width="21.1" height="0.95" fill="#90b4d2"/>
<rect y="496.83" width="21.1" height="0.55" fill="#fff" opacity="0.75"/>
<rect y="499.03" width="21.1" height="0.55" fill="#fff" opacity="0.75"/>
<rect y="500.83" width="21.1" height="0.55" fill="#fff" opacity="0.75"/>
<rect y="502.03" width="21.1" height="0.55" fill="#fff" opacity="0.75"/>
<rect y="503.2" width="21.1" height="49.1" fill="#7ea8ca"/>
<rect y="503.2" width="21.1" height="1.85" fill="#6b9bc3"/>
<rect y="505" width="21.1" height="2.25" fill="#90b4d2"/>
<rect y="507.2" width="21.1" height="2.25" fill="#6b9bc3"/>
<rect y="509.4" width="21.1" height="2.25" fill="#6b9bc3"/>
<rect y="511.6" width="21.1" height="2.65" fill="#7ea8ca"/>
<rect y="514.2" width="21.1" height="2.65" fill="#7ea8ca"/>
<rect y="516.8" width="21.1" height="2.25" fill="#6b9bc3"/>
<rect y="519" width="21.1" height="1.85" fill="#588ebc"/>
<rect y="520.8" width="21.1" height="2.65" fill="#6b9bc3"/>
<rect y="523.4" width="21.1" height="1.25" fill="#588ebc"/>
<rect y="524.6" width="21.1" height="2.65" fill="#7ea8ca"/>
<rect y="527.2" width="21.1" height="2.25" fill="#7ea8ca"/>
<rect y="529.4" width="21.1" height="1.55" fill="#7ea8ca"/>
<rect y="530.9" width="21.1" height="2.25" fill="#588ebc"/>
<rect y="533.1" width="21.1" height="1.55" fill="#90b4d2"/>
<rect y="534.6" width="21.1" height="1.25" fill="#7ea8ca"/>
<rect y="535.8" width="21.1" height="1.25" fill="#7ea8ca"/>
<rect y="537" width="21.1" height="2.65" fill="#6b9bc3"/>
<rect y="539.6" width="21.1" height="1.55" fill="#588ebc"/>
<rect y="541.1" width="21.1" height="1.85" fill="#7ea8ca"/>
<rect y="542.9" width="21.1" height="2.65" fill="#7ea8ca"/>
<rect y="545.5" width="21.1" height="1.55" fill="#6b9bc3"/>
<rect y="547" width="21.1" height="2.25" fill="#90b4d2"/>
<rect y="549.2" width="21.1" height="2.25" fill="#90b4d2"/>
<rect y="551.4" width="21.1" height="0.95" fill="#6b9bc3"/>
<rect y="504.73" width="21.1" height="0.55" fill="#fff" opacity="0.75"/>
<rect y="506.93" width="21.1" height="0.55" fill="#fff" opacity="0.75"/>
<rect y="509.12" width="21.1" height="0.55" fill="#fff" opacity="0.75"/>
<rect y="513.92" width="21.1" height="0.55" fill="#fff" opacity="0.75"/>
<rect y="518.73" width="21.1" height="0.55" fill="#fff" opacity="0.75"/>
<rect y="520.52" width="21.1" height="0.55" fill="#fff" opacity="0.75"/>
<rect y="523.12" width="21.1" height="0.55" fill="#fff" opacity="0.75"/>
<rect y="524.33" width="21.1" height="0.55" fill="#fff" opacity="0.75"/>
<rect y="526.93" width="21.1" height="0.55" fill="#fff" opacity="0.75"/>
<rect y="529.13" width="21.1" height="0.55" fill="#fff" opacity="0.75"/>
<rect y="530.63" width="21.1" height="0.55" fill="#fff" opacity="0.75"/>
<rect y="532.83" width="21.1" height="0.55" fill="#fff" opacity="0.75"/>
<rect y="535.53" width="21.1" height="0.55" fill="#fff" opacity="0.75"/>
<rect y="536.73" width="21.1" height="0.55" fill="#fff" opacity="0.75"/>
<rect y="546.73" width="21.1" height="0.55" fill="#fff" opacity="0.75"/>
<rect y="551.13" width="21.1" height="0.55" fill="#fff" opacity="0.75"/>
<rect y="552.3" width="21.1" height="14.1" fill="#7ea8ca"/>
<rect y="552.3" width="21.1" height="2.25" fill="#6b9bc3"/>
<rect y="554.5" width="21.1" height="1.25" fill="#7ea8ca"/>
<rect y="555.7" width="21.1" height="2.25" fill="#7ea8ca"/>
<rect y="557.9" width="21.1" height="1.55" fill="#90b4d2"/>
<rect y="559.4" width="21.1" height="1.55" fill="#6b9bc3"/>
<rect y="560.9" width="21.1" height="1.85" fill="#6b9bc3"/>
<rect y="562.7" width="21.1" height="1.55" fill="#a2c0da"/>
<rect y="564.2" width="21.1" height="1.25" fill="#7ea8ca"/>
<rect y="565.4" width="21.1" height="1.05" fill="#7ea8ca"/>
<rect y="554.23" width="21.1" height="0.55" fill="#fff" opacity="0.75"/>
<rect y="555.43" width="21.1" height="0.55" fill="#fff" opacity="0.75"/>
<rect y="557.63" width="21.1" height="0.55" fill="#fff" opacity="0.75"/>
<rect y="560.63" width="21.1" height="0.55" fill="#fff" opacity="0.75"/>
<rect y="562.43" width="21.1" height="0.55" fill="#fff" opacity="0.75"/>
<rect y="563.93" width="21.1" height="0.55" fill="#fff" opacity="0.75"/>
<rect y="565.13" width="21.1" height="0.55" fill="#fff" opacity="0.75"/>
<rect y="566.4" width="21.1" height="34.9" fill="#7ea8ca"/>
<rect y="566.4" width="21.1" height="1.25" fill="#7ea8ca"/>
<rect y="567.6" width="21.1" height="1.85" fill="#7ea8ca"/>
<rect y="569.4" width="21.1" height="1.25" fill="#90b4d2"/>
<rect y="570.6" width="21.1" height="1.55" fill="#7ea8ca"/>
<rect y="572.1" width="21.1" height="2.65" fill="#6b9bc3"/>
<rect y="574.7" width="21.1" height="2.25" fill="#7ea8ca"/>
<rect y="576.9" width="21.1" height="1.25" fill="#7ea8ca"/>
<rect y="578.1" width="21.1" height="2.65" fill="#90b4d2"/>
<rect y="580.7" width="21.1" height="1.25" fill="#7ea8ca"/>
<rect y="581.9" width="21.1" height="1.55" fill="#90b4d2"/>
<rect y="583.4" width="21.1" height="1.85" fill="#90b4d2"/>
<rect y="585.2" width="21.1" height="1.85" fill="#7ea8ca"/>
<rect y="587" width="21.1" height="1.55" fill="#7ea8ca"/>
<rect y="588.5" width="21.1" height="2.25" fill="#6b9bc3"/>
<rect y="590.7" width="21.1" height="1.85" fill="#7ea8ca"/>
<rect y="592.5" width="21.1" height="1.85" fill="#6b9bc3"/>
<rect y="594.3" width="21.1" height="2.65" fill="#588ebc"/>
<rect y="596.9" width="21.1" height="1.55" fill="#7ea8ca"/>
<rect y="598.4" width="21.1" height="2.25" fill="#7ea8ca"/>
<rect y="600.6" width="21.1" height="0.75" fill="#7ea8ca"/>
<rect y="567.33" width="21.1" height="0.55" fill="#fff" opacity="0.75"/>
<rect y="574.43" width="21.1" height="0.55" fill="#fff" opacity="0.75"/>
<rect y="577.83" width="21.1" height="0.55" fill="#fff" opacity="0.75"/>
<rect y="580.43" width="21.1" height="0.55" fill="#fff" opacity="0.75"/>
<rect y="586.73" width="21.1" height="0.55" fill="#fff" opacity="0.75"/>
<rect y="588.23" width="21.1" height="0.55" fill="#fff" opacity="0.75"/>
<rect y="590.43" width="21.1" height="0.55" fill="#fff" opacity="0.75"/>
<rect y="596.63" width="21.1" height="0.55" fill="#fff" opacity="0.75"/>
<rect y="601.3" width="21.1" height="16" fill="#7ea8ca"/>
<rect y="601.3" width="21.1" height="1.55" fill="#588ebc"/>
<rect y="602.8" width="21.1" height="1.55" fill="#90b4d2"/>
<rect y="604.3" width="21.1" height="1.25" fill="#6b9bc3"/>
<rect y="605.5" width="21.1" height="2.25" fill="#a2c0da"/>
<rect y="607.7" width="21.1" height="1.85" fill="#a2c0da"/>
<rect y="609.5" width="21.1" height="2.25" fill="#90b4d2"/>
<rect y="611.7" width="21.1" height="2.65" fill="#90b4d2"/>
<rect y="614.3" width="21.1" height="2.65" fill="#90b4d2"/>
<rect y="616.9" width="21.1" height="0.45" fill="#6b9bc3"/>
<rect y="602.52" width="21.1" height="0.55" fill="#fff" opacity="0.75"/>
<rect y="604.02" width="21.1" height="0.55" fill="#fff" opacity="0.75"/>
<rect y="607.43" width="21.1" height="0.55" fill="#fff" opacity="0.75"/>
<rect y="609.23" width="21.1" height="0.55" fill="#fff" opacity="0.75"/>
<rect y="611.43" width="21.1" height="0.55" fill="#fff" opacity="0.75"/>
<rect y="614.03" width="21.1" height="0.55" fill="#fff" opacity="0.75"/>
<rect y="617.3" width="21.1" height="20.7" fill="#7ea8ca"/>
<rect y="617.3" width="21.1" height="1.55" fill="#7ea8ca"/>
<rect y="618.8" width="21.1" height="2.65" fill="#7ea8ca"/>
<rect y="621.4" width="21.1" height="2.65" fill="#7ea8ca"/>
<rect y="624" width="21.1" height="1.25" fill="#a2c0da"/>
<rect y="625.2" width="21.1" height="2.65" fill="#7ea8ca"/>
<rect y="627.8" width="21.1" height="1.55" fill="#7ea8ca"/>
<rect y="629.3" width="21.1" height="1.25" fill="#7ea8ca"/>
<rect y="630.5" width="21.1" height="2.65" fill="#6b9bc3"/>
<rect y="633.1" width="21.1" height="1.25" fill="#7ea8ca"/>
<rect y="634.3" width="21.1" height="1.55" fill="#7ea8ca"/>
<rect y="635.8" width="21.1" height="1.25" fill="#90b4d2"/>
<rect y="637" width="21.1" height="1.05" fill="#4682b4"/>
<rect y="618.52" width="21.1" height="0.55" fill="#fff" opacity="0.75"/>
<rect y="621.12" width="21.1" height="0.55" fill="#fff" opacity="0.75"/>
<rect y="623.73" width="21.1" height="0.55" fill="#fff" opacity="0.75"/>
<rect y="624.93" width="21.1" height="0.55" fill="#fff" opacity="0.75"/>
<rect y="627.53" width="21.1" height="0.55" fill="#fff" opacity="0.75"/>
<rect y="630.23" width="21.1" height="0.55" fill="#fff" opacity="0.75"/>
<rect y="638" width="21.1" height="16.2" fill="#7ea8ca"/>
<rect y="638" width="21.1" height="1.25" fill="#588ebc"/>
<rect y="639.2" width="21.1" height="1.55" fill="#7ea8ca"/>
<rect y="640.7" width="21.1" height="2.25" fill="#6b9bc3"/>
<rect y="642.9" width="21.1" height="1.55" fill="#a2c0da"/>
<rect y="644.4" width="21.1" height="2.25" fill="#7ea8ca"/>
<rect y="646.6" width="21.1" height="1.55" fill="#90b4d2"/>
<rect y="648.1" width="21.1" height="1.85" fill="#90b4d2"/>
<rect y="649.9" width="21.1" height="1.55" fill="#7ea8ca"/>
<rect y="651.4" width="21.1" height="1.25" fill="#90b4d2"/>
<rect y="652.6" width="21.1" height="1.65" fill="#90b4d2"/>
<rect y="638.93" width="21.1" height="0.55" fill="#fff" opacity="0.75"/>
<rect y="644.13" width="21.1" height="0.55" fill="#fff" opacity="0.75"/>
<rect y="646.33" width="21.1" height="0.55" fill="#fff" opacity="0.75"/>
<rect y="647.83" width="21.1" height="0.55" fill="#fff" opacity="0.75"/>
<rect y="651.13" width="21.1" height="0.55" fill="#fff" opacity="0.75"/>
<rect y="654.2" width="21.1" height="20.4" fill="#7ea8ca"/>
<rect y="654.2" width="21.1" height="1.85" fill="#7ea8ca"/>
<rect y="656" width="21.1" height="2.65" fill="#6b9bc3"/>
<rect y="658.6" width="21.1" height="1.85" fill="#6b9bc3"/>
<rect y="660.4" width="21.1" height="1.25" fill="#588ebc"/>
<rect y="661.6" width="21.1" height="2.25" fill="#4682b4"/>
<rect y="663.8" width="21.1" height="2.25" fill="#90b4d2"/>
<rect y="666" width="21.1" height="1.25" fill="#90b4d2"/>
<rect y="667.2" width="21.1" height="2.65" fill="#7ea8ca"/>
<rect y="669.8" width="21.1" height="2.65" fill="#90b4d2"/>
<rect y="672.4" width="21.1" height="2.25" fill="#4682b4"/>
<rect y="672.13" width="21.1" height="0.55" fill="#fff" opacity="0.75"/>
</g>
<g transform="translate(292.6,0)">
<rect y="353.5" width="21.2" height="71.3" fill="#7ea8ca"/>
<rect y="353.5" width="21.2" height="1.25" fill="#7ea8ca"/>
<rect y="354.7" width="21.2" height="1.85" fill="#7ea8ca"/>
<rect y="356.5" width="21.2" height="2.65" fill="#588ebc"/>
<rect y="359.1" width="21.2" height="1.55" fill="#90b4d2"/>
<rect y="360.6" width="21.2" height="1.25" fill="#6b9bc3"/>
<rect y="361.8" width="21.2" height="2.25" fill="#90b4d2"/>
<rect y="364" width="21.2" height="2.25" fill="#6b9bc3"/>
<rect y="366.2" width="21.2" height="1.25" fill="#7ea8ca"/>
<rect y="367.4" width="21.2" height="2.65" fill="#a2c0da"/>
<rect y="370" width="21.2" height="2.25" fill="#7ea8ca"/>
<rect y="372.2" width="21.2" height="1.25" fill="#7ea8ca"/>
<rect y="373.4" width="21.2" height="2.25" fill="#6b9bc3"/>
<rect y="375.6" width="21.2" height="1.85" fill="#90b4d2"/>
<rect y="377.4" width="21.2" height="1.25" fill="#6b9bc3"/>
<rect y="378.6" width="21.2" height="1.85" fill="#a2c0da"/>
<rect y="380.4" width="21.2" height="1.85" fill="#90b4d2"/>
<rect y="382.2" width="21.2" height="2.65" fill="#a2c0da"/>
<rect y="384.8" width="21.2" height="1.25" fill="#7ea8ca"/>
<rect y="386" width="21.2" height="1.55" fill="#a2c0da"/>
<rect y="387.5" width="21.2" height="1.85" fill="#90b4d2"/>
<rect y="389.3" width="21.2" height="2.65" fill="#7ea8ca"/>
<rect y="391.9" width="21.2" height="2.25" fill="#7ea8ca"/>
<rect y="394.1" width="21.2" height="2.65" fill="#90b4d2"/>
<rect y="396.7" width="21.2" height="1.55" fill="#7ea8ca"/>
<rect y="398.2" width="21.2" height="1.25" fill="#7ea8ca"/>
<rect y="399.4" width="21.2" height="2.25" fill="#6b9bc3"/>
<rect y="401.6" width="21.2" height="1.25" fill="#6b9bc3"/>
<rect y="402.8" width="21.2" height="2.65" fill="#7ea8ca"/>
<rect y="405.4" width="21.2" height="1.85" fill="#7ea8ca"/>
<rect y="407.2" width="21.2" height="1.25" fill="#6b9bc3"/>
<rect y="408.4" width="21.2" height="1.85" fill="#7ea8ca"/>
<rect y="410.2" width="21.2" height="2.25" fill="#a2c0da"/>
<rect y="412.4" width="21.2" height="2.25" fill="#6b9bc3"/>
<rect y="414.6" width="21.2" height="1.25" fill="#a2c0da"/>
<rect y="415.8" width="21.2" height="2.65" fill="#90b4d2"/>
<rect y="418.4" width="21.2" height="1.85" fill="#7ea8ca"/>
<rect y="420.2" width="21.2" height="2.25" fill="#588ebc"/>
<rect y="422.4" width="21.2" height="1.85" fill="#7ea8ca"/>
<rect y="424.2" width="21.2" height="0.65" fill="#7ea8ca"/>
<rect y="354.43" width="21.2" height="0.55" fill="#fff" opacity="0.75"/>
<rect y="356.23" width="21.2" height="0.55" fill="#fff" opacity="0.75"/>
<rect y="358.83" width="21.2" height="0.55" fill="#fff" opacity="0.75"/>
<rect y="361.53" width="21.2" height="0.55" fill="#fff" opacity="0.75"/>
<rect y="365.93" width="21.2" height="0.55" fill="#fff" opacity="0.75"/>
<rect y="371.93" width="21.2" height="0.55" fill="#fff" opacity="0.75"/>
<rect y="375.32" width="21.2" height="0.55" fill="#fff" opacity="0.75"/>
<rect y="377.12" width="21.2" height="0.55" fill="#fff" opacity="0.75"/>
<rect y="380.12" width="21.2" height="0.55" fill="#fff" opacity="0.75"/>
<rect y="381.93" width="21.2" height="0.55" fill="#fff" opacity="0.75"/>
<rect y="385.73" width="21.2" height="0.55" fill="#fff" opacity="0.75"/>
<rect y="387.23" width="21.2" height="0.55" fill="#fff" opacity="0.75"/>
<rect y="389.03" width="21.2" height="0.55" fill="#fff" opacity="0.75"/>
<rect y="396.43" width="21.2" height="0.55" fill="#fff" opacity="0.75"/>
<rect y="408.13" width="21.2" height="0.55" fill="#fff" opacity="0.75"/>
<rect y="409.93" width="21.2" height="0.55" fill="#fff" opacity="0.75"/>
<rect y="412.13" width="21.2" height="0.55" fill="#fff" opacity="0.75"/>
<rect y="414.33" width="21.2" height="0.55" fill="#fff" opacity="0.75"/>
<rect y="418.13" width="21.2" height="0.55" fill="#fff" opacity="0.75"/>
<rect y="422.13" width="21.2" height="0.55" fill="#fff" opacity="0.75"/>
<rect y="424.8" width="21.2" height="12.2" fill="#7ea8ca"/>
<rect y="424.8" width="21.2" height="1.55" fill="#90b4d2"/>
<rect y="426.3" width="21.2" height="2.25" fill="#b5cde1"/>
<rect y="428.5" width="21.2" height="2.65" fill="#7ea8ca"/>
<rect y="431.1" width="21.2" height="1.85" fill="#7ea8ca"/>
<rect y="432.9" width="21.2" height="1.25" fill="#588ebc"/>
<rect y="434.1" width="21.2" height="2.25" fill="#a2c0da"/>
<rect y="436.3" width="21.2" height="0.75" fill="#7ea8ca"/>
<rect y="426.03" width="21.2" height="0.55" fill="#fff" opacity="0.75"/>
<rect y="428.23" width="21.2" height="0.55" fill="#fff" opacity="0.75"/>
<rect y="436.03" width="21.2" height="0.55" fill="#fff" opacity="0.75"/>
<rect y="437" width="21.2" height="53.8" fill="#7ea8ca"/>
<rect y="437" width="21.2" height="1.55" fill="#6b9bc3"/>
<rect y="438.5" width="21.2" height="2.25" fill="#90b4d2"/>
<rect y="440.7" width="21.2" height="1.55" fill="#588ebc"/>
<rect y="442.2" width="21.2" height="1.25" fill="#90b4d2"/>
<rect y="443.4" width="21.2" height="1.85" fill="#a2c0da"/>
<rect y="445.2" width="21.2" height="2.65" fill="#7ea8ca"/>
<rect y="447.8" width="21.2" height="1.55" fill="#90b4d2"/>
<rect y="449.3" width="21.2" height="2.25" fill="#7ea8ca"/>
<rect y="451.5" width="21.2" height="1.25" fill="#90b4d2"/>
<rect y="452.7" width="21.2" height="1.85" fill="#6b9bc3"/>
<rect y="454.5" width="21.2" height="1.85" fill="#90b4d2"/>
<rect y="456.3" width="21.2" height="2.65" fill="#588ebc"/>
<rect y="458.9" width="21.2" height="1.85" fill="#90b4d2"/>
<rect y="460.7" width="21.2" height="1.85" fill="#7ea8ca"/>
<rect y="462.5" width="21.2" height="2.25" fill="#6b9bc3"/>
<rect y="464.7" width="21.2" height="1.85" fill="#6b9bc3"/>
<rect y="466.5" width="21.2" height="1.85" fill="#90b4d2"/>
<rect y="468.3" width="21.2" height="1.25" fill="#7ea8ca"/>
<rect y="469.5" width="21.2" height="2.65" fill="#a2c0da"/>
<rect y="472.1" width="21.2" height="2.65" fill="#90b4d2"/>
<rect y="474.7" width="21.2" height="1.25" fill="#7ea8ca"/>
<rect y="475.9" width="21.2" height="1.25" fill="#7ea8ca"/>
<rect y="477.1" width="21.2" height="1.25" fill="#6b9bc3"/>
<rect y="478.3" width="21.2" height="1.55" fill="#588ebc"/>
<rect y="479.8" width="21.2" height="1.25" fill="#588ebc"/>
<rect y="481" width="21.2" height="2.25" fill="#90b4d2"/>
<rect y="483.2" width="21.2" height="2.25" fill="#6b9bc3"/>
<rect y="485.4" width="21.2" height="1.85" fill="#7ea8ca"/>
<rect y="487.2" width="21.2" height="2.65" fill="#90b4d2"/>
<rect y="489.8" width="21.2" height="1.05" fill="#6b9bc3"/>
<rect y="440.43" width="21.2" height="0.55" fill="#fff" opacity="0.75"/>
<rect y="441.93" width="21.2" height="0.55" fill="#fff" opacity="0.75"/>
<rect y="443.12" width="21.2" height="0.55" fill="#fff" opacity="0.75"/>
<rect y="449.03" width="21.2" height="0.55" fill="#fff" opacity="0.75"/>
<rect y="451.23" width="21.2" height="0.55" fill="#fff" opacity="0.75"/>
<rect y="456.03" width="21.2" height="0.55" fill="#fff" opacity="0.75"/>
<rect y="460.43" width="21.2" height="0.55" fill="#fff" opacity="0.75"/>
<rect y="466.23" width="21.2" height="0.55" fill="#fff" opacity="0.75"/>
<rect y="469.23" width="21.2" height="0.55" fill="#fff" opacity="0.75"/>
<rect y="471.83" width="21.2" height="0.55" fill="#fff" opacity="0.75"/>
<rect y="474.43" width="21.2" height="0.55" fill="#fff" opacity="0.75"/>
<rect y="476.83" width="21.2" height="0.55" fill="#fff" opacity="0.75"/>
<rect y="485.13" width="21.2" height="0.55" fill="#fff" opacity="0.75"/>
<rect y="490.8" width="21.2" height="12.4" fill="#7ea8ca"/>
<rect y="490.8" width="21.2" height="1.55" fill="#588ebc"/>
<rect y="492.3" width="21.2" height="1.25" fill="#90b4d2"/>
<rect y="493.5" width="21.2" height="2.65" fill="#7ea8ca"/>
<rect y="496.1" width="21.2" height="2.65" fill="#7ea8ca"/>
<rect y="498.7" width="21.2" height="1.55" fill="#90b4d2"/>
<rect y="500.2" width="21.2" height="1.55" fill="#588ebc"/>
<rect y="501.7" width="21.2" height="1.55" fill="#7ea8ca"/>
<rect y="492.03" width="21.2" height="0.55" fill="#fff" opacity="0.75"/>
<rect y="493.23" width="21.2" height="0.55" fill="#fff" opacity="0.75"/>
<rect y="499.93" width="21.2" height="0.55" fill="#fff" opacity="0.75"/>
<rect y="503.2" width="21.2" height="49.1" fill="#7ea8ca"/>
<rect y="503.2" width="21.2" height="1.85" fill="#90b4d2"/>
<rect y="505" width="21.2" height="2.65" fill="#90b4d2"/>
<rect y="507.6" width="21.2" height="1.25" fill="#7ea8ca"/>
<rect y="508.8" width="21.2" height="2.65" fill="#6b9bc3"/>
<rect y="511.4" width="21.2" height="1.55" fill="#7ea8ca"/>
<rect y="512.9" width="21.2" height="1.25" fill="#90b4d2"/>
<rect y="514.1" width="21.2" height="2.65" fill="#a2c0da"/>
<rect y="516.7" width="21.2" height="1.25" fill="#90b4d2"/>
<rect y="517.9" width="21.2" height="1.55" fill="#6b9bc3"/>
<rect y="519.4" width="21.2" height="2.65" fill="#7ea8ca"/>
<rect y="522" width="21.2" height="1.25" fill="#a2c0da"/>
<rect y="523.2" width="21.2" height="1.55" fill="#90b4d2"/>
<rect y="524.7" width="21.2" height="1.85" fill="#90b4d2"/>
<rect y="526.5" width="21.2" height="2.65" fill="#7ea8ca"/>
<rect y="529.1" width="21.2" height="1.55" fill="#7ea8ca"/>
<rect y="530.6" width="21.2" height="1.25" fill="#b5cde1"/>
<rect y="531.8" width="21.2" height="1.55" fill="#90b4d2"/>
<rect y="533.3" width="21.2" height="1.25" fill="#7ea8ca"/>
<rect y="534.5" width="21.2" height="1.85" fill="#7ea8ca"/>
<rect y="536.3" width="21.2" height="2.65" fill="#6b9bc3"/>
<rect y="538.9" width="21.2" height="2.25" fill="#7ea8ca"/>
<rect y="541.1" width="21.2" height="1.85" fill="#a2c0da"/>
<rect y="542.9" width="21.2" height="1.85" fill="#7ea8ca"/>
<rect y="544.7" width="21.2" height="2.65" fill="#6b9bc3"/>
<rect y="547.3" width="21.2" height="2.25" fill="#a2c0da"/>
<rect y="549.5" width="21.2" height="1.55" fill="#7ea8ca"/>
<rect y="551" width="21.2" height="1.35" fill="#90b4d2"/>
<rect y="508.53" width="21.2" height="0.55" fill="#fff" opacity="0.75"/>
<rect y="511.13" width="21.2" height="0.55" fill="#fff" opacity="0.75"/>
<rect y="513.83" width="21.2" height="0.55" fill="#fff" opacity="0.75"/>
<rect y="516.43" width="21.2" height="0.55" fill="#fff" opacity="0.75"/>
<rect y="517.63" width="21.2" height="0.55" fill="#fff" opacity="0.75"/>
<rect y="522.93" width="21.2" height="0.55" fill="#fff" opacity="0.75"/>
<rect y="524.43" width="21.2" height="0.55" fill="#fff" opacity="0.75"/>
<rect y="526.23" width="21.2" height="0.55" fill="#fff" opacity="0.75"/>
<rect y="531.53" width="21.2" height="0.55" fill="#fff" opacity="0.75"/>
<rect y="533.03" width="21.2" height="0.55" fill="#fff" opacity="0.75"/>
<rect y="536.03" width="21.2" height="0.55" fill="#fff" opacity="0.75"/>
<rect y="547.03" width="21.2" height="0.55" fill="#fff" opacity="0.75"/>
<rect y="550.73" width="21.2" height="0.55" fill="#fff" opacity="0.75"/>
<rect y="552.3" width="21.2" height="14.1" fill="#7ea8ca"/>
<rect y="552.3" width="21.2" height="1.55" fill="#90b4d2"/>
<rect y="553.8" width="21.2" height="2.65" fill="#a2c0da"/>
<rect y="556.4" width="21.2" height="1.55" fill="#90b4d2"/>
<rect y="557.9" width="21.2" height="1.55" fill="#6b9bc3"/>
<rect y="559.4" width="21.2" height="1.25" fill="#7ea8ca"/>
<rect y="560.6" width="21.2" height="2.65" fill="#7ea8ca"/>
<rect y="563.2" width="21.2" height="1.25" fill="#7ea8ca"/>
<rect y="564.4" width="21.2" height="2.05" fill="#7ea8ca"/>
<rect y="553.52" width="21.2" height="0.55" fill="#fff" opacity="0.75"/>
<rect y="562.93" width="21.2" height="0.55" fill="#fff" opacity="0.75"/>
<rect y="566.4" width="21.2" height="34.9" fill="#7ea8ca"/>
<rect y="566.4" width="21.2" height="1.55" fill="#90b4d2"/>
<rect y="567.9" width="21.2" height="1.85" fill="#90b4d2"/>
<rect y="569.7" width="21.2" height="1.55" fill="#7ea8ca"/>
<rect y="571.2" width="21.2" height="2.25" fill="#a2c0da"/>
<rect y="573.4" width="21.2" height="1.25" fill="#6b9bc3"/>
<rect y="574.6" width="21.2" height="1.55" fill="#6b9bc3"/>
<rect y="576.1" width="21.2" height="1.25" fill="#a2c0da"/>
<rect y="577.3" width="21.2" height="1.85" fill="#588ebc"/>
<rect y="579.1" width="21.2" height="1.25" fill="#7ea8ca"/>
<rect y="580.3" width="21.2" height="1.85" fill="#6b9bc3"/>
<rect y="582.1" width="21.2" height="1.25" fill="#7ea8ca"/>
<rect y="583.3" width="21.2" height="1.55" fill="#6b9bc3"/>
<rect y="584.8" width="21.2" height="2.25" fill="#588ebc"/>
<rect y="587" width="21.2" height="2.25" fill="#90b4d2"/>
<rect y="589.2" width="21.2" height="1.55" fill="#a2c0da"/>
<rect y="590.7" width="21.2" height="1.55" fill="#7ea8ca"/>
<rect y="592.2" width="21.2" height="1.25" fill="#6b9bc3"/>
<rect y="593.4" width="21.2" height="1.25" fill="#7ea8ca"/>
<rect y="594.6" width="21.2" height="1.85" fill="#90b4d2"/>
<rect y="596.4" width="21.2" height="2.65" fill="#90b4d2"/>
<rect y="599" width="21.2" height="1.55" fill="#6b9bc3"/>
<rect y="600.5" width="21.2" height="0.85" fill="#90b4d2"/>
<rect y="569.42" width="21.2" height="0.55" fill="#fff" opacity="0.75"/>
<rect y="573.12" width="21.2" height="0.55" fill="#fff" opacity="0.75"/>
<rect y="574.33" width="21.2" height="0.55" fill="#fff" opacity="0.75"/>
<rect y="575.83" width="21.2" height="0.55" fill="#fff" opacity="0.75"/>
<rect y="578.83" width="21.2" height="0.55" fill="#fff" opacity="0.75"/>
<rect y="580.03" width="21.2" height="0.55" fill="#fff" opacity="0.75"/>
<rect y="581.83" width="21.2" height="0.55" fill="#fff" opacity="0.75"/>
<rect y="588.93" width="21.2" height="0.55" fill="#fff" opacity="0.75"/>
<rect y="590.43" width="21.2" height="0.55" fill="#fff" opacity="0.75"/>
<rect y="591.93" width="21.2" height="0.55" fill="#fff" opacity="0.75"/>
<rect y="593.13" width="21.2" height="0.55" fill="#fff" opacity="0.75"/>
<rect y="596.13" width="21.2" height="0.55" fill="#fff" opacity="0.75"/>
<rect y="600.23" width="21.2" height="0.55" fill="#fff" opacity="0.75"/>
<rect y="601.3" width="21.2" height="16" fill="#7ea8ca"/>
<rect y="601.3" width="21.2" height="1.25" fill="#7ea8ca"/>
<rect y="602.5" width="21.2" height="1.55" fill="#90b4d2"/>
<rect y="604" width="21.2" height="2.25" fill="#7ea8ca"/>
<rect y="606.2" width="21.2" height="2.65" fill="#7ea8ca"/>
<rect y="608.8" width="21.2" height="2.25" fill="#7ea8ca"/>
<rect y="611" width="21.2" height="1.55" fill="#7ea8ca"/>
<rect y="612.5" width="21.2" height="2.65" fill="#6b9bc3"/>
<rect y="615.1" width="21.2" height="2.25" fill="#7ea8ca"/>
<rect y="602.23" width="21.2" height="0.55" fill="#fff" opacity="0.75"/>
<rect y="608.53" width="21.2" height="0.55" fill="#fff" opacity="0.75"/>
<rect y="614.83" width="21.2" height="0.55" fill="#fff" opacity="0.75"/>
<rect y="617.3" width="21.2" height="20.7" fill="#7ea8ca"/>
<rect y="617.3" width="21.2" height="1.55" fill="#7ea8ca"/>
<rect y="618.8" width="21.2" height="1.55" fill="#90b4d2"/>
<rect y="620.3" width="21.2" height="1.55" fill="#7ea8ca"/>
<rect y="621.8" width="21.2" height="1.25" fill="#7ea8ca"/>
<rect y="623" width="21.2" height="1.25" fill="#a2c0da"/>
<rect y="624.2" width="21.2" height="1.25" fill="#588ebc"/>
<rect y="625.4" width="21.2" height="1.25" fill="#a2c0da"/>
<rect y="626.6" width="21.2" height="2.65" fill="#90b4d2"/>
<rect y="629.2" width="21.2" height="1.25" fill="#7ea8ca"/>
<rect y="630.4" width="21.2" height="1.25" fill="#7ea8ca"/>
<rect y="631.6" width="21.2" height="1.55" fill="#588ebc"/>
<rect y="633.1" width="21.2" height="1.55" fill="#6b9bc3"/>
<rect y="634.6" width="21.2" height="2.25" fill="#6b9bc3"/>
<rect y="636.8" width="21.2" height="1.25" fill="#7ea8ca"/>
<rect y="622.73" width="21.2" height="0.55" fill="#fff" opacity="0.75"/>
<rect y="623.93" width="21.2" height="0.55" fill="#fff" opacity="0.75"/>
<rect y="628.93" width="21.2" height="0.55" fill="#fff" opacity="0.75"/>
<rect y="630.13" width="21.2" height="0.55" fill="#fff" opacity="0.75"/>
<rect y="631.33" width="21.2" height="0.55" fill="#fff" opacity="0.75"/>
<rect y="634.33" width="21.2" height="0.55" fill="#fff" opacity="0.75"/>
<rect y="638" width="21.2" height="16.2" fill="#7ea8ca"/>
<rect y="638" width="21.2" height="1.25" fill="#90b4d2"/>
<rect y="639.2" width="21.2" height="2.65" fill="#6b9bc3"/>
<rect y="641.8" width="21.2" height="1.25" fill="#6b9bc3"/>
<rect y="643" width="21.2" height="2.65" fill="#7ea8ca"/>
<rect y="645.6" width="21.2" height="1.55" fill="#90b4d2"/>
<rect y="647.1" width="21.2" height="2.65" fill="#90b4d2"/>
<rect y="649.7" width="21.2" height="1.55" fill="#6b9bc3"/>
<rect y="651.2" width="21.2" height="1.25" fill="#7ea8ca"/>
<rect y="652.4" width="21.2" height="1.25" fill="#7ea8ca"/>
<rect y="653.6" width="21.2" height="0.65" fill="#7ea8ca"/>
<rect y="638.93" width="21.2" height="0.55" fill="#fff" opacity="0.75"/>
<rect y="641.53" width="21.2" height="0.55" fill="#fff" opacity="0.75"/>
<rect y="645.33" width="21.2" height="0.55" fill="#fff" opacity="0.75"/>
<rect y="646.83" width="21.2" height="0.55" fill="#fff" opacity="0.75"/>
<rect y="649.43" width="21.2" height="0.55" fill="#fff" opacity="0.75"/>
<rect y="652.13" width="21.2" height="0.55" fill="#fff" opacity="0.75"/>
<rect y="654.2" width="21.2" height="20.4" fill="#7ea8ca"/>
<rect y="654.2" width="21.2" height="1.25" fill="#588ebc"/>
<rect y="655.4" width="21.2" height="1.85" fill="#7ea8ca"/>
<rect y="657.2" width="21.2" height="2.65" fill="#a2c0da"/>
<rect y="659.8" width="21.2" height="1.85" fill="#7ea8ca"/>
<rect y="661.6" width="21.2" height="1.25" fill="#7ea8ca"/>
<rect y="662.8" width="21.2" height="2.65" fill="#7ea8ca"/>
<rect y="665.4" width="21.2" height="2.65" fill="#90b4d2"/>
<rect y="668" width="21.2" height="1.55" fill="#a2c0da"/>
<rect y="669.5" width="21.2" height="1.25" fill="#6b9bc3"/>
<rect y="670.7" width="21.2" height="1.25" fill="#7ea8ca"/>
<rect y="671.9" width="21.2" height="1.25" fill="#7ea8ca"/>
<rect y="673.1" width="21.2" height="1.55" fill="#6b9bc3"/>
<rect y="655.13" width="21.2" height="0.55" fill="#fff" opacity="0.75"/>
<rect y="656.93" width="21.2" height="0.55" fill="#fff" opacity="0.75"/>
<rect y="661.33" width="21.2" height="0.55" fill="#fff" opacity="0.75"/>
<rect y="672.83" width="21.2" height="0.55" fill="#fff" opacity="0.75"/>
</g>
<g transform="translate(314.6,0)">
<rect y="353.5" width="21.6" height="71.3" fill="#ecf2f8"/>
<rect y="353.5" width="21.6" height="1.85" fill="#ffffff"/>
<rect y="355.3" width="21.6" height="1.85" fill="#ffffff"/>
<rect y="357.1" width="21.6" height="1.55" fill="#ecf2f8"/>
<rect y="358.6" width="21.6" height="2.25" fill="#ecf2f8"/>
<rect y="360.8" width="21.6" height="1.85" fill="#b5cde1"/>
<rect y="362.6" width="21.6" height="1.55" fill="#ffe6e6"/>
<rect y="364.1" width="21.6" height="2.65" fill="#ecf2f8"/>
<rect y="366.7" width="21.6" height="1.85" fill="#ffcccc"/>
<rect y="368.5" width="21.6" height="1.85" fill="#ecf2f8"/>
<rect y="370.3" width="21.6" height="2.65" fill="#ecf2f8"/>
<rect y="372.9" width="21.6" height="2.25" fill="#ecf2f8"/>
<rect y="375.1" width="21.6" height="1.85" fill="#ffffff"/>
<rect y="376.9" width="21.6" height="1.55" fill="#ecf2f8"/>
<rect y="378.4" width="21.6" height="2.65" fill="#ecf2f8"/>
<rect y="381" width="21.6" height="2.65" fill="#ffcccc"/>
<rect y="383.6" width="21.6" height="1.25" fill="#dae6f0"/>
<rect y="384.8" width="21.6" height="1.25" fill="#dae6f0"/>
<rect y="386" width="21.6" height="2.25" fill="#dae6f0"/>
<rect y="388.2" width="21.6" height="2.25" fill="#90b4d2"/>
<rect y="390.4" width="21.6" height="1.55" fill="#dae6f0"/>
<rect y="391.9" width="21.6" height="1.55" fill="#b5cde1"/>
<rect y="393.4" width="21.6" height="1.25" fill="#ffe6e6"/>
<rect y="394.6" width="21.6" height="2.65" fill="#ffe6e6"/>
<rect y="397.2" width="21.6" height="2.65" fill="#ecf2f8"/>
<rect y="399.8" width="21.6" height="2.25" fill="#ecf2f8"/>
<rect y="402" width="21.6" height="1.25" fill="#ecf2f8"/>
<rect y="403.2" width="21.6" height="1.25" fill="#c8dae8"/>
<rect y="404.4" width="21.6" height="1.25" fill="#dae6f0"/>
<rect y="405.6" width="21.6" height="1.85" fill="#c8dae8"/>
<rect y="407.4" width="21.6" height="2.25" fill="#ecf2f8"/>
<rect y="409.6" width="21.6" height="2.25" fill="#ecf2f8"/>
<rect y="411.8" width="21.6" height="1.55" fill="#b5cde1"/>
<rect y="413.3" width="21.6" height="2.25" fill="#ffffff"/>
<rect y="415.5" width="21.6" height="1.55" fill="#ffcccc"/>
<rect y="417" width="21.6" height="1.55" fill="#ecf2f8"/>
<rect y="418.5" width="21.6" height="1.85" fill="#ecf2f8"/>
<rect y="420.3" width="21.6" height="1.25" fill="#ecf2f8"/>
<rect y="421.5" width="21.6" height="2.65" fill="#dae6f0"/>
<rect y="424.1" width="21.6" height="0.75" fill="#ffffff"/>
<rect y="356.83" width="21.6" height="0.55" fill="#fff" opacity="0.75"/>
<rect y="362.33" width="21.6" height="0.55" fill="#fff" opacity="0.75"/>
<rect y="363.83" width="21.6" height="0.55" fill="#fff" opacity="0.75"/>
<rect y="368.23" width="21.6" height="0.55" fill="#fff" opacity="0.75"/>
<rect y="376.63" width="21.6" height="0.55" fill="#fff" opacity="0.75"/>
<rect y="378.13" width="21.6" height="0.55" fill="#fff" opacity="0.75"/>
<rect y="387.93" width="21.6" height="0.55" fill="#fff" opacity="0.75"/>
<rect y="393.13" width="21.6" height="0.55" fill="#fff" opacity="0.75"/>
<rect y="399.53" width="21.6" height="0.55" fill="#fff" opacity="0.75"/>
<rect y="401.73" width="21.6" height="0.55" fill="#fff" opacity="0.75"/>
<rect y="402.93" width="21.6" height="0.55" fill="#fff" opacity="0.75"/>
<rect y="404.13" width="21.6" height="0.55" fill="#fff" opacity="0.75"/>
<rect y="405.33" width="21.6" height="0.55" fill="#fff" opacity="0.75"/>
<rect y="409.33" width="21.6" height="0.55" fill="#fff" opacity="0.75"/>
<rect y="413.03" width="21.6" height="0.55" fill="#fff" opacity="0.75"/>
<rect y="415.23" width="21.6" height="0.55" fill="#fff" opacity="0.75"/>
<rect y="416.73" width="21.6" height="0.55" fill="#fff" opacity="0.75"/>
<rect y="420.03" width="21.6" height="0.55" fill="#fff" opacity="0.75"/>
<rect y="421.23" width="21.6" height="0.55" fill="#fff" opacity="0.75"/>
<rect y="423.83" width="21.6" height="0.55" fill="#fff" opacity="0.75"/>
<rect y="424.8" width="21.6" height="12.2" fill="#ecf2f8"/>
<rect y="424.8" width="21.6" height="1.25" fill="#ecf2f8"/>
<rect y="426" width="21.6" height="1.25" fill="#dae6f0"/>
<rect y="427.2" width="21.6" height="1.55" fill="#ffffff"/>
<rect y="428.7" width="21.6" height="1.55" fill="#ecf2f8"/>
<rect y="430.2" width="21.6" height="1.85" fill="#c8dae8"/>
<rect y="432" width="21.6" height="1.85" fill="#ffffff"/>
<rect y="433.8" width="21.6" height="1.55" fill="#dae6f0"/>
<rect y="435.3" width="21.6" height="1.55" fill="#ecf2f8"/>
<rect y="436.8" width="21.6" height="0.25" fill="#ecf2f8"/>
<rect y="425.73" width="21.6" height="0.55" fill="#fff" opacity="0.75"/>
<rect y="428.43" width="21.6" height="0.55" fill="#fff" opacity="0.75"/>
<rect y="431.73" width="21.6" height="0.55" fill="#fff" opacity="0.75"/>
<rect y="433.53" width="21.6" height="0.55" fill="#fff" opacity="0.75"/>
<rect y="435.03" width="21.6" height="0.55" fill="#fff" opacity="0.75"/>
<rect y="437" width="21.6" height="53.8" fill="#ecf2f8"/>
<rect y="437" width="21.6" height="1.25" fill="#a2c0da"/>
<rect y="438.2" width="21.6" height="1.55" fill="#ffe6e6"/>
<rect y="439.7" width="21.6" height="1.55" fill="#c8dae8"/>
<rect y="441.2" width="21.6" height="2.25" fill="#ecf2f8"/>
<rect y="443.4" width="21.6" height="2.25" fill="#ecf2f8"/>
<rect y="445.6" width="21.6" height="1.55" fill="#dae6f0"/>
<rect y="447.1" width="21.6" height="1.25" fill="#ffe6e6"/>
<rect y="448.3" width="21.6" height="2.25" fill="#ecf2f8"/>
<rect y="450.5" width="21.6" height="1.55" fill="#ecf2f8"/>
<rect y="452" width="21.6" height="2.25" fill="#dae6f0"/>
<rect y="454.2" width="21.6" height="1.85" fill="#ecf2f8"/>
<rect y="456" width="21.6" height="1.55" fill="#ffe6e6"/>
<rect y="457.5" width="21.6" height="1.55" fill="#dae6f0"/>
<rect y="459" width="21.6" height="1.55" fill="#b5cde1"/>
<rect y="460.5" width="21.6" height="2.25" fill="#dae6f0"/>
<rect y="462.7" width="21.6" height="2.25" fill="#dae6f0"/>
<rect y="464.9" width="21.6" height="1.85" fill="#ecf2f8"/>
<rect y="466.7" width="21.6" height="1.25" fill="#c8dae8"/>
<rect y="467.9" width="21.6" height="1.55" fill="#ecf2f8"/>
<rect y="469.4" width="21.6" height="2.25" fill="#dae6f0"/>
<rect y="471.6" width="21.6" height="1.85" fill="#dae6f0"/>
<rect y="473.4" width="21.6" height="2.25" fill="#dae6f0"/>
<rect y="475.6" width="21.6" height="2.65" fill="#ecf2f8"/>
<rect y="478.2" width="21.6" height="2.25" fill="#ecf2f8"/>
<rect y="480.4" width="21.6" height="2.25" fill="#dae6f0"/>
<rect y="482.6" width="21.6" height="1.55" fill="#dae6f0"/>
<rect y="484.1" width="21.6" height="1.85" fill="#dae6f0"/>
<rect y="485.9" width="21.6" height="1.85" fill="#dae6f0"/>
<rect y="487.7" width="21.6" height="1.25" fill="#c8dae8"/>
<rect y="488.9" width="21.6" height="1.25" fill="#b5cde1"/>
<rect y="490.1" width="21.6" height="0.75" fill="#ffffff"/>
<rect y="437.93" width="21.6" height="0.55" fill="#fff" opacity="0.75"/>
<rect y="443.12" width="21.6" height="0.55" fill="#fff" opacity="0.75"/>
<rect y="446.82" width="21.6" height="0.55" fill="#fff" opacity="0.75"/>
<rect y="448.02" width="21.6" height="0.55" fill="#fff" opacity="0.75"/>
<rect y="450.22" width="21.6" height="0.55" fill="#fff" opacity="0.75"/>
<rect y="453.92" width="21.6" height="0.55" fill="#fff" opacity="0.75"/>
<rect y="455.72" width="21.6" height="0.55" fill="#fff" opacity="0.75"/>
<rect y="457.22" width="21.6" height="0.55" fill="#fff" opacity="0.75"/>
<rect y="458.72" width="21.6" height="0.55" fill="#fff" opacity="0.75"/>
<rect y="462.42" width="21.6" height="0.55" fill="#fff" opacity="0.75"/>
<rect y="464.62" width="21.6" height="0.55" fill="#fff" opacity="0.75"/>
<rect y="466.42" width="21.6" height="0.55" fill="#fff" opacity="0.75"/>
<rect y="469.12" width="21.6" height="0.55" fill="#fff" opacity="0.75"/>
<rect y="471.32" width="21.6" height="0.55" fill="#fff" opacity="0.75"/>
<rect y="473.12" width="21.6" height="0.55" fill="#fff" opacity="0.75"/>
<rect y="475.32" width="21.6" height="0.55" fill="#fff" opacity="0.75"/>
<rect y="489.82" width="21.6" height="0.55" fill="#fff" opacity="0.75"/>
<rect y="490.8" width="21.6" height="12.4" fill="#ecf2f8"/>
<rect y="490.8" width="21.6" height="1.55" fill="#dae6f0"/>
<rect y="492.3" width="21.6" height="1.25" fill="#ffffff"/>
<rect y="493.5" width="21.6" height="1.55" fill="#ffcccc"/>
<rect y="495" width="21.6" height="2.25" fill="#ecf2f8"/>
<rect y="497.2" width="21.6" height="2.25" fill="#dae6f0"/>
<rect y="499.4" width="21.6" height="1.55" fill="#dae6f0"/>
<rect y="500.9" width="21.6" height="1.55" fill="#dae6f0"/>
<rect y="502.4" width="21.6" height="0.85" fill="#ffe6e6"/>
<rect y="492.03" width="21.6" height="0.55" fill="#fff" opacity="0.75"/>
<rect y="493.23" width="21.6" height="0.55" fill="#fff" opacity="0.75"/>
<rect y="494.73" width="21.6" height="0.55" fill="#fff" opacity="0.75"/>
<rect y="496.93" width="21.6" height="0.55" fill="#fff" opacity="0.75"/>
<rect y="502.12" width="21.6" height="0.55" fill="#fff" opacity="0.75"/>
<rect y="503.2" width="21.6" height="49.1" fill="#ecf2f8"/>
<rect y="503.2" width="21.6" height="1.25" fill="#dae6f0"/>
<rect y="504.4" width="21.6" height="1.25" fill="#ffffff"/>
<rect y="505.6" width="21.6" height="1.55" fill="#ecf2f8"/>
<rect y="507.1" width="21.6" height="1.85" fill="#ffcccc"/>
<rect y="508.9" width="21.6" height="2.25" fill="#c8dae8"/>
<rect y="511.1" width="21.6" height="1.55" fill="#dae6f0"/>
<rect y="512.6" width="21.6" height="1.85" fill="#ffffff"/>
<rect y="514.4" width="21.6" height="2.65" fill="#ecf2f8"/>
<rect y="517" width="21.6" height="1.85" fill="#ecf2f8"/>
<rect y="518.8" width="21.6" height="1.55" fill="#dae6f0"/>
<rect y="520.3" width="21.6" height="2.25" fill="#ecf2f8"/>
<rect y="522.5" width="21.6" height="1.55" fill="#dae6f0"/>
<rect y="524" width="21.6" height="1.85" fill="#ffe6e6"/>
<rect y="525.8" width="21.6" height="2.25" fill="#dae6f0"/>
<rect y="528" width="21.6" height="1.25" fill="#ffcccc"/>
<rect y="529.2" width="21.6" height="1.55" fill="#dae6f0"/>
<rect y="530.7" width="21.6" height="2.25" fill="#ffffff"/>
<rect y="532.9" width="21.6" height="2.65" fill="#ffffff"/>
<rect y="535.5" width="21.6" height="2.25" fill="#ecf2f8"/>
<rect y="537.7" width="21.6" height="1.85" fill="#ffe6e6"/>
<rect y="539.5" width="21.6" height="2.65" fill="#ecf2f8"/>
<rect y="542.1" width="21.6" height="2.65" fill="#ecf2f8"/>
<rect y="544.7" width="21.6" height="1.85" fill="#dae6f0"/>
<rect y="546.5" width="21.6" height="1.85" fill="#dae6f0"/>
<rect y="548.3" width="21.6" height="1.25" fill="#ecf2f8"/>
<rect y="549.5" width="21.6" height="1.55" fill="#dae6f0"/>
<rect y="551" width="21.6" height="1.25" fill="#c8dae8"/>
<rect y="552.2" width="21.6" height="0.15" fill="#ecf2f8"/>
<rect y="506.82" width="21.6" height="0.55" fill="#fff" opacity="0.75"/>
<rect y="510.82" width="21.6" height="0.55" fill="#fff" opacity="0.75"/>
<rect y="514.12" width="21.6" height="0.55" fill="#fff" opacity="0.75"/>
<rect y="516.72" width="21.6" height="0.55" fill="#fff" opacity="0.75"/>
<rect y="518.52" width="21.6" height="0.55" fill="#fff" opacity="0.75"/>
<rect y="520.02" width="21.6" height="0.55" fill="#fff" opacity="0.75"/>
<rect y="525.52" width="21.6" height="0.55" fill="#fff" opacity="0.75"/>
<rect y="528.92" width="21.6" height="0.55" fill="#fff" opacity="0.75"/>
<rect y="532.62" width="21.6" height="0.55" fill="#fff" opacity="0.75"/>
<rect y="544.43" width="21.6" height="0.55" fill="#fff" opacity="0.75"/>
<rect y="552.3" width="21.6" height="14.1" fill="#ecf2f8"/>
<rect y="552.3" width="21.6" height="2.25" fill="#ffe6e6"/>
<rect y="554.5" width="21.6" height="2.25" fill="#dae6f0"/>
<rect y="556.7" width="21.6" height="1.55" fill="#dae6f0"/>
<rect y="558.2" width="21.6" height="1.55" fill="#dae6f0"/>
<rect y="559.7" width="21.6" height="1.85" fill="#dae6f0"/>
<rect y="561.5" width="21.6" height="1.55" fill="#ffffff"/>
<rect y="563" width="21.6" height="1.85" fill="#ffffff"/>
<rect y="564.8" width="21.6" height="1.65" fill="#ffffff"/>
<rect y="554.23" width="21.6" height="0.55" fill="#fff" opacity="0.75"/>
<rect y="556.43" width="21.6" height="0.55" fill="#fff" opacity="0.75"/>
<rect y="557.93" width="21.6" height="0.55" fill="#fff" opacity="0.75"/>
<rect y="559.43" width="21.6" height="0.55" fill="#fff" opacity="0.75"/>
<rect y="561.23" width="21.6" height="0.55" fill="#fff" opacity="0.75"/>
<rect y="566.4" width="21.6" height="34.9" fill="#ecf2f8"/>
<rect y="566.4" width="21.6" height="2.25" fill="#dae6f0"/>
<rect y="568.6" width="21.6" height="1.85" fill="#c8dae8"/>
<rect y="570.4" width="21.6" height="1.85" fill="#c8dae8"/>
<rect y="572.2" width="21.6" height="2.25" fill="#ffe6e6"/>
<rect y="574.4" width="21.6" height="1.55" fill="#dae6f0"/>
<rect y="575.9" width="21.6" height="1.85" fill="#ecf2f8"/>
<rect y="577.7" width="21.6" height="1.55" fill="#c8dae8"/>
<rect y="579.2" width="21.6" height="1.55" fill="#c8dae8"/>
<rect y="580.7" width="21.6" height="1.85" fill="#dae6f0"/>
<rect y="582.5" width="21.6" height="2.25" fill="#dae6f0"/>
<rect y="584.7" width="21.6" height="2.65" fill="#ffcccc"/>
<rect y="587.3" width="21.6" height="2.25" fill="#ffffff"/>
<rect y="589.5" width="21.6" height="1.85" fill="#ffcccc"/>
<rect y="591.3" width="21.6" height="1.25" fill="#ecf2f8"/>
<rect y="592.5" width="21.6" height="1.25" fill="#ecf2f8"/>
<rect y="593.7" width="21.6" height="1.55" fill="#ffffff"/>
<rect y="595.2" width="21.6" height="1.25" fill="#ecf2f8"/>
<rect y="596.4" width="21.6" height="2.25" fill="#ecf2f8"/>
<rect y="598.6" width="21.6" height="2.65" fill="#dae6f0"/>
<rect y="601.2" width="21.6" height="0.15" fill="#ffffff"/>
<rect y="568.33" width="21.6" height="0.55" fill="#fff" opacity="0.75"/>
<rect y="571.92" width="21.6" height="0.55" fill="#fff" opacity="0.75"/>
<rect y="580.42" width="21.6" height="0.55" fill="#fff" opacity="0.75"/>
<rect y="582.22" width="21.6" height="0.55" fill="#fff" opacity="0.75"/>
<rect y="594.93" width="21.6" height="0.55" fill="#fff" opacity="0.75"/>
<rect y="596.13" width="21.6" height="0.55" fill="#fff" opacity="0.75"/>
<rect y="598.33" width="21.6" height="0.55" fill="#fff" opacity="0.75"/>
<rect y="601.3" width="21.6" height="16" fill="#ecf2f8"/>
<rect y="601.3" width="21.6" height="1.85" fill="#c8dae8"/>
<rect y="603.1" width="21.6" height="1.85" fill="#ffe6e6"/>
<rect y="604.9" width="21.6" height="2.65" fill="#ffcccc"/>
<rect y="607.5" width="21.6" height="1.85" fill="#ffffff"/>
<rect y="609.3" width="21.6" height="2.25" fill="#ffffff"/>
<rect y="611.5" width="21.6" height="1.25" fill="#ffffff"/>
<rect y="612.7" width="21.6" height="2.25" fill="#c8dae8"/>
<rect y="614.9" width="21.6" height="1.25" fill="#ffffff"/>
<rect y="616.1" width="21.6" height="1.25" fill="#ffffff"/>
<rect y="602.82" width="21.6" height="0.55" fill="#fff" opacity="0.75"/>
<rect y="604.62" width="21.6" height="0.55" fill="#fff" opacity="0.75"/>
<rect y="607.22" width="21.6" height="0.55" fill="#fff" opacity="0.75"/>
<rect y="609.02" width="21.6" height="0.55" fill="#fff" opacity="0.75"/>
<rect y="614.62" width="21.6" height="0.55" fill="#fff" opacity="0.75"/>
<rect y="617.3" width="21.6" height="20.7" fill="#ecf2f8"/>
<rect y="617.3" width="21.6" height="2.25" fill="#ecf2f8"/>
<rect y="619.5" width="21.6" height="1.55" fill="#c8dae8"/>
<rect y="621" width="21.6" height="2.25" fill="#c8dae8"/>
<rect y="623.2" width="21.6" height="1.55" fill="#ffffff"/>
<rect y="624.7" width="21.6" height="2.25" fill="#dae6f0"/>
<rect y="626.9" width="21.6" height="1.85" fill="#c8dae8"/>
<rect y="628.7" width="21.6" height="1.25" fill="#ecf2f8"/>
<rect y="629.9" width="21.6" height="1.25" fill="#ecf2f8"/>
<rect y="631.1" width="21.6" height="2.25" fill="#ffffff"/>
<rect y="633.3" width="21.6" height="1.55" fill="#ecf2f8"/>
<rect y="634.8" width="21.6" height="1.85" fill="#ffffff"/>
<rect y="636.6" width="21.6" height="1.25" fill="#ecf2f8"/>
<rect y="637.8" width="21.6" height="0.25" fill="#ffcccc"/>
<rect y="620.73" width="21.6" height="0.55" fill="#fff" opacity="0.75"/>
<rect y="622.93" width="21.6" height="0.55" fill="#fff" opacity="0.75"/>
<rect y="626.63" width="21.6" height="0.55" fill="#fff" opacity="0.75"/>
<rect y="628.43" width="21.6" height="0.55" fill="#fff" opacity="0.75"/>
<rect y="629.63" width="21.6" height="0.55" fill="#fff" opacity="0.75"/>
<rect y="636.33" width="21.6" height="0.55" fill="#fff" opacity="0.75"/>
<rect y="638" width="21.6" height="16.2" fill="#ecf2f8"/>
<rect y="638" width="21.6" height="2.25" fill="#dae6f0"/>
<rect y="640.2" width="21.6" height="2.65" fill="#ffe6e6"/>
<rect y="642.8" width="21.6" height="1.85" fill="#ffffff"/>
<rect y="644.6" width="21.6" height="1.55" fill="#ecf2f8"/>
<rect y="646.1" width="21.6" height="1.55" fill="#dae6f0"/>
<rect y="647.6" width="21.6" height="1.85" fill="#ffe6e6"/>
<rect y="649.4" width="21.6" height="2.25" fill="#c8dae8"/>
<rect y="651.6" width="21.6" height="1.25" fill="#dae6f0"/>
<rect y="652.8" width="21.6" height="1.45" fill="#dae6f0"/>
<rect y="639.93" width="21.6" height="0.55" fill="#fff" opacity="0.75"/>
<rect y="642.53" width="21.6" height="0.55" fill="#fff" opacity="0.75"/>
<rect y="644.33" width="21.6" height="0.55" fill="#fff" opacity="0.75"/>
<rect y="645.83" width="21.6" height="0.55" fill="#fff" opacity="0.75"/>
<rect y="651.33" width="21.6" height="0.55" fill="#fff" opacity="0.75"/>
<rect y="654.2" width="21.6" height="20.4" fill="#ecf2f8"/>
<rect y="654.2" width="21.6" height="2.65" fill="#ecf2f8"/>
<rect y="656.8" width="21.6" height="1.85" fill="#ffe6e6"/>
<rect y="658.6" width="21.6" height="1.85" fill="#b5cde1"/>
<rect y="660.4" width="21.6" height="1.85" fill="#dae6f0"/>
<rect y="662.2" width="21.6" height="1.85" fill="#dae6f0"/>
<rect y="664" width="21.6" height="2.65" fill="#ffffff"/>
<rect y="666.6" width="21.6" height="1.85" fill="#ffffff"/>
<rect y="668.4" width="21.6" height="1.85" fill="#dae6f0"/>
<rect y="670.2" width="21.6" height="1.25" fill="#ecf2f8"/>
<rect y="671.4" width="21.6" height="1.25" fill="#ffcccc"/>
<rect y="672.6" width="21.6" height="2.05" fill="#ffffff"/>
<rect y="656.53" width="21.6" height="0.55" fill="#fff" opacity="0.75"/>
<rect y="658.33" width="21.6" height="0.55" fill="#fff" opacity="0.75"/>
<rect y="660.12" width="21.6" height="0.55" fill="#fff" opacity="0.75"/>
<rect y="661.92" width="21.6" height="0.55" fill="#fff" opacity="0.75"/>
<rect y="663.72" width="21.6" height="0.55" fill="#fff" opacity="0.75"/>
<rect y="669.92" width="21.6" height="0.55" fill="#fff" opacity="0.75"/>
</g>
<g transform="translate(336.9,0)">
<rect y="353.5" width="21.3" height="71.3" fill="#ffb2b2"/>
<rect y="353.5" width="21.3" height="1.25" fill="#ffcccc"/>
<rect y="354.7" width="21.3" height="2.65" fill="#ffe6e6"/>
<rect y="357.3" width="21.3" height="1.55" fill="#ffb2b2"/>
<rect y="358.8" width="21.3" height="1.85" fill="#ff9999"/>
<rect y="360.6" width="21.3" height="1.55" fill="#ffffff"/>
<rect y="362.1" width="21.3" height="2.25" fill="#ffb2b2"/>
<rect y="364.3" width="21.3" height="1.55" fill="#ffe6e6"/>
<rect y="365.8" width="21.3" height="1.55" fill="#ffcccc"/>
<rect y="367.3" width="21.3" height="1.55" fill="#ffb2b2"/>
<rect y="368.8" width="21.3" height="2.65" fill="#ffffff"/>
<rect y="371.4" width="21.3" height="1.55" fill="#ff8080"/>
<rect y="372.9" width="21.3" height="1.55" fill="#ffb2b2"/>
<rect y="374.4" width="21.3" height="2.65" fill="#ffcccc"/>
<rect y="377" width="21.3" height="1.85" fill="#ff9999"/>
<rect y="378.8" width="21.3" height="2.25" fill="#ffb2b2"/>
<rect y="381" width="21.3" height="1.85" fill="#ffb2b2"/>
<rect y="382.8" width="21.3" height="1.85" fill="#ffffff"/>
<rect y="384.6" width="21.3" height="1.85" fill="#ffffff"/>
<rect y="386.4" width="21.3" height="1.85" fill="#ffb2b2"/>
<rect y="388.2" width="21.3" height="1.85" fill="#ffe6e6"/>
<rect y="390" width="21.3" height="2.25" fill="#ffcccc"/>
<rect y="392.2" width="21.3" height="2.25" fill="#ffb2b2"/>
<rect y="394.4" width="21.3" height="2.65" fill="#ffb2b2"/>
<rect y="397" width="21.3" height="1.25" fill="#ffe6e6"/>
<rect y="398.2" width="21.3" height="1.55" fill="#ffb2b2"/>
<rect y="399.7" width="21.3" height="1.85" fill="#ffffff"/>
<rect y="401.5" width="21.3" height="1.85" fill="#ff9999"/>
<rect y="403.3" width="21.3" height="1.25" fill="#ff9999"/>
<rect y="404.5" width="21.3" height="1.55" fill="#ff8080"/>
<rect y="406" width="21.3" height="2.65" fill="#ffffff"/>
<rect y="408.6" width="21.3" height="1.25" fill="#ff9999"/>
<rect y="409.8" width="21.3" height="1.85" fill="#ffffff"/>
<rect y="411.6" width="21.3" height="2.25" fill="#ffb2b2"/>
<rect y="413.8" width="21.3" height="1.85" fill="#ffffff"/>
<rect y="415.6" width="21.3" height="1.25" fill="#ff9999"/>
<rect y="416.8" width="21.3" height="1.25" fill="#ff9999"/>
<rect y="418" width="21.3" height="1.25" fill="#ffe6e6"/>
<rect y="419.2" width="21.3" height="2.25" fill="#ffe6e6"/>
<rect y="421.4" width="21.3" height="1.85" fill="#ff9999"/>
<rect y="423.2" width="21.3" height="1.65" fill="#ffffff"/>
<rect y="360.33" width="21.3" height="0.55" fill="#fff" opacity="0.75"/>
<rect y="361.83" width="21.3" height="0.55" fill="#fff" opacity="0.75"/>
<rect y="364.03" width="21.3" height="0.55" fill="#fff" opacity="0.75"/>
<rect y="365.53" width="21.3" height="0.55" fill="#fff" opacity="0.75"/>
<rect y="368.53" width="21.3" height="0.55" fill="#fff" opacity="0.75"/>
<rect y="371.13" width="21.3" height="0.55" fill="#fff" opacity="0.75"/>
<rect y="380.73" width="21.3" height="0.55" fill="#fff" opacity="0.75"/>
<rect y="382.53" width="21.3" height="0.55" fill="#fff" opacity="0.75"/>
<rect y="386.13" width="21.3" height="0.55" fill="#fff" opacity="0.75"/>
<rect y="387.93" width="21.3" height="0.55" fill="#fff" opacity="0.75"/>
<rect y="391.93" width="21.3" height="0.55" fill="#fff" opacity="0.75"/>
<rect y="399.43" width="21.3" height="0.55" fill="#fff" opacity="0.75"/>
<rect y="401.23" width="21.3" height="0.55" fill="#fff" opacity="0.75"/>
<rect y="403.03" width="21.3" height="0.55" fill="#fff" opacity="0.75"/>
<rect y="404.23" width="21.3" height="0.55" fill="#fff" opacity="0.75"/>
<rect y="405.73" width="21.3" height="0.55" fill="#fff" opacity="0.75"/>
<rect y="411.33" width="21.3" height="0.55" fill="#fff" opacity="0.75"/>
<rect y="413.53" width="21.3" height="0.55" fill="#fff" opacity="0.75"/>
<rect y="415.33" width="21.3" height="0.55" fill="#fff" opacity="0.75"/>
<rect y="416.53" width="21.3" height="0.55" fill="#fff" opacity="0.75"/>
<rect y="417.73" width="21.3" height="0.55" fill="#fff" opacity="0.75"/>
<rect y="418.93" width="21.3" height="0.55" fill="#fff" opacity="0.75"/>
<rect y="422.93" width="21.3" height="0.55" fill="#fff" opacity="0.75"/>
<rect y="424.8" width="21.3" height="12.2" fill="#ffcccc"/>
<rect y="424.8" width="21.3" height="2.25" fill="#ffe6e6"/>
<rect y="427" width="21.3" height="1.85" fill="#ffb2b2"/>
<rect y="428.8" width="21.3" height="1.25" fill="#dae6f0"/>
<rect y="430" width="21.3" height="1.25" fill="#ecf2f8"/>
<rect y="431.2" width="21.3" height="2.25" fill="#ff6666"/>
<rect y="433.4" width="21.3" height="1.55" fill="#ffcccc"/>
<rect y="434.9" width="21.3" height="1.85" fill="#ff9999"/>
<rect y="436.7" width="21.3" height="0.35" fill="#ffe6e6"/>
<rect y="430.93" width="21.3" height="0.55" fill="#fff" opacity="0.75"/>
<rect y="433.12" width="21.3" height="0.55" fill="#fff" opacity="0.75"/>
<rect y="434.62" width="21.3" height="0.55" fill="#fff" opacity="0.75"/>
<rect y="437" width="21.3" height="53.8" fill="#ffb2b2"/>
<rect y="437" width="21.3" height="2.65" fill="#ff8080"/>
<rect y="439.6" width="21.3" height="1.55" fill="#ffb2b2"/>
<rect y="441.1" width="21.3" height="1.25" fill="#ffb2b2"/>
<rect y="442.3" width="21.3" height="1.85" fill="#ff9999"/>
<rect y="444.1" width="21.3" height="2.65" fill="#ffb2b2"/>
<rect y="446.7" width="21.3" height="2.25" fill="#ffe6e6"/>
<rect y="448.9" width="21.3" height="1.25" fill="#ff9999"/>
<rect y="450.1" width="21.3" height="1.85" fill="#ffcccc"/>
<rect y="451.9" width="21.3" height="1.55" fill="#ffffff"/>
<rect y="453.4" width="21.3" height="1.55" fill="#ffb2b2"/>
<rect y="454.9" width="21.3" height="2.25" fill="#ff8080"/>
<rect y="457.1" width="21.3" height="1.55" fill="#ffb2b2"/>
<rect y="458.6" width="21.3" height="2.65" fill="#ffb2b2"/>
<rect y="461.2" width="21.3" height="1.25" fill="#ffcccc"/>
<rect y="462.4" width="21.3" height="1.55" fill="#ffffff"/>
<rect y="463.9" width="21.3" height="1.55" fill="#ffcccc"/>
<rect y="465.4" width="21.3" height="1.55" fill="#ffcccc"/>
<rect y="466.9" width="21.3" height="1.25" fill="#ffcccc"/>
<rect y="468.1" width="21.3" height="2.65" fill="#ffcccc"/>
<rect y="470.7" width="21.3" height="1.55" fill="#ffffff"/>
<rect y="472.2" width="21.3" height="2.25" fill="#ff6666"/>
<rect y="474.4" width="21.3" height="1.55" fill="#ff9999"/>
<rect y="475.9" width="21.3" height="1.55" fill="#ffe6e6"/>
<rect y="477.4" width="21.3" height="1.55" fill="#ffcccc"/>
<rect y="478.9" width="21.3" height="1.55" fill="#ff6666"/>
<rect y="480.4" width="21.3" height="2.25" fill="#ffcccc"/>
<rect y="482.6" width="21.3" height="1.55" fill="#ffcccc"/>
<rect y="484.1" width="21.3" height="1.25" fill="#ff6666"/>
<rect y="485.3" width="21.3" height="1.25" fill="#ffcccc"/>
<rect y="486.5" width="21.3" height="2.65" fill="#ffb2b2"/>
<rect y="489.1" width="21.3" height="1.55" fill="#ffcccc"/>
<rect y="490.6" width="21.3" height="0.25" fill="#ff9999"/>
<rect y="439.33" width="21.3" height="0.55" fill="#fff" opacity="0.75"/>
<rect y="440.83" width="21.3" height="0.55" fill="#fff" opacity="0.75"/>
<rect y="442.03" width="21.3" height="0.55" fill="#fff" opacity="0.75"/>
<rect y="443.83" width="21.3" height="0.55" fill="#fff" opacity="0.75"/>
<rect y="448.63" width="21.3" height="0.55" fill="#fff" opacity="0.75"/>
<rect y="449.83" width="21.3" height="0.55" fill="#fff" opacity="0.75"/>
<rect y="451.63" width="21.3" height="0.55" fill="#fff" opacity="0.75"/>
<rect y="453.13" width="21.3" height="0.55" fill="#fff" opacity="0.75"/>
<rect y="458.33" width="21.3" height="0.55" fill="#fff" opacity="0.75"/>
<rect y="465.13" width="21.3" height="0.55" fill="#fff" opacity="0.75"/>
<rect y="467.83" width="21.3" height="0.55" fill="#fff" opacity="0.75"/>
<rect y="470.43" width="21.3" height="0.55" fill="#fff" opacity="0.75"/>
<rect y="471.93" width="21.3" height="0.55" fill="#fff" opacity="0.75"/>
<rect y="480.13" width="21.3" height="0.55" fill="#fff" opacity="0.75"/>
<rect y="485.03" width="21.3" height="0.55" fill="#fff" opacity="0.75"/>
<rect y="486.23" width="21.3" height="0.55" fill="#fff" opacity="0.75"/>
<rect y="490.8" width="21.3" height="12.4" fill="#ffcccc"/>
<rect y="490.8" width="21.3" height="2.65" fill="#ffe6e6"/>
<rect y="493.4" width="21.3" height="1.55" fill="#ff9999"/>
<rect y="494.9" width="21.3" height="2.25" fill="#ffe6e6"/>
<rect y="497.1" width="21.3" height="1.55" fill="#ffb2b2"/>
<rect y="498.6" width="21.3" height="1.55" fill="#ffb2b2"/>
<rect y="500.1" width="21.3" height="1.55" fill="#ffb2b2"/>
<rect y="501.6" width="21.3" height="1.65" fill="#ffcccc"/>
<rect y="493.13" width="21.3" height="0.55" fill="#fff" opacity="0.75"/>
<rect y="494.63" width="21.3" height="0.55" fill="#fff" opacity="0.75"/>
<rect y="496.83" width="21.3" height="0.55" fill="#fff" opacity="0.75"/>
<rect y="498.33" width="21.3" height="0.55" fill="#fff" opacity="0.75"/>
<rect y="499.83" width="21.3" height="0.55" fill="#fff" opacity="0.75"/>
<rect y="501.33" width="21.3" height="0.55" fill="#fff" opacity="0.75"/>
<rect y="503.2" width="21.3" height="49.1" fill="#ffb2b2"/>
<rect y="503.2" width="21.3" height="2.25" fill="#ffffff"/>
<rect y="505.4" width="21.3" height="2.25" fill="#ffe6e6"/>
<rect y="507.6" width="21.3" height="2.65" fill="#ffcccc"/>
<rect y="510.2" width="21.3" height="1.25" fill="#ffcccc"/>
<rect y="511.4" width="21.3" height="1.25" fill="#ff9999"/>
<rect y="512.6" width="21.3" height="2.25" fill="#ffe6e6"/>
<rect y="514.8" width="21.3" height="1.55" fill="#ff8080"/>
<rect y="516.3" width="21.3" height="2.65" fill="#ffcccc"/>
<rect y="518.9" width="21.3" height="2.25" fill="#ffcccc"/>
<rect y="521.1" width="21.3" height="2.25" fill="#ff8080"/>
<rect y="523.3" width="21.3" height="1.25" fill="#ffcccc"/>
<rect y="524.5" width="21.3" height="1.55" fill="#ffe6e6"/>
<rect y="526" width="21.3" height="1.85" fill="#ffe6e6"/>
<rect y="527.8" width="21.3" height="1.55" fill="#ffffff"/>
<rect y="529.3" width="21.3" height="2.25" fill="#ff6666"/>
<rect y="531.5" width="21.3" height="1.85" fill="#ff6666"/>
<rect y="533.3" width="21.3" height="1.25" fill="#ff8080"/>
<rect y="534.5" width="21.3" height="2.25" fill="#ffe6e6"/>
<rect y="536.7" width="21.3" height="1.25" fill="#ffb2b2"/>
<rect y="537.9" width="21.3" height="2.65" fill="#ffb2b2"/>
<rect y="540.5" width="21.3" height="1.25" fill="#ffe6e6"/>
<rect y="541.7" width="21.3" height="2.25" fill="#ffe6e6"/>
<rect y="543.9" width="21.3" height="1.25" fill="#ffe6e6"/>
<rect y="545.1" width="21.3" height="2.25" fill="#ff6666"/>
<rect y="547.3" width="21.3" height="1.25" fill="#ff9999"/>
<rect y="548.5" width="21.3" height="1.85" fill="#ffcccc"/>
<rect y="550.3" width="21.3" height="2.05" fill="#ff8080"/>
<rect y="507.32" width="21.3" height="0.55" fill="#fff" opacity="0.75"/>
<rect y="509.93" width="21.3" height="0.55" fill="#fff" opacity="0.75"/>
<rect y="511.12" width="21.3" height="0.55" fill="#fff" opacity="0.75"/>
<rect y="512.33" width="21.3" height="0.55" fill="#fff" opacity="0.75"/>
<rect y="516.03" width="21.3" height="0.55" fill="#fff" opacity="0.75"/>
<rect y="520.83" width="21.3" height="0.55" fill="#fff" opacity="0.75"/>
<rect y="523.03" width="21.3" height="0.55" fill="#fff" opacity="0.75"/>
<rect y="525.73" width="21.3" height="0.55" fill="#fff" opacity="0.75"/>
<rect y="529.03" width="21.3" height="0.55" fill="#fff" opacity="0.75"/>
<rect y="536.43" width="21.3" height="0.55" fill="#fff" opacity="0.75"/>
<rect y="537.63" width="21.3" height="0.55" fill="#fff" opacity="0.75"/>
<rect y="541.43" width="21.3" height="0.55" fill="#fff" opacity="0.75"/>
<rect y="544.83" width="21.3" height="0.55" fill="#fff" opacity="0.75"/>
<rect y="548.23" width="21.3" height="0.55" fill="#fff" opacity="0.75"/>
<rect y="552.3" width="21.3" height="14.1" fill="#ffcccc"/>
<rect y="552.3" width="21.3" height="1.25" fill="#ffb2b2"/>
<rect y="553.5" width="21.3" height="1.55" fill="#ffb2b2"/>
<rect y="555" width="21.3" height="1.55" fill="#ffcccc"/>
<rect y="556.5" width="21.3" height="1.25" fill="#ff9999"/>
<rect y="557.7" width="21.3" height="2.65" fill="#dae6f0"/>
<rect y="560.3" width="21.3" height="1.55" fill="#ffe6e6"/>
<rect y="561.8" width="21.3" height="1.55" fill="#ff9999"/>
<rect y="563.3" width="21.3" height="2.25" fill="#ffb2b2"/>
<rect y="565.5" width="21.3" height="0.95" fill="#ecf2f8"/>
<rect y="554.73" width="21.3" height="0.55" fill="#fff" opacity="0.75"/>
<rect y="556.23" width="21.3" height="0.55" fill="#fff" opacity="0.75"/>
<rect y="561.53" width="21.3" height="0.55" fill="#fff" opacity="0.75"/>
<rect y="565.23" width="21.3" height="0.55" fill="#fff" opacity="0.75"/>
<rect y="566.4" width="21.3" height="34.9" fill="#ffb2b2"/>
<rect y="566.4" width="21.3" height="1.25" fill="#ffffff"/>
<rect y="567.6" width="21.3" height="1.55" fill="#ffb2b2"/>
<rect y="569.1" width="21.3" height="1.55" fill="#ffb2b2"/>
<rect y="570.6" width="21.3" height="1.55" fill="#ff9999"/>
<rect y="572.1" width="21.3" height="1.55" fill="#ffb2b2"/>
<rect y="573.6" width="21.3" height="2.25" fill="#ffcccc"/>
<rect y="575.8" width="21.3" height="2.25" fill="#ff9999"/>
<rect y="578" width="21.3" height="1.55" fill="#ff8080"/>
<rect y="579.5" width="21.3" height="1.25" fill="#ff6666"/>
<rect y="580.7" width="21.3" height="2.65" fill="#ffcccc"/>
<rect y="583.3" width="21.3" height="2.65" fill="#ffcccc"/>
<rect y="585.9" width="21.3" height="2.25" fill="#ff9999"/>
<rect y="588.1" width="21.3" height="2.25" fill="#ffe6e6"/>
<rect y="590.3" width="21.3" height="1.55" fill="#ff8080"/>
<rect y="591.8" width="21.3" height="1.55" fill="#ffffff"/>
<rect y="593.3" width="21.3" height="2.25" fill="#ff9999"/>
<rect y="595.5" width="21.3" height="2.65" fill="#ff8080"/>
<rect y="598.1" width="21.3" height="1.85" fill="#ffffff"/>
<rect y="599.9" width="21.3" height="1.45" fill="#ff9999"/>
<rect y="567.33" width="21.3" height="0.55" fill="#fff" opacity="0.75"/>
<rect y="570.33" width="21.3" height="0.55" fill="#fff" opacity="0.75"/>
<rect y="571.83" width="21.3" height="0.55" fill="#fff" opacity="0.75"/>
<rect y="573.33" width="21.3" height="0.55" fill="#fff" opacity="0.75"/>
<rect y="575.53" width="21.3" height="0.55" fill="#fff" opacity="0.75"/>
<rect y="580.43" width="21.3" height="0.55" fill="#fff" opacity="0.75"/>
<rect y="583.03" width="21.3" height="0.55" fill="#fff" opacity="0.75"/>
<rect y="585.63" width="21.3" height="0.55" fill="#fff" opacity="0.75"/>
<rect y="587.83" width="21.3" height="0.55" fill="#fff" opacity="0.75"/>
<rect y="590.03" width="21.3" height="0.55" fill="#fff" opacity="0.75"/>
<rect y="593.03" width="21.3" height="0.55" fill="#fff" opacity="0.75"/>
<rect y="595.23" width="21.3" height="0.55" fill="#fff" opacity="0.75"/>
<rect y="601.3" width="21.3" height="16" fill="#ffcccc"/>
<rect y="601.3" width="21.3" height="1.85" fill="#ff6666"/>
<rect y="603.1" width="21.3" height="2.65" fill="#ffe6e6"/>
<rect y="605.7" width="21.3" height="2.25" fill="#ff9999"/>
<rect y="607.9" width="21.3" height="2.65" fill="#ff4c4c"/>
<rect y="610.5" width="21.3" height="2.65" fill="#ffcccc"/>
<rect y="613.1" width="21.3" height="1.85" fill="#ffe6e6"/>
<rect y="614.9" width="21.3" height="1.85" fill="#ff9999"/>
<rect y="616.7" width="21.3" height="0.65" fill="#ff8080"/>
<rect y="605.42" width="21.3" height="0.55" fill="#fff" opacity="0.75"/>
<rect y="607.62" width="21.3" height="0.55" fill="#fff" opacity="0.75"/>
<rect y="617.3" width="21.3" height="20.7" fill="#ffb2b2"/>
<rect y="617.3" width="21.3" height="1.85" fill="#ff6666"/>
<rect y="619.1" width="21.3" height="1.25" fill="#ffffff"/>
<rect y="620.3" width="21.3" height="1.25" fill="#ffffff"/>
<rect y="621.5" width="21.3" height="2.25" fill="#ffe6e6"/>
<rect y="623.7" width="21.3" height="1.25" fill="#ff8080"/>
<rect y="624.9" width="21.3" height="1.85" fill="#ff9999"/>
<rect y="626.7" width="21.3" height="2.65" fill="#ff9999"/>
<rect y="629.3" width="21.3" height="1.85" fill="#ffe6e6"/>
<rect y="631.1" width="21.3" height="2.25" fill="#ffcccc"/>
<rect y="633.3" width="21.3" height="1.85" fill="#ffcccc"/>
<rect y="635.1" width="21.3" height="1.85" fill="#ffcccc"/>
<rect y="636.9" width="21.3" height="1.15" fill="#ff9999"/>
<rect y="618.82" width="21.3" height="0.55" fill="#fff" opacity="0.75"/>
<rect y="620.02" width="21.3" height="0.55" fill="#fff" opacity="0.75"/>
<rect y="624.63" width="21.3" height="0.55" fill="#fff" opacity="0.75"/>
<rect y="630.83" width="21.3" height="0.55" fill="#fff" opacity="0.75"/>
<rect y="633.03" width="21.3" height="0.55" fill="#fff" opacity="0.75"/>
<rect y="634.83" width="21.3" height="0.55" fill="#fff" opacity="0.75"/>
<rect y="638" width="21.3" height="16.2" fill="#ffcccc"/>
<rect y="638" width="21.3" height="2.65" fill="#ffffff"/>
<rect y="640.6" width="21.3" height="1.85" fill="#ffb2b2"/>
<rect y="642.4" width="21.3" height="1.85" fill="#ecf2f8"/>
<rect y="644.2" width="21.3" height="1.25" fill="#ff9999"/>
<rect y="645.4" width="21.3" height="1.55" fill="#ffb2b2"/>
<rect y="646.9" width="21.3" height="2.65" fill="#ffe6e6"/>
<rect y="649.5" width="21.3" height="1.55" fill="#ffffff"/>
<rect y="651" width="21.3" height="1.85" fill="#ff8080"/>
<rect y="652.8" width="21.3" height="1.25" fill="#ffcccc"/>
<rect y="654" width="21.3" height="0.25" fill="#ffcccc"/>
<rect y="642.12" width="21.3" height="0.55" fill="#fff" opacity="0.75"/>
<rect y="643.92" width="21.3" height="0.55" fill="#fff" opacity="0.75"/>
<rect y="645.12" width="21.3" height="0.55" fill="#fff" opacity="0.75"/>
<rect y="654.2" width="21.3" height="20.4" fill="#ffb2b2"/>
<rect y="654.2" width="21.3" height="1.25" fill="#ffb2b2"/>
<rect y="655.4" width="21.3" height="1.25" fill="#ff8080"/>
<rect y="656.6" width="21.3" height="1.85" fill="#ff9999"/>
<rect y="658.4" width="21.3" height="1.25" fill="#ffffff"/>
<rect y="659.6" width="21.3" height="2.65" fill="#ffb2b2"/>
<rect y="662.2" width="21.3" height="1.55" fill="#ff9999"/>
<rect y="663.7" width="21.3" height="1.55" fill="#ffb2b2"/>
<rect y="665.2" width="21.3" height="2.65" fill="#ff4c4c"/>
<rect y="667.8" width="21.3" height="1.25" fill="#ffe6e6"/>
<rect y="669" width="21.3" height="2.25" fill="#ffe6e6"/>
<rect y="671.2" width="21.3" height="2.25" fill="#ff8080"/>
<rect y="673.4" width="21.3" height="1.25" fill="#ffe6e6"/>
<rect y="663.43" width="21.3" height="0.55" fill="#fff" opacity="0.75"/>
<rect y="664.93" width="21.3" height="0.55" fill="#fff" opacity="0.75"/>
<rect y="667.53" width="21.3" height="0.55" fill="#fff" opacity="0.75"/>
<rect y="670.93" width="21.3" height="0.55" fill="#fff" opacity="0.75"/>
</g>
<g transform="translate(359,0)">
<rect y="353.5" width="20.6" height="71.3" fill="#ff4c4c"/>
<rect y="353.5" width="20.6" height="1.55" fill="#ff6666"/>
<rect y="355" width="20.6" height="1.55" fill="#ff8080"/>
<rect y="356.5" width="20.6" height="1.55" fill="#ff6666"/>
<rect y="358" width="20.6" height="1.55" fill="#ff4c4c"/>
<rect y="359.5" width="20.6" height="2.25" fill="#ffcccc"/>
<rect y="361.7" width="20.6" height="1.25" fill="#ff3333"/>
<rect y="362.9" width="20.6" height="2.65" fill="#ff6666"/>
<rect y="365.5" width="20.6" height="2.25" fill="#ff1a1a"/>
<rect y="367.7" width="20.6" height="1.55" fill="#ff8080"/>
<rect y="369.2" width="20.6" height="2.65" fill="#ff4c4c"/>
<rect y="371.8" width="20.6" height="1.85" fill="#ff3333"/>
<rect y="373.6" width="20.6" height="1.85" fill="#ff8080"/>
<rect y="375.4" width="20.6" height="1.85" fill="#ffcccc"/>
<rect y="377.2" width="20.6" height="1.85" fill="#ff8080"/>
<rect y="379" width="20.6" height="1.55" fill="#ffb2b2"/>
<rect y="380.5" width="20.6" height="1.85" fill="#ff6666"/>
<rect y="382.3" width="20.6" height="1.55" fill="#ff8080"/>
<rect y="383.8" width="20.6" height="2.65" fill="#ff0000"/>
<rect y="386.4" width="20.6" height="1.25" fill="#ff3333"/>
<rect y="387.6" width="20.6" height="1.25" fill="#ff3333"/>
<rect y="388.8" width="20.6" height="1.55" fill="#ff6666"/>
<rect y="390.3" width="20.6" height="1.55" fill="#ff9999"/>
<rect y="391.8" width="20.6" height="1.25" fill="#ff4c4c"/>
<rect y="393" width="20.6" height="1.85" fill="#ff0000"/>
<rect y="394.8" width="20.6" height="2.65" fill="#ff6666"/>
<rect y="397.4" width="20.6" height="2.65" fill="#ff8080"/>
<rect y="400" width="20.6" height="1.55" fill="#ff1a1a"/>
<rect y="401.5" width="20.6" height="1.55" fill="#ff4c4c"/>
<rect y="403" width="20.6" height="1.25" fill="#ff4c4c"/>
<rect y="404.2" width="20.6" height="1.85" fill="#ff0000"/>
<rect y="406" width="20.6" height="2.25" fill="#ff9999"/>
<rect y="408.2" width="20.6" height="2.25" fill="#ff1a1a"/>
<rect y="410.4" width="20.6" height="1.85" fill="#ff8080"/>
<rect y="412.2" width="20.6" height="1.25" fill="#ff4c4c"/>
<rect y="413.4" width="20.6" height="1.25" fill="#ff0000"/>
<rect y="414.6" width="20.6" height="1.55" fill="#ff4c4c"/>
<rect y="416.1" width="20.6" height="1.85" fill="#ff8080"/>
<rect y="417.9" width="20.6" height="1.85" fill="#ff4c4c"/>
<rect y="419.7" width="20.6" height="1.55" fill="#ff3333"/>
<rect y="421.2" width="20.6" height="1.25" fill="#ff3333"/>
<rect y="422.4" width="20.6" height="2.45" fill="#ff6666"/>
<rect y="354.73" width="20.6" height="0.55" fill="#fff" opacity="0.75"/>
<rect y="357.73" width="20.6" height="0.55" fill="#fff" opacity="0.75"/>
<rect y="365.23" width="20.6" height="0.55" fill="#fff" opacity="0.75"/>
<rect y="368.93" width="20.6" height="0.55" fill="#fff" opacity="0.75"/>
<rect y="371.53" width="20.6" height="0.55" fill="#fff" opacity="0.75"/>
<rect y="373.33" width="20.6" height="0.55" fill="#fff" opacity="0.75"/>
<rect y="375.13" width="20.6" height="0.55" fill="#fff" opacity="0.75"/>
<rect y="378.73" width="20.6" height="0.55" fill="#fff" opacity="0.75"/>
<rect y="382.03" width="20.6" height="0.55" fill="#fff" opacity="0.75"/>
<rect y="383.53" width="20.6" height="0.55" fill="#fff" opacity="0.75"/>
<rect y="386.13" width="20.6" height="0.55" fill="#fff" opacity="0.75"/>
<rect y="387.33" width="20.6" height="0.55" fill="#fff" opacity="0.75"/>
<rect y="392.73" width="20.6" height="0.55" fill="#fff" opacity="0.75"/>
<rect y="394.53" width="20.6" height="0.55" fill="#fff" opacity="0.75"/>
<rect y="397.13" width="20.6" height="0.55" fill="#fff" opacity="0.75"/>
<rect y="399.73" width="20.6" height="0.55" fill="#fff" opacity="0.75"/>
<rect y="401.23" width="20.6" height="0.55" fill="#fff" opacity="0.75"/>
<rect y="402.73" width="20.6" height="0.55" fill="#fff" opacity="0.75"/>
<rect y="403.93" width="20.6" height="0.55" fill="#fff" opacity="0.75"/>
<rect y="407.93" width="20.6" height="0.55" fill="#fff" opacity="0.75"/>
<rect y="410.13" width="20.6" height="0.55" fill="#fff" opacity="0.75"/>
<rect y="415.83" width="20.6" height="0.55" fill="#fff" opacity="0.75"/>
<rect y="419.43" width="20.6" height="0.55" fill="#fff" opacity="0.75"/>
<rect y="422.13" width="20.6" height="0.55" fill="#fff" opacity="0.75"/>
<rect y="424.8" width="20.6" height="12.2" fill="#ff8080"/>
<rect y="424.8" width="20.6" height="2.25" fill="#ff9999"/>
<rect y="427" width="20.6" height="2.65" fill="#ff8080"/>
<rect y="429.6" width="20.6" height="1.55" fill="#ffcccc"/>
<rect y="431.1" width="20.6" height="1.25" fill="#ff8080"/>
<rect y="432.3" width="20.6" height="1.25" fill="#ff3333"/>
<rect y="433.5" width="20.6" height="2.65" fill="#ffb2b2"/>
<rect y="436.1" width="20.6" height="0.95" fill="#ff6666"/>
<rect y="426.73" width="20.6" height="0.55" fill="#fff" opacity="0.75"/>
<rect y="429.33" width="20.6" height="0.55" fill="#fff" opacity="0.75"/>
<rect y="430.83" width="20.6" height="0.55" fill="#fff" opacity="0.75"/>
<rect y="432.03" width="20.6" height="0.55" fill="#fff" opacity="0.75"/>
<rect y="437" width="20.6" height="53.8" fill="#ff4c4c"/>
<rect y="437" width="20.6" height="1.25" fill="#ff8080"/>
<rect y="438.2" width="20.6" height="2.65" fill="#ff3333"/>
<rect y="440.8" width="20.6" height="1.55" fill="#ff3333"/>
<rect y="442.3" width="20.6" height="1.25" fill="#ff3333"/>
<rect y="443.5" width="20.6" height="1.25" fill="#ff8080"/>
<rect y="444.7" width="20.6" height="2.25" fill="#ff3333"/>
<rect y="446.9" width="20.6" height="1.55" fill="#ff3333"/>
<rect y="448.4" width="20.6" height="1.25" fill="#ff0000"/>
<rect y="449.6" width="20.6" height="2.25" fill="#ff0000"/>
<rect y="451.8" width="20.6" height="1.55" fill="#ff6666"/>
<rect y="453.3" width="20.6" height="1.25" fill="#ff4c4c"/>
<rect y="454.5" width="20.6" height="2.65" fill="#ff3333"/>
<rect y="457.1" width="20.6" height="1.55" fill="#ff6666"/>
<rect y="458.6" width="20.6" height="2.25" fill="#ff4c4c"/>
<rect y="460.8" width="20.6" height="2.25" fill="#ff0000"/>
<rect y="463" width="20.6" height="1.55" fill="#ff0000"/>
<rect y="464.5" width="20.6" height="1.25" fill="#ff3333"/>
<rect y="465.7" width="20.6" height="1.85" fill="#ff3333"/>
<rect y="467.5" width="20.6" height="1.85" fill="#ff6666"/>
<rect y="469.3" width="20.6" height="2.25" fill="#ff8080"/>
<rect y="471.5" width="20.6" height="2.25" fill="#ff3333"/>
<rect y="473.7" width="20.6" height="1.55" fill="#ff3333"/>
<rect y="475.2" width="20.6" height="1.25" fill="#ff8080"/>
<rect y="476.4" width="20.6" height="1.25" fill="#ff0000"/>
<rect y="477.6" width="20.6" height="2.25" fill="#ff8080"/>
<rect y="479.8" width="20.6" height="2.65" fill="#ff6666"/>
<rect y="482.4" width="20.6" height="2.25" fill="#ff3333"/>
<rect y="484.6" width="20.6" height="1.25" fill="#ff3333"/>
<rect y="485.8" width="20.6" height="2.65" fill="#ff0000"/>
<rect y="488.4" width="20.6" height="1.25" fill="#ff4c4c"/>
<rect y="489.6" width="20.6" height="1.25" fill="#ff4c4c"/>
<rect y="442.03" width="20.6" height="0.55" fill="#fff" opacity="0.75"/>
<rect y="443.23" width="20.6" height="0.55" fill="#fff" opacity="0.75"/>
<rect y="444.43" width="20.6" height="0.55" fill="#fff" opacity="0.75"/>
<rect y="446.62" width="20.6" height="0.55" fill="#fff" opacity="0.75"/>
<rect y="451.52" width="20.6" height="0.55" fill="#fff" opacity="0.75"/>
<rect y="454.22" width="20.6" height="0.55" fill="#fff" opacity="0.75"/>
<rect y="460.52" width="20.6" height="0.55" fill="#fff" opacity="0.75"/>
<rect y="462.72" width="20.6" height="0.55" fill="#fff" opacity="0.75"/>
<rect y="467.22" width="20.6" height="0.55" fill="#fff" opacity="0.75"/>
<rect y="469.02" width="20.6" height="0.55" fill="#fff" opacity="0.75"/>
<rect y="473.42" width="20.6" height="0.55" fill="#fff" opacity="0.75"/>
<rect y="476.12" width="20.6" height="0.55" fill="#fff" opacity="0.75"/>
<rect y="479.52" width="20.6" height="0.55" fill="#fff" opacity="0.75"/>
<rect y="484.32" width="20.6" height="0.55" fill="#fff" opacity="0.75"/>
<rect y="489.32" width="20.6" height="0.55" fill="#fff" opacity="0.75"/>
<rect y="490.8" width="20.6" height="12.4" fill="#ff8080"/>
<rect y="490.8" width="20.6" height="1.85" fill="#ff6666"/>
<rect y="492.6" width="20.6" height="1.85" fill="#ffcccc"/>
<rect y="494.4" width="20.6" height="2.25" fill="#ff4c4c"/>
<rect y="496.6" width="20.6" height="1.25" fill="#ff6666"/>
<rect y="497.8" width="20.6" height="1.55" fill="#ff6666"/>
<rect y="499.3" width="20.6" height="1.55" fill="#ff9999"/>
<rect y="500.8" width="20.6" height="2.25" fill="#ff9999"/>
<rect y="503" width="20.6" height="0.25" fill="#ff8080"/>
<rect y="492.33" width="20.6" height="0.55" fill="#fff" opacity="0.75"/>
<rect y="494.13" width="20.6" height="0.55" fill="#fff" opacity="0.75"/>
<rect y="496.33" width="20.6" height="0.55" fill="#fff" opacity="0.75"/>
<rect y="497.53" width="20.6" height="0.55" fill="#fff" opacity="0.75"/>
<rect y="500.53" width="20.6" height="0.55" fill="#fff" opacity="0.75"/>
<rect y="503.2" width="20.6" height="49.1" fill="#ff4c4c"/>
<rect y="503.2" width="20.6" height="1.25" fill="#ff4c4c"/>
<rect y="504.4" width="20.6" height="1.25" fill="#ff0000"/>
<rect y="505.6" width="20.6" height="2.65" fill="#ffcccc"/>
<rect y="508.2" width="20.6" height="2.65" fill="#ffcccc"/>
<rect y="510.8" width="20.6" height="2.65" fill="#ff1a1a"/>
<rect y="513.4" width="20.6" height="1.85" fill="#ff8080"/>
<rect y="515.2" width="20.6" height="1.85" fill="#ff4c4c"/>
<rect y="517" width="20.6" height="2.65" fill="#ff6666"/>
<rect y="519.6" width="20.6" height="2.65" fill="#ff6666"/>
<rect y="522.2" width="20.6" height="1.25" fill="#ff9999"/>
<rect y="523.4" width="20.6" height="2.65" fill="#ff1a1a"/>
<rect y="526" width="20.6" height="1.25" fill="#ff3333"/>
<rect y="527.2" width="20.6" height="2.65" fill="#ff9999"/>
<rect y="529.8" width="20.6" height="2.65" fill="#ff9999"/>
<rect y="532.4" width="20.6" height="1.25" fill="#ff4c4c"/>
<rect y="533.6" width="20.6" height="2.25" fill="#ff6666"/>
<rect y="535.8" width="20.6" height="1.85" fill="#ff0000"/>
<rect y="537.6" width="20.6" height="2.25" fill="#ff8080"/>
<rect y="539.8" width="20.6" height="1.55" fill="#ff0000"/>
<rect y="541.3" width="20.6" height="2.25" fill="#ff8080"/>
<rect y="543.5" width="20.6" height="1.25" fill="#ff9999"/>
<rect y="544.7" width="20.6" height="1.25" fill="#ff6666"/>
<rect y="545.9" width="20.6" height="2.65" fill="#ff1a1a"/>
<rect y="548.5" width="20.6" height="1.85" fill="#ff3333"/>
<rect y="550.3" width="20.6" height="1.25" fill="#ff6666"/>
<rect y="551.5" width="20.6" height="0.85" fill="#ff8080"/>
<rect y="505.32" width="20.6" height="0.55" fill="#fff" opacity="0.75"/>
<rect y="513.12" width="20.6" height="0.55" fill="#fff" opacity="0.75"/>
<rect y="514.92" width="20.6" height="0.55" fill="#fff" opacity="0.75"/>
<rect y="516.72" width="20.6" height="0.55" fill="#fff" opacity="0.75"/>
<rect y="519.32" width="20.6" height="0.55" fill="#fff" opacity="0.75"/>
<rect y="521.92" width="20.6" height="0.55" fill="#fff" opacity="0.75"/>
<rect y="523.12" width="20.6" height="0.55" fill="#fff" opacity="0.75"/>
<rect y="525.73" width="20.6" height="0.55" fill="#fff" opacity="0.75"/>
<rect y="529.53" width="20.6" height="0.55" fill="#fff" opacity="0.75"/>
<rect y="532.13" width="20.6" height="0.55" fill="#fff" opacity="0.75"/>
<rect y="544.43" width="20.6" height="0.55" fill="#fff" opacity="0.75"/>
<rect y="545.63" width="20.6" height="0.55" fill="#fff" opacity="0.75"/>
<rect y="548.23" width="20.6" height="0.55" fill="#fff" opacity="0.75"/>
<rect y="550.03" width="20.6" height="0.55" fill="#fff" opacity="0.75"/>
<rect y="552.3" width="20.6" height="14.1" fill="#ff8080"/>
<rect y="552.3" width="20.6" height="1.85" fill="#ff8080"/>
<rect y="554.1" width="20.6" height="1.25" fill="#ff9999"/>
<rect y="555.3" width="20.6" height="2.25" fill="#ffe6e6"/>
<rect y="557.5" width="20.6" height="1.55" fill="#ffb2b2"/>
<rect y="559" width="20.6" height="1.55" fill="#ff1a1a"/>
<rect y="560.5" width="20.6" height="1.25" fill="#ff3333"/>
<rect y="561.7" width="20.6" height="1.55" fill="#ffb2b2"/>
<rect y="563.2" width="20.6" height="2.25" fill="#ff9999"/>
<rect y="565.4" width="20.6" height="1.05" fill="#ff8080"/>
<rect y="557.23" width="20.6" height="0.55" fill="#fff" opacity="0.75"/>
<rect y="558.73" width="20.6" height="0.55" fill="#fff" opacity="0.75"/>
<rect y="560.23" width="20.6" height="0.55" fill="#fff" opacity="0.75"/>
<rect y="561.43" width="20.6" height="0.55" fill="#fff" opacity="0.75"/>
<rect y="566.4" width="20.6" height="34.9" fill="#ff4c4c"/>
<rect y="566.4" width="20.6" height="1.25" fill="#ff1a1a"/>
<rect y="567.6" width="20.6" height="2.65" fill="#ff1a1a"/>
<rect y="570.2" width="20.6" height="1.25" fill="#ff6666"/>
<rect y="571.4" width="20.6" height="1.85" fill="#ff3333"/>
<rect y="573.2" width="20.6" height="1.85" fill="#ff6666"/>
<rect y="575" width="20.6" height="1.55" fill="#ff0000"/>
<rect y="576.5" width="20.6" height="2.65" fill="#ff6666"/>
<rect y="579.1" width="20.6" height="1.55" fill="#ff9999"/>
<rect y="580.6" width="20.6" height="1.55" fill="#ff3333"/>
<rect y="582.1" width="20.6" height="1.85" fill="#ff0000"/>
<rect y="583.9" width="20.6" height="2.65" fill="#ff6666"/>
<rect y="586.5" width="20.6" height="2.65" fill="#ff0000"/>
<rect y="589.1" width="20.6" height="1.55" fill="#ff3333"/>
<rect y="590.6" width="20.6" height="1.85" fill="#ff1a1a"/>
<rect y="592.4" width="20.6" height="1.55" fill="#ff0000"/>
<rect y="593.9" width="20.6" height="2.25" fill="#ff0000"/>
<rect y="596.1" width="20.6" height="2.65" fill="#ff4c4c"/>
<rect y="598.7" width="20.6" height="2.65" fill="#ff0000"/>
<rect y="567.33" width="20.6" height="0.55" fill="#fff" opacity="0.75"/>
<rect y="572.93" width="20.6" height="0.55" fill="#fff" opacity="0.75"/>
<rect y="576.23" width="20.6" height="0.55" fill="#fff" opacity="0.75"/>
<rect y="578.83" width="20.6" height="0.55" fill="#fff" opacity="0.75"/>
<rect y="583.62" width="20.6" height="0.55" fill="#fff" opacity="0.75"/>
<rect y="588.83" width="20.6" height="0.55" fill="#fff" opacity="0.75"/>
<rect y="590.33" width="20.6" height="0.55" fill="#fff" opacity="0.75"/>
<rect y="592.12" width="20.6" height="0.55" fill="#fff" opacity="0.75"/>
<rect y="593.62" width="20.6" height="0.55" fill="#fff" opacity="0.75"/>
<rect y="595.83" width="20.6" height="0.55" fill="#fff" opacity="0.75"/>
<rect y="598.43" width="20.6" height="0.55" fill="#fff" opacity="0.75"/>
<rect y="601.3" width="20.6" height="16" fill="#ff8080"/>
<rect y="601.3" width="20.6" height="1.85" fill="#ff9999"/>
<rect y="603.1" width="20.6" height="1.25" fill="#ff3333"/>
<rect y="604.3" width="20.6" height="2.25" fill="#ffcccc"/>
<rect y="606.5" width="20.6" height="2.65" fill="#ff8080"/>
<rect y="609.1" width="20.6" height="2.65" fill="#ff6666"/>
<rect y="611.7" width="20.6" height="1.85" fill="#ff9999"/>
<rect y="613.5" width="20.6" height="2.25" fill="#ff3333"/>
<rect y="615.7" width="20.6" height="1.55" fill="#ffb2b2"/>
<rect y="617.2" width="20.6" height="0.15" fill="#ff3333"/>
<rect y="602.82" width="20.6" height="0.55" fill="#fff" opacity="0.75"/>
<rect y="604.02" width="20.6" height="0.55" fill="#fff" opacity="0.75"/>
<rect y="606.23" width="20.6" height="0.55" fill="#fff" opacity="0.75"/>
<rect y="615.43" width="20.6" height="0.55" fill="#fff" opacity="0.75"/>
<rect y="617.3" width="20.6" height="20.7" fill="#ff4c4c"/>
<rect y="617.3" width="20.6" height="1.55" fill="#ff1a1a"/>
<rect y="618.8" width="20.6" height="2.25" fill="#ff8080"/>
<rect y="621" width="20.6" height="1.85" fill="#ff1a1a"/>
<rect y="622.8" width="20.6" height="1.55" fill="#ff0000"/>
<rect y="624.3" width="20.6" height="1.85" fill="#ff1a1a"/>
<rect y="626.1" width="20.6" height="1.55" fill="#ff3333"/>
<rect y="627.6" width="20.6" height="2.65" fill="#ff0000"/>
<rect y="630.2" width="20.6" height="2.65" fill="#ff4c4c"/>
<rect y="632.8" width="20.6" height="1.85" fill="#ff0000"/>
<rect y="634.6" width="20.6" height="1.85" fill="#ff6666"/>
<rect y="636.4" width="20.6" height="1.65" fill="#ff8080"/>
<rect y="618.52" width="20.6" height="0.55" fill="#fff" opacity="0.75"/>
<rect y="622.52" width="20.6" height="0.55" fill="#fff" opacity="0.75"/>
<rect y="624.02" width="20.6" height="0.55" fill="#fff" opacity="0.75"/>
<rect y="636.12" width="20.6" height="0.55" fill="#fff" opacity="0.75"/>
<rect y="638" width="20.6" height="16.2" fill="#ff8080"/>
<rect y="638" width="20.6" height="1.25" fill="#ff9999"/>
<rect y="639.2" width="20.6" height="1.85" fill="#ff6666"/>
<rect y="641" width="20.6" height="1.25" fill="#ff6666"/>
<rect y="642.2" width="20.6" height="2.25" fill="#ff4c4c"/>
<rect y="644.4" width="20.6" height="1.85" fill="#ff8080"/>
<rect y="646.2" width="20.6" height="1.85" fill="#ff3333"/>
<rect y="648" width="20.6" height="1.25" fill="#ff6666"/>
<rect y="649.2" width="20.6" height="2.25" fill="#ff8080"/>
<rect y="651.4" width="20.6" height="2.25" fill="#ffcccc"/>
<rect y="653.6" width="20.6" height="0.65" fill="#ff9999"/>
<rect y="640.73" width="20.6" height="0.55" fill="#fff" opacity="0.75"/>
<rect y="644.13" width="20.6" height="0.55" fill="#fff" opacity="0.75"/>
<rect y="645.93" width="20.6" height="0.55" fill="#fff" opacity="0.75"/>
<rect y="654.2" width="20.6" height="20.4" fill="#ff4c4c"/>
<rect y="654.2" width="20.6" height="1.55" fill="#ff1a1a"/>
<rect y="655.7" width="20.6" height="2.65" fill="#ff3333"/>
<rect y="658.3" width="20.6" height="2.65" fill="#ff3333"/>
<rect y="660.9" width="20.6" height="1.85" fill="#ff9999"/>
<rect y="662.7" width="20.6" height="1.55" fill="#ff6666"/>
<rect y="664.2" width="20.6" height="1.85" fill="#ff9999"/>
<rect y="666" width="20.6" height="1.55" fill="#ff9999"/>
<rect y="667.5" width="20.6" height="2.65" fill="#ff6666"/>
<rect y="670.1" width="20.6" height="2.25" fill="#ff4c4c"/>
<rect y="672.3" width="20.6" height="1.85" fill="#ff8080"/>
<rect y="674.1" width="20.6" height="0.55" fill="#ffe6e6"/>
<rect y="655.43" width="20.6" height="0.55" fill="#fff" opacity="0.75"/>
<rect y="658.03" width="20.6" height="0.55" fill="#fff" opacity="0.75"/>
<rect y="663.93" width="20.6" height="0.55" fill="#fff" opacity="0.75"/>
<rect y="665.73" width="20.6" height="0.55" fill="#fff" opacity="0.75"/>
<rect y="672.03" width="20.6" height="0.55" fill="#fff" opacity="0.75"/>
</g>
<g transform="translate(380.4,0)">
<rect y="353.5" width="20.9" height="71.3" fill="#ff4c4c"/>
<rect y="353.5" width="20.9" height="1.25" fill="#ff1a1a"/>
<rect y="354.7" width="20.9" height="1.25" fill="#ff0000"/>
<rect y="355.9" width="20.9" height="2.65" fill="#ff1a1a"/>
<rect y="358.5" width="20.9" height="1.85" fill="#ff4c4c"/>
<rect y="360.3" width="20.9" height="2.65" fill="#ff6666"/>
<rect y="362.9" width="20.9" height="2.65" fill="#ff1a1a"/>
<rect y="365.5" width="20.9" height="2.25" fill="#ff8080"/>
<rect y="367.7" width="20.9" height="1.55" fill="#ff1a1a"/>
<rect y="369.2" width="20.9" height="1.25" fill="#ff0000"/>
<rect y="370.4" width="20.9" height="1.85" fill="#ff3333"/>
<rect y="372.2" width="20.9" height="1.25" fill="#ff4c4c"/>
<rect y="373.4" width="20.9" height="1.85" fill="#ff6666"/>
<rect y="375.2" width="20.9" height="1.25" fill="#ff8080"/>
<rect y="376.4" width="20.9" height="2.25" fill="#ffcccc"/>
<rect y="378.6" width="20.9" height="1.25" fill="#ffb2b2"/>
<rect y="379.8" width="20.9" height="1.85" fill="#ff4c4c"/>
<rect y="381.6" width="20.9" height="2.65" fill="#ff3333"/>
<rect y="384.2" width="20.9" height="2.65" fill="#ff3333"/>
<rect y="386.8" width="20.9" height="2.25" fill="#ff6666"/>
<rect y="389" width="20.9" height="2.25" fill="#ff0000"/>
<rect y="391.2" width="20.9" height="1.85" fill="#ffcccc"/>
<rect y="393" width="20.9" height="2.65" fill="#ff4c4c"/>
<rect y="395.6" width="20.9" height="1.55" fill="#ff0000"/>
<rect y="397.1" width="20.9" height="2.25" fill="#ff1a1a"/>
<rect y="399.3" width="20.9" height="2.65" fill="#ff6666"/>
<rect y="401.9" width="20.9" height="2.65" fill="#ff4c4c"/>
<rect y="404.5" width="20.9" height="1.85" fill="#ffb2b2"/>
<rect y="406.3" width="20.9" height="1.55" fill="#ff8080"/>
<rect y="407.8" width="20.9" height="2.25" fill="#ff0000"/>
<rect y="410" width="20.9" height="1.55" fill="#ff6666"/>
<rect y="411.5" width="20.9" height="1.55" fill="#ff3333"/>
<rect y="413" width="20.9" height="1.55" fill="#ff6666"/>
<rect y="414.5" width="20.9" height="1.25" fill="#ff6666"/>
<rect y="415.7" width="20.9" height="1.85" fill="#ff8080"/>
<rect y="417.5" width="20.9" height="2.65" fill="#ff8080"/>
<rect y="420.1" width="20.9" height="1.85" fill="#ff4c4c"/>
<rect y="421.9" width="20.9" height="1.85" fill="#ff4c4c"/>
<rect y="423.7" width="20.9" height="1.15" fill="#ff9999"/>
<rect y="362.63" width="20.9" height="0.55" fill="#fff" opacity="0.75"/>
<rect y="367.43" width="20.9" height="0.55" fill="#fff" opacity="0.75"/>
<rect y="368.93" width="20.9" height="0.55" fill="#fff" opacity="0.75"/>
<rect y="370.13" width="20.9" height="0.55" fill="#fff" opacity="0.75"/>
<rect y="373.13" width="20.9" height="0.55" fill="#fff" opacity="0.75"/>
<rect y="383.93" width="20.9" height="0.55" fill="#fff" opacity="0.75"/>
<rect y="388.73" width="20.9" height="0.55" fill="#fff" opacity="0.75"/>
<rect y="390.93" width="20.9" height="0.55" fill="#fff" opacity="0.75"/>
<rect y="395.33" width="20.9" height="0.55" fill="#fff" opacity="0.75"/>
<rect y="396.83" width="20.9" height="0.55" fill="#fff" opacity="0.75"/>
<rect y="399.03" width="20.9" height="0.55" fill="#fff" opacity="0.75"/>
<rect y="401.63" width="20.9" height="0.55" fill="#fff" opacity="0.75"/>
<rect y="406.03" width="20.9" height="0.55" fill="#fff" opacity="0.75"/>
<rect y="409.73" width="20.9" height="0.55" fill="#fff" opacity="0.75"/>
<rect y="415.43" width="20.9" height="0.55" fill="#fff" opacity="0.75"/>
<rect y="417.23" width="20.9" height="0.55" fill="#fff" opacity="0.75"/>
<rect y="424.8" width="20.9" height="12.2" fill="#ff3333"/>
<rect y="424.8" width="20.9" height="1.55" fill="#ff4c4c"/>
<rect y="426.3" width="20.9" height="1.55" fill="#ff4c4c"/>
<rect y="427.8" width="20.9" height="2.25" fill="#ff0000"/>
<rect y="430" width="20.9" height="2.25" fill="#ff1a1a"/>
<rect y="432.2" width="20.9" height="1.25" fill="#ff8080"/>
<rect y="433.4" width="20.9" height="1.55" fill="#ff4c4c"/>
<rect y="434.9" width="20.9" height="2.15" fill="#ff3333"/>
<rect y="431.93" width="20.9" height="0.55" fill="#fff" opacity="0.75"/>
<rect y="433.12" width="20.9" height="0.55" fill="#fff" opacity="0.75"/>
<rect y="434.62" width="20.9" height="0.55" fill="#fff" opacity="0.75"/>
<rect y="437" width="20.9" height="53.8" fill="#ff4c4c"/>
<rect y="437" width="20.9" height="2.25" fill="#ff4c4c"/>
<rect y="439.2" width="20.9" height="1.55" fill="#ff3333"/>
<rect y="440.7" width="20.9" height="2.65" fill="#ff8080"/>
<rect y="443.3" width="20.9" height="1.25" fill="#ff6666"/>
<rect y="444.5" width="20.9" height="1.55" fill="#ffcccc"/>
<rect y="446" width="20.9" height="1.25" fill="#ff1a1a"/>
<rect y="447.2" width="20.9" height="1.55" fill="#ff0000"/>
<rect y="448.7" width="20.9" height="2.65" fill="#ffe6e6"/>
<rect y="451.3" width="20.9" height="2.65" fill="#ff3333"/>
<rect y="453.9" width="20.9" height="1.25" fill="#ff1a1a"/>
<rect y="455.1" width="20.9" height="1.55" fill="#ff4c4c"/>
<rect y="456.6" width="20.9" height="1.25" fill="#ff6666"/>
<rect y="457.8" width="20.9" height="2.65" fill="#ff3333"/>
<rect y="460.4" width="20.9" height="1.25" fill="#ff4c4c"/>
<rect y="461.6" width="20.9" height="1.25" fill="#ff4c4c"/>
<rect y="462.8" width="20.9" height="2.25" fill="#ff1a1a"/>
<rect y="465" width="20.9" height="1.55" fill="#ff3333"/>
<rect y="466.5" width="20.9" height="1.55" fill="#ffb2b2"/>
<rect y="468" width="20.9" height="1.25" fill="#ff4c4c"/>
<rect y="469.2" width="20.9" height="1.25" fill="#ff3333"/>
<rect y="470.4" width="20.9" height="1.55" fill="#ff6666"/>
<rect y="471.9" width="20.9" height="2.65" fill="#ff1a1a"/>
<rect y="474.5" width="20.9" height="1.85" fill="#ff9999"/>
<rect y="476.3" width="20.9" height="2.25" fill="#ff1a1a"/>
<rect y="478.5" width="20.9" height="2.65" fill="#ff3333"/>
<rect y="481.1" width="20.9" height="1.55" fill="#ffb2b2"/>
<rect y="482.6" width="20.9" height="2.25" fill="#ff4c4c"/>
<rect y="484.8" width="20.9" height="2.65" fill="#ff3333"/>
<rect y="487.4" width="20.9" height="2.65" fill="#ff6666"/>
<rect y="490" width="20.9" height="0.85" fill="#ff4c4c"/>
<rect y="440.43" width="20.9" height="0.55" fill="#fff" opacity="0.75"/>
<rect y="443.03" width="20.9" height="0.55" fill="#fff" opacity="0.75"/>
<rect y="444.23" width="20.9" height="0.55" fill="#fff" opacity="0.75"/>
<rect y="446.93" width="20.9" height="0.55" fill="#fff" opacity="0.75"/>
<rect y="451.03" width="20.9" height="0.55" fill="#fff" opacity="0.75"/>
<rect y="453.63" width="20.9" height="0.55" fill="#fff" opacity="0.75"/>
<rect y="457.53" width="20.9" height="0.55" fill="#fff" opacity="0.75"/>
<rect y="460.13" width="20.9" height="0.55" fill="#fff" opacity="0.75"/>
<rect y="461.33" width="20.9" height="0.55" fill="#fff" opacity="0.75"/>
<rect y="462.53" width="20.9" height="0.55" fill="#fff" opacity="0.75"/>
<rect y="464.73" width="20.9" height="0.55" fill="#fff" opacity="0.75"/>
<rect y="466.23" width="20.9" height="0.55" fill="#fff" opacity="0.75"/>
<rect y="471.62" width="20.9" height="0.55" fill="#fff" opacity="0.75"/>
<rect y="474.23" width="20.9" height="0.55" fill="#fff" opacity="0.75"/>
<rect y="480.83" width="20.9" height="0.55" fill="#fff" opacity="0.75"/>
<rect y="484.53" width="20.9" height="0.55" fill="#fff" opacity="0.75"/>
<rect y="490.8" width="20.9" height="12.4" fill="#ff3333"/>
<rect y="490.8" width="20.9" height="1.25" fill="#ff0000"/>
<rect y="492" width="20.9" height="1.55" fill="#ff3333"/>
<rect y="493.5" width="20.9" height="1.55" fill="#ff1a1a"/>
<rect y="495" width="20.9" height="1.55" fill="#ff4c4c"/>
<rect y="496.5" width="20.9" height="2.25" fill="#ff6666"/>
<rect y="498.7" width="20.9" height="2.25" fill="#ff6666"/>
<rect y="500.9" width="20.9" height="2.35" fill="#ff4c4c"/>
<rect y="493.23" width="20.9" height="0.55" fill="#fff" opacity="0.75"/>
<rect y="496.23" width="20.9" height="0.55" fill="#fff" opacity="0.75"/>
<rect y="498.43" width="20.9" height="0.55" fill="#fff" opacity="0.75"/>
<rect y="503.2" width="20.9" height="49.1" fill="#ff4c4c"/>
<rect y="503.2" width="20.9" height="1.55" fill="#ff6666"/>
<rect y="504.7" width="20.9" height="1.25" fill="#ff6666"/>
<rect y="505.9" width="20.9" height="2.65" fill="#ff0000"/>
<rect y="508.5" width="20.9" height="1.55" fill="#ff0000"/>
<rect y="510" width="20.9" height="1.85" fill="#ff0000"/>
<rect y="511.8" width="20.9" height="1.85" fill="#ff6666"/>
<rect y="513.6" width="20.9" height="2.25" fill="#ff9999"/>
<rect y="515.8" width="20.9" height="1.25" fill="#ff8080"/>
<rect y="517" width="20.9" height="2.25" fill="#ff4c4c"/>
<rect y="519.2" width="20.9" height="1.55" fill="#ff6666"/>
<rect y="520.7" width="20.9" height="2.25" fill="#ff3333"/>
<rect y="522.9" width="20.9" height="2.65" fill="#ff4c4c"/>
<rect y="525.5" width="20.9" height="2.25" fill="#ff3333"/>
<rect y="527.7" width="20.9" height="1.55" fill="#ff3333"/>
<rect y="529.2" width="20.9" height="1.85" fill="#ff1a1a"/>
<rect y="531" width="20.9" height="2.65" fill="#ff3333"/>
<rect y="533.6" width="20.9" height="1.55" fill="#ff3333"/>
<rect y="535.1" width="20.9" height="1.25" fill="#ff4c4c"/>
<rect y="536.3" width="20.9" height="1.85" fill="#ff4c4c"/>
<rect y="538.1" width="20.9" height="2.25" fill="#ff4c4c"/>
<rect y="540.3" width="20.9" height="1.25" fill="#ff6666"/>
<rect y="541.5" width="20.9" height="2.65" fill="#ff4c4c"/>
<rect y="544.1" width="20.9" height="1.55" fill="#ff4c4c"/>
<rect y="545.6" width="20.9" height="1.25" fill="#ff3333"/>
<rect y="546.8" width="20.9" height="1.25" fill="#ff4c4c"/>
<rect y="548" width="20.9" height="2.65" fill="#ff3333"/>
<rect y="550.6" width="20.9" height="1.75" fill="#ff0000"/>
<rect y="504.43" width="20.9" height="0.55" fill="#fff" opacity="0.75"/>
<rect y="505.62" width="20.9" height="0.55" fill="#fff" opacity="0.75"/>
<rect y="509.73" width="20.9" height="0.55" fill="#fff" opacity="0.75"/>
<rect y="511.53" width="20.9" height="0.55" fill="#fff" opacity="0.75"/>
<rect y="518.93" width="20.9" height="0.55" fill="#fff" opacity="0.75"/>
<rect y="520.43" width="20.9" height="0.55" fill="#fff" opacity="0.75"/>
<rect y="522.63" width="20.9" height="0.55" fill="#fff" opacity="0.75"/>
<rect y="525.23" width="20.9" height="0.55" fill="#fff" opacity="0.75"/>
<rect y="527.43" width="20.9" height="0.55" fill="#fff" opacity="0.75"/>
<rect y="530.73" width="20.9" height="0.55" fill="#fff" opacity="0.75"/>
<rect y="533.33" width="20.9" height="0.55" fill="#fff" opacity="0.75"/>
<rect y="534.83" width="20.9" height="0.55" fill="#fff" opacity="0.75"/>
<rect y="536.03" width="20.9" height="0.55" fill="#fff" opacity="0.75"/>
<rect y="541.23" width="20.9" height="0.55" fill="#fff" opacity="0.75"/>
<rect y="543.83" width="20.9" height="0.55" fill="#fff" opacity="0.75"/>
<rect y="546.53" width="20.9" height="0.55" fill="#fff" opacity="0.75"/>
<rect y="550.33" width="20.9" height="0.55" fill="#fff" opacity="0.75"/>
<rect y="552.3" width="20.9" height="14.1" fill="#ff3333"/>
<rect y="552.3" width="20.9" height="2.25" fill="#ff3333"/>
<rect y="554.5" width="20.9" height="1.25" fill="#ff1a1a"/>
<rect y="555.7" width="20.9" height="1.25" fill="#ff8080"/>
<rect y="556.9" width="20.9" height="1.25" fill="#ff4c4c"/>
<rect y="558.1" width="20.9" height="1.25" fill="#ff6666"/>
<rect y="559.3" width="20.9" height="1.85" fill="#ff1a1a"/>
<rect y="561.1" width="20.9" height="1.85" fill="#ff1a1a"/>
<rect y="562.9" width="20.9" height="2.65" fill="#ff0000"/>
<rect y="565.5" width="20.9" height="0.95" fill="#ff4c4c"/>
<rect y="556.63" width="20.9" height="0.55" fill="#fff" opacity="0.75"/>
<rect y="559.03" width="20.9" height="0.55" fill="#fff" opacity="0.75"/>
<rect y="562.63" width="20.9" height="0.55" fill="#fff" opacity="0.75"/>
<rect y="565.23" width="20.9" height="0.55" fill="#fff" opacity="0.75"/>
<rect y="566.4" width="20.9" height="34.9" fill="#ff4c4c"/>
<rect y="566.4" width="20.9" height="1.25" fill="#ff0000"/>
<rect y="567.6" width="20.9" height="2.65" fill="#ff8080"/>
<rect y="570.2" width="20.9" height="2.65" fill="#ff4c4c"/>
<rect y="572.8" width="20.9" height="1.85" fill="#ff4c4c"/>
<rect y="574.6" width="20.9" height="2.65" fill="#ff8080"/>
<rect y="577.2" width="20.9" height="2.65" fill="#ff0000"/>
<rect y="579.8" width="20.9" height="1.85" fill="#ffb2b2"/>
<rect y="581.6" width="20.9" height="2.65" fill="#ff4c4c"/>
<rect y="584.2" width="20.9" height="1.55" fill="#ff6666"/>
<rect y="585.7" width="20.9" height="2.65" fill="#ff1a1a"/>
<rect y="588.3" width="20.9" height="1.85" fill="#ff4c4c"/>
<rect y="590.1" width="20.9" height="2.65" fill="#ff1a1a"/>
<rect y="592.7" width="20.9" height="1.25" fill="#ff6666"/>
<rect y="593.9" width="20.9" height="1.25" fill="#ff3333"/>
<rect y="595.1" width="20.9" height="2.25" fill="#ff0000"/>
<rect y="597.3" width="20.9" height="1.55" fill="#ff1a1a"/>
<rect y="598.8" width="20.9" height="1.55" fill="#ff6666"/>
<rect y="600.3" width="20.9" height="1.05" fill="#ff4c4c"/>
<rect y="567.33" width="20.9" height="0.55" fill="#fff" opacity="0.75"/>
<rect y="569.93" width="20.9" height="0.55" fill="#fff" opacity="0.75"/>
<rect y="574.33" width="20.9" height="0.55" fill="#fff" opacity="0.75"/>
<rect y="576.93" width="20.9" height="0.55" fill="#fff" opacity="0.75"/>
<rect y="583.93" width="20.9" height="0.55" fill="#fff" opacity="0.75"/>
<rect y="589.83" width="20.9" height="0.55" fill="#fff" opacity="0.75"/>
<rect y="592.43" width="20.9" height="0.55" fill="#fff" opacity="0.75"/>
<rect y="593.63" width="20.9" height="0.55" fill="#fff" opacity="0.75"/>
<rect y="594.83" width="20.9" height="0.55" fill="#fff" opacity="0.75"/>
<rect y="597.03" width="20.9" height="0.55" fill="#fff" opacity="0.75"/>
<rect y="600.03" width="20.9" height="0.55" fill="#fff" opacity="0.75"/>
<rect y="601.3" width="20.9" height="16" fill="#ff3333"/>
<rect y="601.3" width="20.9" height="2.25" fill="#ff8080"/>
<rect y="603.5" width="20.9" height="2.25" fill="#ff4c4c"/>
<rect y="605.7" width="20.9" height="2.65" fill="#ff3333"/>
<rect y="608.3" width="20.9" height="2.65" fill="#ff9999"/>
<rect y="610.9" width="20.9" height="1.25" fill="#ff1a1a"/>
<rect y="612.1" width="20.9" height="1.55" fill="#ff0000"/>
<rect y="613.6" width="20.9" height="2.25" fill="#ff8080"/>
<rect y="615.8" width="20.9" height="1.55" fill="#ff9999"/>
<rect y="610.63" width="20.9" height="0.55" fill="#fff" opacity="0.75"/>
<rect y="613.33" width="20.9" height="0.55" fill="#fff" opacity="0.75"/>
<rect y="615.53" width="20.9" height="0.55" fill="#fff" opacity="0.75"/>
<rect y="617.3" width="20.9" height="20.7" fill="#ff4c4c"/>
<rect y="617.3" width="20.9" height="1.55" fill="#ffb2b2"/>
<rect y="618.8" width="20.9" height="1.55" fill="#ff3333"/>
<rect y="620.3" width="20.9" height="1.55" fill="#ff3333"/>
<rect y="621.8" width="20.9" height="1.25" fill="#ff6666"/>
<rect y="623" width="20.9" height="1.85" fill="#ff4c4c"/>
<rect y="624.8" width="20.9" height="1.85" fill="#ff6666"/>
<rect y="626.6" width="20.9" height="1.25" fill="#ff1a1a"/>
<rect y="627.8" width="20.9" height="1.55" fill="#ff4c4c"/>
<rect y="629.3" width="20.9" height="2.25" fill="#ff4c4c"/>
<rect y="631.5" width="20.9" height="1.25" fill="#ff1a1a"/>
<rect y="632.7" width="20.9" height="1.25" fill="#ff4c4c"/>
<rect y="633.9" width="20.9" height="2.25" fill="#ff6666"/>
<rect y="636.1" width="20.9" height="1.55" fill="#ff9999"/>
<rect y="637.6" width="20.9" height="0.45" fill="#ff6666"/>
<rect y="621.52" width="20.9" height="0.55" fill="#fff" opacity="0.75"/>
<rect y="626.32" width="20.9" height="0.55" fill="#fff" opacity="0.75"/>
<rect y="632.43" width="20.9" height="0.55" fill="#fff" opacity="0.75"/>
<rect y="635.83" width="20.9" height="0.55" fill="#fff" opacity="0.75"/>
<rect y="638" width="20.9" height="16.2" fill="#ff3333"/>
<rect y="638" width="20.9" height="1.85" fill="#ff0000"/>
<rect y="639.8" width="20.9" height="1.25" fill="#ff1a1a"/>
<rect y="641" width="20.9" height="1.25" fill="#ff4c4c"/>
<rect y="642.2" width="20.9" height="2.65" fill="#ff1a1a"/>
<rect y="644.8" width="20.9" height="2.25" fill="#ff8080"/>
<rect y="647" width="20.9" height="2.65" fill="#ff6666"/>
<rect y="649.6" width="20.9" height="1.25" fill="#ff3333"/>
<rect y="650.8" width="20.9" height="2.65" fill="#ff1a1a"/>
<rect y="653.4" width="20.9" height="0.85" fill="#ff8080"/>
<rect y="644.53" width="20.9" height="0.55" fill="#fff" opacity="0.75"/>
<rect y="646.73" width="20.9" height="0.55" fill="#fff" opacity="0.75"/>
<rect y="649.33" width="20.9" height="0.55" fill="#fff" opacity="0.75"/>
<rect y="653.13" width="20.9" height="0.55" fill="#fff" opacity="0.75"/>
<rect y="654.2" width="20.9" height="20.4" fill="#ff4c4c"/>
<rect y="654.2" width="20.9" height="1.55" fill="#ff3333"/>
<rect y="655.7" width="20.9" height="2.65" fill="#ff9999"/>
<rect y="658.3" width="20.9" height="1.25" fill="#ff1a1a"/>
<rect y="659.5" width="20.9" height="1.85" fill="#ff3333"/>
<rect y="661.3" width="20.9" height="2.25" fill="#ff3333"/>
<rect y="663.5" width="20.9" height="2.65" fill="#ff8080"/>
<rect y="666.1" width="20.9" height="1.25" fill="#ff4c4c"/>
<rect y="667.3" width="20.9" height="1.55" fill="#ff6666"/>
<rect y="668.8" width="20.9" height="1.55" fill="#ff8080"/>
<rect y="670.3" width="20.9" height="2.25" fill="#ff4c4c"/>
<rect y="672.5" width="20.9" height="1.25" fill="#ff6666"/>
<rect y="673.7" width="20.9" height="0.95" fill="#ff6666"/>
<rect y="655.43" width="20.9" height="0.55" fill="#fff" opacity="0.75"/>
<rect y="658.03" width="20.9" height="0.55" fill="#fff" opacity="0.75"/>
<rect y="663.23" width="20.9" height="0.55" fill="#fff" opacity="0.75"/>
<rect y="665.83" width="20.9" height="0.55" fill="#fff" opacity="0.75"/>
<rect y="667.03" width="20.9" height="0.55" fill="#fff" opacity="0.75"/>
<rect y="668.53" width="20.9" height="0.55" fill="#fff" opacity="0.75"/>
<rect y="672.23" width="20.9" height="0.55" fill="#fff" opacity="0.75"/>
</g>
</g>
<rect x="117.5" y="492" width="132" height="1" fill="#151515"/>
<rect x="117.5" y="496" width="132" height="1" fill="#151515"/>
<rect x="117.5" y="536" width="132" height="1" fill="#151515"/>
<rect x="117.5" y="542" width="132" height="1" fill="#151515"/>
<rect x="117.5" y="573" width="132" height="1" fill="#151515"/>
<rect x="117.5" y="580" width="132" height="1" fill="#151515"/>
<rect x="117.5" y="607" width="132" height="1" fill="#151515"/>
<rect x="117.5" y="616" width="132" height="1" fill="#151515"/>
<rect x="117.5" y="641" width="132" height="1" fill="#151515"/>
<rect x="117.5" y="652" width="132" height="1" fill="#151515"/>
<rect x="270.4" y="424" width="131.2" height="1" fill="#151515"/>
<rect x="270.4" y="437" width="131.2" height="1" fill="#151515"/>
<rect x="270.4" y="490" width="131.2" height="1" fill="#151515"/>
<rect x="270.4" y="503" width="131.2" height="1" fill="#151515"/>
<rect x="270.4" y="552" width="131.2" height="1" fill="#151515"/>
<rect x="270.4" y="566" width="131.2" height="1" fill="#151515"/>
<rect x="270.4" y="601" width="131.2" height="1" fill="#151515"/>
<rect x="270.4" y="617" width="131.2" height="1" fill="#151515"/>
<rect x="270.4" y="638" width="131.2" height="1" fill="#151515"/>
<rect x="270.4" y="654" width="131.2" height="1" fill="#151515"/>
<line x1="117.5" y1="353.5" x2="117.5" y2="674.6" stroke="#111" stroke-width="1"/>
<line x1="183.6" y1="353.5" x2="183.6" y2="674.6" stroke="#111" stroke-width="1"/>
<line x1="249.5" y1="353.5" x2="249.5" y2="674.6" stroke="#111" stroke-width="1"/>
<line x1="270.4" y1="353.5" x2="270.4" y2="674.6" stroke="#111" stroke-width="1"/>
<line x1="336.5" y1="353.5" x2="336.5" y2="674.6" stroke="#111" stroke-width="1"/>
<line x1="401.6" y1="353.5" x2="401.6" y2="674.6" stroke="#111" stroke-width="1"/>
<line x1="7" y1="353.5" x2="512.5" y2="353.5" stroke="#333" stroke-width="1"/>
<line x1="7" y1="674.6" x2="512.5" y2="674.6" stroke="#333" stroke-width="1.1"/>
<line x1="7.1" y1="353.5" x2="7.1" y2="674.6" stroke="#333" stroke-width="1"/>
<line x1="512.5" y1="353.5" x2="512.5" y2="674.6" stroke="#333" stroke-width="1"/>
<polyline points="7.1,426.2 86.7,426.2 117.5,492" fill="none" stroke="#262626" stroke-width="1.1" stroke-linejoin="miter"/>
<polyline points="7.1,465.5 86.7,465.5 117.5,496" fill="none" stroke="#262626" stroke-width="1.1" stroke-linejoin="miter"/>
<polyline points="7.1,492.4 86.7,492.4 117.5,536" fill="none" stroke="#262626" stroke-width="1.1" stroke-linejoin="miter"/>
<polyline points="7.1,520 86.7,520 117.5,542.6" fill="none" stroke="#262626" stroke-width="1.1" stroke-linejoin="miter"/>
<polyline points="7.1,546.5 86.7,546.5 117.5,573.6" fill="none" stroke="#262626" stroke-width="1.1" stroke-linejoin="miter"/>
<polyline points="7.1,572.3 86.7,572.3 117.5,580.6" fill="none" stroke="#262626" stroke-width="1.1" stroke-linejoin="miter"/>
<polyline points="7.1,596 86.7,596 117.5,607.3" fill="none" stroke="#262626" stroke-width="1.1" stroke-linejoin="miter"/>
<polyline points="7.1,618.2 86.7,618.2 117.5,616" fill="none" stroke="#262626" stroke-width="1.1" stroke-linejoin="miter"/>
<polyline points="7.1,635.4 86.7,635.4 117.5,641.7" fill="none" stroke="#262626" stroke-width="1.1" stroke-linejoin="miter"/>
<polyline points="7.1,660.2 86.7,660.2 117.5,652" fill="none" stroke="#262626" stroke-width="1.1" stroke-linejoin="miter"/>
<polyline points="512.5,381.9 433.4,381.9 401.6,424.8" fill="none" stroke="#262626" stroke-width="1.1" stroke-linejoin="miter"/>
<polyline points="512.5,413.4 433.4,413.4 401.6,437" fill="none" stroke="#262626" stroke-width="1.1" stroke-linejoin="miter"/>
<polyline points="512.5,439.3 433.4,439.3 401.6,490.8" fill="none" stroke="#262626" stroke-width="1.1" stroke-linejoin="miter"/>
<polyline points="512.5,476.6 433.4,476.6 401.6,503.2" fill="none" stroke="#262626" stroke-width="1.1" stroke-linejoin="miter"/>
<polyline points="512.5,505.5 433.4,505.5 401.6,552.3" fill="none" stroke="#262626" stroke-width="1.1" stroke-linejoin="miter"/>
<polyline points="512.5,546.3 433.4,546.3 401.6,566.4" fill="none" stroke="#262626" stroke-width="1.1" stroke-linejoin="miter"/>
<polyline points="512.5,581.7 433.4,581.7 401.6,601.3" fill="none" stroke="#262626" stroke-width="1.1" stroke-linejoin="miter"/>
<polyline points="512.5,609.8 433.4,609.8 401.6,617.3" fill="none" stroke="#262626" stroke-width="1.1" stroke-linejoin="miter"/>
<polyline points="512.5,630 433.4,630 401.6,638" fill="none" stroke="#262626" stroke-width="1.1" stroke-linejoin="miter"/>
<polyline points="512.5,657.4 433.4,657.4 401.6,654.2" fill="none" stroke="#262626" stroke-width="1.1" stroke-linejoin="miter"/>
<text x="10.2" y="381.8" font-size="7.75" fill="#231f20" stroke="#231f20" stroke-width="0.19" textLength="80.4" lengthAdjust="spacingAndGlyphs">Immune system process</text>
<text x="10.2" y="442.2" font-size="7.75" fill="#231f20" stroke="#231f20" stroke-width="0.19" textLength="62.3" lengthAdjust="spacingAndGlyphs">Blood coagulation,</text>
<text x="10.2" y="452.3" font-size="7.75" fill="#231f20" stroke="#231f20" stroke-width="0.19" textLength="66.6" lengthAdjust="spacingAndGlyphs">fibrin clot formation</text>
<text x="10.2" y="476.2" font-size="7.75" fill="#231f20" stroke="#231f20" stroke-width="0.19" textLength="34.2" lengthAdjust="spacingAndGlyphs">Leukocyte</text>
<text x="10.2" y="486" font-size="7.75" fill="#231f20" stroke="#231f20" stroke-width="0.19" textLength="47.6" lengthAdjust="spacingAndGlyphs">differentiation</text>
<text x="10.2" y="502.7" font-size="7.75" fill="#231f20" stroke="#231f20" stroke-width="0.19" textLength="40.6" lengthAdjust="spacingAndGlyphs">Acylglycerol</text>
<text x="10.2" y="512.8" font-size="7.75" fill="#231f20" stroke="#231f20" stroke-width="0.19" textLength="56.7" lengthAdjust="spacingAndGlyphs">catabolic process</text>
<text x="10.2" y="531.8" font-size="7.75" fill="#231f20" stroke="#231f20" stroke-width="0.19" textLength="36.8" lengthAdjust="spacingAndGlyphs">Lympocyte</text>
<text x="10.2" y="541.6" font-size="7.75" fill="#231f20" stroke="#231f20" stroke-width="0.19" textLength="47.6" lengthAdjust="spacingAndGlyphs">differentiation</text>
<text x="10.2" y="556.9" font-size="7.75" fill="#231f20" stroke="#231f20" stroke-width="0.19" textLength="41.2" lengthAdjust="spacingAndGlyphs">Neutral lipid</text>
<text x="10.2" y="567" font-size="7.75" fill="#231f20" stroke="#231f20" stroke-width="0.19" textLength="56.7" lengthAdjust="spacingAndGlyphs">catabolic process</text>
<text x="10.2" y="581.2" font-size="7.75" fill="#231f20" stroke="#231f20" stroke-width="0.19" textLength="34.2" lengthAdjust="spacingAndGlyphs">Leukocyte</text>
<text x="10.2" y="591" font-size="7.75" fill="#231f20" stroke="#231f20" stroke-width="0.19" textLength="41.2" lengthAdjust="spacingAndGlyphs">proliferation</text>
<text x="10.2" y="604.6" font-size="7.75" fill="#231f20" stroke="#231f20" stroke-width="0.19" textLength="40.1" lengthAdjust="spacingAndGlyphs">Glycerolipid</text>
<text x="10.2" y="614.7" font-size="7.75" fill="#231f20" stroke="#231f20" stroke-width="0.19" textLength="56.7" lengthAdjust="spacingAndGlyphs">catabolic process</text>
<text x="10.2" y="628.8" font-size="7.75" fill="#231f20" stroke="#231f20" stroke-width="0.19" textLength="79.9" lengthAdjust="spacingAndGlyphs">Lympocyte proliferation</text>
<text x="10.2" y="645.8" font-size="7.75" fill="#231f20" stroke="#231f20" stroke-width="0.19" textLength="41.8" lengthAdjust="spacingAndGlyphs">Triglycerides</text>
<text x="10.2" y="655.7" font-size="7.75" fill="#231f20" stroke="#231f20" stroke-width="0.19" textLength="60.5" lengthAdjust="spacingAndGlyphs">metabolic process</text>
<text x="10.2" y="670.7" font-size="7.75" fill="#231f20" stroke="#231f20" stroke-width="0.19" textLength="49.3" lengthAdjust="spacingAndGlyphs">Lipid transport</text>
<text x="471" y="372.2" font-size="7.75" text-anchor="middle" fill="#231f20" stroke="#231f20" stroke-width="0.19" textLength="35.9" lengthAdjust="spacingAndGlyphs">Translation</text>
<text x="471" y="390.6" font-size="7.75" text-anchor="middle" fill="#231f20" stroke="#231f20" stroke-width="0.19" textLength="44.4" lengthAdjust="spacingAndGlyphs">ATP synthesis</text>
<text x="471" y="401" font-size="7.75" text-anchor="middle" fill="#231f20" stroke="#231f20" stroke-width="0.19" textLength="56.4" lengthAdjust="spacingAndGlyphs">coupled electron</text>
<text x="471" y="410.6" font-size="7.75" text-anchor="middle" fill="#231f20" stroke="#231f20" stroke-width="0.19" textLength="30.6" lengthAdjust="spacingAndGlyphs">transport</text>
<text x="471" y="423.9" font-size="7.75" text-anchor="middle" fill="#231f20" stroke="#231f20" stroke-width="0.19" textLength="32.7" lengthAdjust="spacingAndGlyphs">Ribosome</text>
<text x="471" y="433.8" font-size="7.75" text-anchor="middle" fill="#231f20" stroke="#231f20" stroke-width="0.19" textLength="36.3" lengthAdjust="spacingAndGlyphs">biogenesis</text>
<text x="471" y="450.8" font-size="7.75" text-anchor="middle" fill="#231f20" stroke="#231f20" stroke-width="0.19" textLength="46.4" lengthAdjust="spacingAndGlyphs">Mitochondrial</text>
<text x="471" y="460.4" font-size="7.75" text-anchor="middle" fill="#231f20" stroke="#231f20" stroke-width="0.19" textLength="56.3" lengthAdjust="spacingAndGlyphs">respiratory chain</text>
<text x="471" y="470.8" font-size="7.75" text-anchor="middle" fill="#231f20" stroke="#231f20" stroke-width="0.19" textLength="52.6" lengthAdjust="spacingAndGlyphs">complex 1 asm.</text>
<text x="471" y="487.9" font-size="7.75" text-anchor="middle" fill="#231f20" stroke="#231f20" stroke-width="0.19" textLength="60" lengthAdjust="spacingAndGlyphs">Ribose phosphate</text>
<text x="471" y="497.8" font-size="7.75" text-anchor="middle" fill="#231f20" stroke="#231f20" stroke-width="0.19" textLength="60.3" lengthAdjust="spacingAndGlyphs">metabolic process</text>
<text x="471" y="523" font-size="7.75" text-anchor="middle" fill="#231f20" stroke="#231f20" stroke-width="0.19" textLength="66.5" lengthAdjust="spacingAndGlyphs">Respiratroy electron</text>
<text x="471" y="532.6" font-size="7.75" text-anchor="middle" fill="#231f20" stroke="#231f20" stroke-width="0.19" textLength="50.4" lengthAdjust="spacingAndGlyphs">transport chain</text>
<text x="471" y="562.3" font-size="7.75" text-anchor="middle" fill="#231f20" stroke="#231f20" stroke-width="0.19" textLength="47.3" lengthAdjust="spacingAndGlyphs">ATP metabolic</text>
<text x="471" y="571.9" font-size="7.75" text-anchor="middle" fill="#231f20" stroke="#231f20" stroke-width="0.19" textLength="24.8" lengthAdjust="spacingAndGlyphs">process</text>
<text x="471" y="593" font-size="7.75" text-anchor="middle" fill="#231f20" stroke="#231f20" stroke-width="0.19" textLength="62.1" lengthAdjust="spacingAndGlyphs">Mitoch. respiratory</text>
<text x="471" y="603.1" font-size="7.75" text-anchor="middle" fill="#231f20" stroke="#231f20" stroke-width="0.19" textLength="65.7" lengthAdjust="spacingAndGlyphs">chain complex asm.</text>
<text x="471" y="622.3" font-size="7.75" text-anchor="middle" fill="#231f20" stroke="#231f20" stroke-width="0.19" textLength="62.4" lengthAdjust="spacingAndGlyphs">Cellular respiration</text>
<text x="471" y="641.6" font-size="7.75" text-anchor="middle" fill="#231f20" stroke="#231f20" stroke-width="0.19" textLength="31.6" lengthAdjust="spacingAndGlyphs">Oxidative</text>
<text x="471" y="651" font-size="7.75" text-anchor="middle" fill="#231f20" stroke="#231f20" stroke-width="0.19" textLength="55.5" lengthAdjust="spacingAndGlyphs">phosphorylation</text>
<text x="471" y="668.9" font-size="7.75" text-anchor="middle" fill="#231f20" stroke="#231f20" stroke-width="0.19" textLength="66.1" lengthAdjust="spacingAndGlyphs">Ribosome assembly</text>
<rect x="119" y="678.6" width="61.4" height="1.2" fill="#3d3d3f"/>
<rect x="185.4" y="678.6" width="61.5" height="1.2" fill="#3d3d3f"/>
<rect x="272.1" y="678.6" width="61.4" height="1.2" fill="#3d3d3f"/>
<rect x="337.8" y="678.6" width="62" height="1.2" fill="#3d3d3f"/>
<text x="139.4" y="692" font-size="6.6" fill="#3d3d3f" stroke="#3d3d3f" stroke-width="0.12">Hbb<tspan font-size="3.8" dy="-3">th3/+</tspan></text>
<text x="194.2" y="692" font-size="6.6" fill="#3d3d3f" stroke="#3d3d3f" stroke-width="0.12">Tfr2<tspan font-size="3.8" dy="-3">BMKO</tspan><tspan dy="3">/Hbb</tspan><tspan font-size="3.8" dy="-3">th3/+</tspan></text>
<text x="291.7" y="692" font-size="6.6" fill="#3d3d3f" stroke="#3d3d3f" stroke-width="0.12">Hbb<tspan font-size="3.8" dy="-3">th3/+</tspan></text>
<text x="346.5" y="692" font-size="6.6" fill="#3d3d3f" stroke="#3d3d3f" stroke-width="0.12">Tfr2<tspan font-size="3.8" dy="-3">BMKO</tspan><tspan dy="3">/Hbb</tspan><tspan font-size="3.8" dy="-3">th3/+</tspan></text>
<rect x="0" y="0" width="520" height="1.2" fill="#111"/>
<rect x="0" y="0" width="1.3" height="701" fill="#111"/>
<rect x="518.6" y="0" width="1.4" height="701" fill="#111"/>
<rect x="0" y="699" width="520" height="2" fill="#111"/></svg></div>
</body></html>
